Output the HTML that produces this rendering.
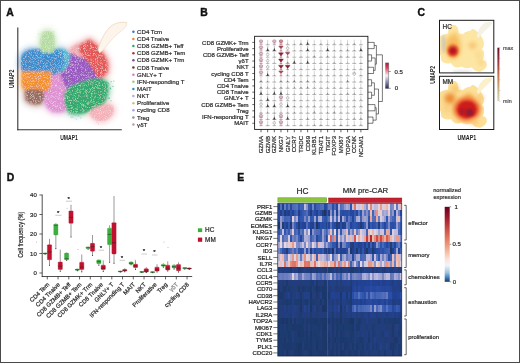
<!DOCTYPE html><html><head><meta charset="utf-8"><style>html,body{margin:0;padding:0;background:#fff;overflow:hidden}svg{display:block;will-change:transform}</style></head><body><svg width="520" height="363" viewBox="0 0 520 363" font-family="'Liberation Sans', sans-serif"><defs>
<filter id="blur1" x="-50%" y="-50%" width="200%" height="200%"><feGaussianBlur stdDeviation="1.2"/></filter>
<filter id="blur2" x="-50%" y="-50%" width="200%" height="200%"><feGaussianBlur stdDeviation="2"/></filter>
<filter id="blur3" x="-50%" y="-50%" width="200%" height="200%"><feGaussianBlur stdDeviation="3"/></filter>
<filter id="blurA" x="-50%" y="-50%" width="200%" height="200%"><feGaussianBlur stdDeviation="0.9"/></filter>
<filter id="blurH" x="-5%" y="-5%" width="110%" height="110%"><feGaussianBlur stdDeviation="0.55"/></filter>
<filter id="blur15" x="-20%" y="-20%" width="140%" height="140%"><feGaussianBlur stdDeviation="1.3"/></filter>
<filter id="blur05" x="-50%" y="-50%" width="200%" height="200%"><feGaussianBlur stdDeviation="0.6"/></filter>
<linearGradient id="cbB" x1="0" y1="0" x2="0" y2="1"><stop offset="0" stop-color="#9c1c36"/><stop offset="0.2" stop-color="#e0405a"/><stop offset="0.5" stop-color="#f4f0f2"/><stop offset="0.75" stop-color="#8a8ab0"/><stop offset="1" stop-color="#1e2450"/></linearGradient>
<linearGradient id="cbC" x1="0" y1="0" x2="0" y2="1"><stop offset="0" stop-color="#6a0f2c"/><stop offset="0.3" stop-color="#a83a40"/><stop offset="0.55" stop-color="#c87a50"/><stop offset="0.8" stop-color="#c8b882"/><stop offset="1" stop-color="#d4d4bc"/></linearGradient>
<linearGradient id="cbE" x1="0" y1="0" x2="0" y2="1"><stop offset="0" stop-color="#67001f"/><stop offset="0.15" stop-color="#a51a2c"/><stop offset="0.35" stop-color="#d6604d"/><stop offset="0.55" stop-color="#f2a98a"/><stop offset="0.7" stop-color="#f9e4da"/><stop offset="0.78" stop-color="#f4f4f6"/><stop offset="0.88" stop-color="#9cc2de"/><stop offset="0.95" stop-color="#3a78b4"/><stop offset="1" stop-color="#1a3468"/></linearGradient>
</defs>
<rect x="0.00" y="0.00" width="520.00" height="363.00" fill="#ffffff" stroke="none" stroke-width="0.8" />
<text stroke="#111" stroke-width="0.4" x="6.20" y="15.70" font-size="10.4" text-anchor="start" fill="#111" font-weight="bold" >A</text>
<g filter="url(#blur3)" opacity="0.28">
<path d="M46,74 C54,70 64,72 72,80 C74,88 72,100 68,108 C64,111 58,112 53,111 C49,109 46,105 45,100 C44,92 45,82 46,74 Z" fill="#de90d2" stroke="#de90d2" stroke-width="8" stroke-linejoin="round"/>
<path d="M60,58 C66,54 76,52 86,55 C94,60 99,68 101,76 L101,84 C92,84 80,86 70,92 C66,88 64,82 62,76 C60,70 59,64 60,58 Z" fill="#9858c0" stroke="#9858c0" stroke-width="8" stroke-linejoin="round"/>
<path d="M52,51 C60,48 67,50 70,55 L68,64 C65,70 60,73 55,73 C52,66 51,58 52,51 Z" fill="#58b8d0" stroke="#58b8d0" stroke-width="8" stroke-linejoin="round"/>
<path d="M23,73 C21,66 21,58 24,54 C27,50 35,50 45,49.5 C52,49.5 58,50 62,51.5 L64,62 C62,68 58,73 52,75 L36,75 Z" fill="#3a8ccc" stroke="#3a8ccc" stroke-width="8" stroke-linejoin="round"/>
<path d="M42,52 C41,46 41,38 43,34 C45,31 50,31 52,34 C54,38 54,46 53,52 Z" fill="#b4dca0" stroke="#b4dca0" stroke-width="8" stroke-linejoin="round"/>
<path d="M22.5,72 L51,72 C51.5,80 50.5,86 48.5,89.5 C42,91.5 35,92.5 30,92 C26,90.5 23,88 22.5,84 Z" fill="#f2902c" stroke="#f2902c" stroke-width="8" stroke-linejoin="round"/>
<path d="M26,91 C30,90 38,90 43,92 C44,96 43,100 40,103 C35,104 30,103 27,100 C26,97 26,94 26,91 Z" fill="#9a6a5c" stroke="#9a6a5c" stroke-width="8" stroke-linejoin="round"/>
<path d="M70,50 C74,46 80,44 85,45 L87,58 C80,57 74,54 70,50 Z" fill="#f2aab0" stroke="#f2aab0" stroke-width="8" stroke-linejoin="round"/>
<path d="M79,48 C81,45 84,43 86,44 C87,42 88,40 90,41 C92,43 94,44 96,46 C99,50 101,53 103,55 C106.5,60 107.5,66 106.5,71 C105,75 102,77 98,77 C95,71 91,64 86,59 C83,56 80,52 79,48 Z" fill="#e45656" stroke="#e45656" stroke-width="8" stroke-linejoin="round"/>
<path d="M65,97 C65,92 67,89 71,87 C79,83 88,80 96,79 C101,79 105,81 107,85 C107.5,92 106,98 104,102 C101,106 96,108.5 90,110.5 C84,112.5 76,113.5 71,112.5 C67,110.5 65,106 65,97 Z" fill="#30aa6e" stroke="#30aa6e" stroke-width="8" stroke-linejoin="round"/>
<path d="M90,112 C94,108 100,106 106,105 C110,105 114,107 113,111 C112,115 108,118 104,120 C100,121 95,119 92,116 Z" fill="#f4b0b8" stroke="#f4b0b8" stroke-width="8" stroke-linejoin="round"/>
</g>
<g filter="url(#blur2)" opacity="0.45">
<path d="M46,74 C54,70 64,72 72,80 C74,88 72,100 68,108 C64,111 58,112 53,111 C49,109 46,105 45,100 C44,92 45,82 46,74 Z" fill="#de90d2" stroke="#de90d2" stroke-width="4.5" stroke-linejoin="round"/>
<path d="M60,58 C66,54 76,52 86,55 C94,60 99,68 101,76 L101,84 C92,84 80,86 70,92 C66,88 64,82 62,76 C60,70 59,64 60,58 Z" fill="#9858c0" stroke="#9858c0" stroke-width="4.5" stroke-linejoin="round"/>
<path d="M52,51 C60,48 67,50 70,55 L68,64 C65,70 60,73 55,73 C52,66 51,58 52,51 Z" fill="#58b8d0" stroke="#58b8d0" stroke-width="4.5" stroke-linejoin="round"/>
<path d="M23,73 C21,66 21,58 24,54 C27,50 35,50 45,49.5 C52,49.5 58,50 62,51.5 L64,62 C62,68 58,73 52,75 L36,75 Z" fill="#3a8ccc" stroke="#3a8ccc" stroke-width="4.5" stroke-linejoin="round"/>
<path d="M42,52 C41,46 41,38 43,34 C45,31 50,31 52,34 C54,38 54,46 53,52 Z" fill="#b4dca0" stroke="#b4dca0" stroke-width="4.5" stroke-linejoin="round"/>
<path d="M22.5,72 L51,72 C51.5,80 50.5,86 48.5,89.5 C42,91.5 35,92.5 30,92 C26,90.5 23,88 22.5,84 Z" fill="#f2902c" stroke="#f2902c" stroke-width="4.5" stroke-linejoin="round"/>
<path d="M26,91 C30,90 38,90 43,92 C44,96 43,100 40,103 C35,104 30,103 27,100 C26,97 26,94 26,91 Z" fill="#9a6a5c" stroke="#9a6a5c" stroke-width="4.5" stroke-linejoin="round"/>
<path d="M70,50 C74,46 80,44 85,45 L87,58 C80,57 74,54 70,50 Z" fill="#f2aab0" stroke="#f2aab0" stroke-width="4.5" stroke-linejoin="round"/>
<path d="M79,48 C81,45 84,43 86,44 C87,42 88,40 90,41 C92,43 94,44 96,46 C99,50 101,53 103,55 C106.5,60 107.5,66 106.5,71 C105,75 102,77 98,77 C95,71 91,64 86,59 C83,56 80,52 79,48 Z" fill="#e45656" stroke="#e45656" stroke-width="4.5" stroke-linejoin="round"/>
<path d="M65,97 C65,92 67,89 71,87 C79,83 88,80 96,79 C101,79 105,81 107,85 C107.5,92 106,98 104,102 C101,106 96,108.5 90,110.5 C84,112.5 76,113.5 71,112.5 C67,110.5 65,106 65,97 Z" fill="#30aa6e" stroke="#30aa6e" stroke-width="4.5" stroke-linejoin="round"/>
<path d="M90,112 C94,108 100,106 106,105 C110,105 114,107 113,111 C112,115 108,118 104,120 C100,121 95,119 92,116 Z" fill="#f4b0b8" stroke="#f4b0b8" stroke-width="4.5" stroke-linejoin="round"/>
</g>
<filter id="speck" x="0" y="0" width="100%" height="100%"><feGaussianBlur in="SourceGraphic" stdDeviation="0.9" result="b"/><feTurbulence type="fractalNoise" baseFrequency="1.6" numOctaves="2" seed="5" result="n"/><feColorMatrix in="n" type="matrix" values="0 0 0 0 1  0 0 0 0 1  0 0 0 0 1  1.4 0 0 0 -0.68" result="w"/><feGaussianBlur in="w" stdDeviation="0.35" result="w2"/><feComposite in="w2" in2="b" operator="in" result="wi"/><feMerge><feMergeNode in="b"/><feMergeNode in="wi"/></feMerge></filter>
<g filter="url(#speck)">
<path d="M46,74 C54,70 64,72 72,80 C74,88 72,100 68,108 C64,111 58,112 53,111 C49,109 46,105 45,100 C44,92 45,82 46,74 Z" fill="#de90d2" stroke="#de90d2" stroke-width="1.6" stroke-linejoin="round"/>
<path d="M60,58 C66,54 76,52 86,55 C94,60 99,68 101,76 L101,84 C92,84 80,86 70,92 C66,88 64,82 62,76 C60,70 59,64 60,58 Z" fill="#9858c0" stroke="#9858c0" stroke-width="1.6" stroke-linejoin="round"/>
<path d="M52,51 C60,48 67,50 70,55 L68,64 C65,70 60,73 55,73 C52,66 51,58 52,51 Z" fill="#58b8d0" stroke="#58b8d0" stroke-width="1.6" stroke-linejoin="round"/>
<path d="M23,73 C21,66 21,58 24,54 C27,50 35,50 45,49.5 C52,49.5 58,50 62,51.5 L64,62 C62,68 58,73 52,75 L36,75 Z" fill="#3a8ccc" stroke="#3a8ccc" stroke-width="1.6" stroke-linejoin="round"/>
<path d="M42,52 C41,46 41,38 43,34 C45,31 50,31 52,34 C54,38 54,46 53,52 Z" fill="#b4dca0" stroke="#b4dca0" stroke-width="1.6" stroke-linejoin="round"/>
<path d="M22.5,72 L51,72 C51.5,80 50.5,86 48.5,89.5 C42,91.5 35,92.5 30,92 C26,90.5 23,88 22.5,84 Z" fill="#f2902c" stroke="#f2902c" stroke-width="1.6" stroke-linejoin="round"/>
<path d="M26,91 C30,90 38,90 43,92 C44,96 43,100 40,103 C35,104 30,103 27,100 C26,97 26,94 26,91 Z" fill="#9a6a5c" stroke="#9a6a5c" stroke-width="1.6" stroke-linejoin="round"/>
<path d="M70,50 C74,46 80,44 85,45 L87,58 C80,57 74,54 70,50 Z" fill="#f2aab0" stroke="#f2aab0" stroke-width="1.6" stroke-linejoin="round"/>
<path d="M79,48 C81,45 84,43 86,44 C87,42 88,40 90,41 C92,43 94,44 96,46 C99,50 101,53 103,55 C106.5,60 107.5,66 106.5,71 C105,75 102,77 98,77 C95,71 91,64 86,59 C83,56 80,52 79,48 Z" fill="#e45656" stroke="#e45656" stroke-width="1.6" stroke-linejoin="round"/>
<path d="M65,97 C65,92 67,89 71,87 C79,83 88,80 96,79 C101,79 105,81 107,85 C107.5,92 106,98 104,102 C101,106 96,108.5 90,110.5 C84,112.5 76,113.5 71,112.5 C67,110.5 65,106 65,97 Z" fill="#30aa6e" stroke="#30aa6e" stroke-width="1.6" stroke-linejoin="round"/>
<path d="M90,112 C94,108 100,106 106,105 C110,105 114,107 113,111 C112,115 108,118 104,120 C100,121 95,119 92,116 Z" fill="#f4b0b8" stroke="#f4b0b8" stroke-width="1.6" stroke-linejoin="round"/>
</g>
<circle cx="108.6" cy="83.3" r="0.6" fill="#2aa86a" opacity="0.6"/>
<circle cx="111.2" cy="81.6" r="0.6" fill="#2aa86a" opacity="0.6"/>
<circle cx="110.3" cy="88.0" r="0.6" fill="#2aa86a" opacity="0.6"/>
<circle cx="106.5" cy="91.2" r="0.6" fill="#2aa86a" opacity="0.6"/>
<circle cx="106.3" cy="89.5" r="0.6" fill="#2aa86a" opacity="0.6"/>
<circle cx="106.6" cy="82.0" r="0.6" fill="#2aa86a" opacity="0.6"/>
<circle cx="109.4" cy="98.2" r="0.6" fill="#2aa86a" opacity="0.6"/>
<circle cx="107.0" cy="84.9" r="0.6" fill="#2aa86a" opacity="0.6"/>
<circle cx="111.0" cy="100.8" r="0.6" fill="#2aa86a" opacity="0.6"/>
<circle cx="110.6" cy="88.7" r="0.6" fill="#2aa86a" opacity="0.6"/>
<circle cx="113.8" cy="81.0" r="0.6" fill="#2aa86a" opacity="0.6"/>
<circle cx="112.9" cy="86.4" r="0.6" fill="#2aa86a" opacity="0.6"/>
<circle cx="107.2" cy="82.6" r="0.6" fill="#2aa86a" opacity="0.6"/>
<circle cx="108.5" cy="98.0" r="0.6" fill="#2aa86a" opacity="0.6"/>
<circle cx="70.9" cy="117.1" r="0.6" fill="#b8a8e0" opacity="0.6"/>
<circle cx="78.2" cy="115.6" r="0.6" fill="#b8a8e0" opacity="0.6"/>
<circle cx="76.8" cy="113.4" r="0.6" fill="#b8a8e0" opacity="0.6"/>
<circle cx="69.0" cy="114.4" r="0.6" fill="#b8a8e0" opacity="0.6"/>
<circle cx="78.9" cy="116.0" r="0.6" fill="#b8a8e0" opacity="0.6"/>
<circle cx="73.0" cy="117.1" r="0.6" fill="#b8a8e0" opacity="0.6"/>
<circle cx="75.3" cy="115.1" r="0.6" fill="#b8a8e0" opacity="0.6"/>
<circle cx="80.7" cy="117.9" r="0.6" fill="#b8a8e0" opacity="0.6"/>
<circle cx="71.9" cy="117.0" r="0.6" fill="#b8a8e0" opacity="0.6"/>
<circle cx="76.4" cy="119.1" r="0.6" fill="#b8a8e0" opacity="0.6"/>
<circle cx="100.4" cy="120.3" r="0.6" fill="#f4a8b0" opacity="0.6"/>
<circle cx="101.9" cy="118.9" r="0.6" fill="#f4a8b0" opacity="0.6"/>
<circle cx="98.5" cy="124.1" r="0.6" fill="#f4a8b0" opacity="0.6"/>
<circle cx="96.9" cy="121.9" r="0.6" fill="#f4a8b0" opacity="0.6"/>
<circle cx="38.7" cy="34.0" r="0.6" fill="#a8d890" opacity="0.6"/>
<circle cx="51.8" cy="33.4" r="0.6" fill="#a8d890" opacity="0.6"/>
<circle cx="53.8" cy="31.9" r="0.6" fill="#a8d890" opacity="0.6"/>
<circle cx="50.5" cy="33.6" r="0.6" fill="#a8d890" opacity="0.6"/>
<circle cx="48.4" cy="32.7" r="0.6" fill="#a8d890" opacity="0.6"/>
<circle cx="53.1" cy="35.7" r="0.6" fill="#a8d890" opacity="0.6"/>
<circle cx="41.1" cy="49.7" r="0.6" fill="#c8c0e8" opacity="0.6"/>
<circle cx="26.2" cy="49.8" r="0.6" fill="#c8c0e8" opacity="0.6"/>
<circle cx="47.3" cy="51.0" r="0.6" fill="#c8c0e8" opacity="0.6"/>
<circle cx="53.6" cy="48.1" r="0.6" fill="#c8c0e8" opacity="0.6"/>
<circle cx="37.9" cy="49.7" r="0.6" fill="#c8c0e8" opacity="0.6"/>
<circle cx="24.8" cy="48.8" r="0.6" fill="#c8c0e8" opacity="0.6"/>
<circle cx="30.0" cy="47.5" r="0.6" fill="#c8c0e8" opacity="0.6"/>
<circle cx="26.1" cy="50.1" r="0.6" fill="#c8c0e8" opacity="0.6"/>
<circle cx="28.7" cy="48.0" r="0.6" fill="#c8c0e8" opacity="0.6"/>
<circle cx="38.1" cy="50.5" r="0.6" fill="#c8c0e8" opacity="0.6"/>
<path d="M98,50 C100,42 104,33 110,27 C114,23.5 120,21.5 126.7,22.5 C127,26 124,29 120,32 C116,35 112,39 108,44 C105,48 102,51 99.4,53 Z" fill="#fdf5ec" stroke="none" filter="url(#blur05)"/>
<path d="M98,50 C100,42 104,33 110,27 C114,23.5 120,21.5 126.7,22.5" fill="none" stroke="#efd6b8" stroke-width="0.8" filter="url(#blur05)"/>
<path d="M126.7,22.5 C127,26 124,29 120,32 C116,35 112,39 108,44 C105,48 102,51 99.4,53" fill="none" stroke="#f3dfc6" stroke-width="0.8" filter="url(#blur05)"/>
<line x1="17.80" y1="27.50" x2="17.80" y2="130.20" stroke="#333" stroke-width="1.1" />
<line x1="17.30" y1="129.80" x2="121.80" y2="129.80" stroke="#333" stroke-width="1.1" />
<text transform="translate(13.6,78.8) rotate(-90) scale(0.65,1)" font-size="8.1" font-weight="bold" text-anchor="middle" fill="#1e1e1e">UMAP2</text>
<text transform="translate(69.0,139.6) scale(0.65,1)" font-size="7.8" font-weight="bold" text-anchor="middle" fill="#1e1e1e">UMAP1</text>
<circle cx="133.4" cy="31.80" r="1.25" fill="#2a7fc0"/>
<text stroke="#3a3a3a" stroke-width="0.22" x="137.10" y="33.90" font-size="6.1" text-anchor="start" fill="#262626" font-weight="normal" >CD4 Tcm</text>
<circle cx="133.4" cy="38.94" r="1.25" fill="#f08a24"/>
<text stroke="#3a3a3a" stroke-width="0.22" x="137.10" y="41.04" font-size="6.1" text-anchor="start" fill="#262626" font-weight="normal" >CD4 Tnaive</text>
<circle cx="133.4" cy="46.08" r="1.25" fill="#2ca868"/>
<text stroke="#3a3a3a" stroke-width="0.22" x="137.10" y="48.18" font-size="6.1" text-anchor="start" fill="#262626" font-weight="normal" >CD8 GZMB+ Teff</text>
<circle cx="133.4" cy="53.22" r="1.25" fill="#c8283a"/>
<text stroke="#3a3a3a" stroke-width="0.22" x="137.10" y="55.32" font-size="6.1" text-anchor="start" fill="#262626" font-weight="normal" >CD8 GZMB+ Tem</text>
<circle cx="133.4" cy="60.36" r="1.25" fill="#7a4aa0"/>
<text stroke="#3a3a3a" stroke-width="0.22" x="137.10" y="62.46" font-size="6.1" text-anchor="start" fill="#262626" font-weight="normal" >CD8 GZMK+ Trm</text>
<circle cx="133.4" cy="67.50" r="1.25" fill="#6a3a30"/>
<text stroke="#3a3a3a" stroke-width="0.22" x="137.10" y="69.60" font-size="6.1" text-anchor="start" fill="#262626" font-weight="normal" >CD8 Tnaive</text>
<circle cx="133.4" cy="74.64" r="1.25" fill="#d77cc4"/>
<text stroke="#3a3a3a" stroke-width="0.22" x="137.10" y="76.74" font-size="6.1" text-anchor="start" fill="#262626" font-weight="normal" >GNLY+ T</text>
<circle cx="133.4" cy="81.78" r="1.25" fill="#a6c86a"/>
<text stroke="#3a3a3a" stroke-width="0.22" x="137.10" y="83.88" font-size="6.1" text-anchor="start" fill="#262626" font-weight="normal" >IFN-responding T</text>
<circle cx="133.4" cy="88.92" r="1.25" fill="#3090c0"/>
<text stroke="#3a3a3a" stroke-width="0.22" x="137.10" y="91.02" font-size="6.1" text-anchor="start" fill="#262626" font-weight="normal" >MAIT</text>
<circle cx="133.4" cy="96.06" r="1.25" fill="#a8b0e0"/>
<text stroke="#3a3a3a" stroke-width="0.22" x="137.10" y="98.16" font-size="6.1" text-anchor="start" fill="#262626" font-weight="normal" >NKT</text>
<circle cx="133.4" cy="103.20" r="1.25" fill="#e0b880"/>
<text stroke="#3a3a3a" stroke-width="0.22" x="137.10" y="105.30" font-size="6.1" text-anchor="start" fill="#262626" font-weight="normal" >Proliferative</text>
<circle cx="133.4" cy="110.34" r="1.25" fill="#b0a0e0"/>
<text stroke="#3a3a3a" stroke-width="0.22" x="137.10" y="112.44" font-size="6.1" text-anchor="start" fill="#262626" font-weight="normal" >cycling CD8</text>
<circle cx="133.4" cy="117.48" r="1.25" fill="#909090"/>
<text stroke="#3a3a3a" stroke-width="0.22" x="137.10" y="119.58" font-size="6.1" text-anchor="start" fill="#262626" font-weight="normal" >Treg</text>
<circle cx="133.4" cy="124.62" r="1.25" fill="#c09aa8"/>
<text stroke="#3a3a3a" stroke-width="0.22" x="137.10" y="126.72" font-size="6.1" text-anchor="start" fill="#262626" font-weight="normal" >γδT</text>
<text stroke="#111" stroke-width="0.4" x="200.20" y="15.90" font-size="10.4" text-anchor="start" fill="#111" font-weight="bold" >B</text>
<text stroke="#333" stroke-width="0.22" x="248.60" y="44.50" font-size="6.0" text-anchor="end" fill="#1e1e1e" font-weight="normal" >CD8 GZMK+ Trm</text>
<line x1="252.30" y1="42.40" x2="254.60" y2="42.40" stroke="#222" stroke-width="0.7" />
<text stroke="#333" stroke-width="0.22" x="248.60" y="50.72" font-size="6.0" text-anchor="end" fill="#1e1e1e" font-weight="normal" >Proliferative</text>
<line x1="252.30" y1="48.62" x2="254.60" y2="48.62" stroke="#222" stroke-width="0.7" />
<text stroke="#333" stroke-width="0.22" x="248.60" y="56.94" font-size="6.0" text-anchor="end" fill="#1e1e1e" font-weight="normal" >CD8 GZMB+ Teff</text>
<line x1="252.30" y1="54.84" x2="254.60" y2="54.84" stroke="#222" stroke-width="0.7" />
<text stroke="#333" stroke-width="0.22" x="248.60" y="63.16" font-size="6.0" text-anchor="end" fill="#1e1e1e" font-weight="normal" >γδT</text>
<line x1="252.30" y1="61.06" x2="254.60" y2="61.06" stroke="#222" stroke-width="0.7" />
<text stroke="#333" stroke-width="0.22" x="248.60" y="69.38" font-size="6.0" text-anchor="end" fill="#1e1e1e" font-weight="normal" >NKT</text>
<line x1="252.30" y1="67.28" x2="254.60" y2="67.28" stroke="#222" stroke-width="0.7" />
<text stroke="#333" stroke-width="0.22" x="248.60" y="75.60" font-size="6.0" text-anchor="end" fill="#1e1e1e" font-weight="normal" >cycling CD8 T</text>
<line x1="252.30" y1="73.50" x2="254.60" y2="73.50" stroke="#222" stroke-width="0.7" />
<text stroke="#333" stroke-width="0.22" x="248.60" y="81.82" font-size="6.0" text-anchor="end" fill="#1e1e1e" font-weight="normal" >CD4 Tem</text>
<line x1="252.30" y1="79.72" x2="254.60" y2="79.72" stroke="#222" stroke-width="0.7" />
<text stroke="#333" stroke-width="0.22" x="248.60" y="88.04" font-size="6.0" text-anchor="end" fill="#1e1e1e" font-weight="normal" >CD4 Tnaive</text>
<line x1="252.30" y1="85.94" x2="254.60" y2="85.94" stroke="#222" stroke-width="0.7" />
<text stroke="#333" stroke-width="0.22" x="248.60" y="94.26" font-size="6.0" text-anchor="end" fill="#1e1e1e" font-weight="normal" >CD8 Tnaive</text>
<line x1="252.30" y1="92.16" x2="254.60" y2="92.16" stroke="#222" stroke-width="0.7" />
<text stroke="#333" stroke-width="0.22" x="248.60" y="100.48" font-size="6.0" text-anchor="end" fill="#1e1e1e" font-weight="normal" >GNLY+ T</text>
<line x1="252.30" y1="98.38" x2="254.60" y2="98.38" stroke="#222" stroke-width="0.7" />
<text stroke="#333" stroke-width="0.22" x="248.60" y="106.70" font-size="6.0" text-anchor="end" fill="#1e1e1e" font-weight="normal" >CD8 GZMB+ Tem</text>
<line x1="252.30" y1="104.60" x2="254.60" y2="104.60" stroke="#222" stroke-width="0.7" />
<text stroke="#333" stroke-width="0.22" x="248.60" y="112.92" font-size="6.0" text-anchor="end" fill="#1e1e1e" font-weight="normal" >Treg</text>
<line x1="252.30" y1="110.82" x2="254.60" y2="110.82" stroke="#222" stroke-width="0.7" />
<text stroke="#333" stroke-width="0.22" x="248.60" y="119.14" font-size="6.0" text-anchor="end" fill="#1e1e1e" font-weight="normal" >IFN-responding T</text>
<line x1="252.30" y1="117.04" x2="254.60" y2="117.04" stroke="#222" stroke-width="0.7" />
<text stroke="#333" stroke-width="0.22" x="248.60" y="125.36" font-size="6.0" text-anchor="end" fill="#1e1e1e" font-weight="normal" >MAIT</text>
<line x1="252.30" y1="123.26" x2="254.60" y2="123.26" stroke="#222" stroke-width="0.7" />
<line x1="261.00" y1="129.40" x2="261.00" y2="132.30" stroke="#222" stroke-width="0.7" />
<text stroke="#333" stroke-width="0.22" transform="translate(263.10,136.00) rotate(-90)" font-size="6.0" text-anchor="end" fill="#1e1e1e">GZMA</text>
<line x1="267.66" y1="129.40" x2="267.66" y2="132.30" stroke="#222" stroke-width="0.7" />
<text stroke="#333" stroke-width="0.22" transform="translate(269.76,136.00) rotate(-90)" font-size="6.0" text-anchor="end" fill="#1e1e1e">GZMB</text>
<line x1="274.32" y1="129.40" x2="274.32" y2="132.30" stroke="#222" stroke-width="0.7" />
<text stroke="#333" stroke-width="0.22" transform="translate(276.42,136.00) rotate(-90)" font-size="6.0" text-anchor="end" fill="#1e1e1e">GZMK</text>
<line x1="280.98" y1="129.40" x2="280.98" y2="132.30" stroke="#222" stroke-width="0.7" />
<text stroke="#333" stroke-width="0.22" transform="translate(283.08,136.00) rotate(-90)" font-size="6.0" text-anchor="end" fill="#1e1e1e">NKG7</text>
<line x1="287.64" y1="129.40" x2="287.64" y2="132.30" stroke="#222" stroke-width="0.7" />
<text stroke="#333" stroke-width="0.22" transform="translate(289.74,136.00) rotate(-90)" font-size="6.0" text-anchor="end" fill="#1e1e1e">GNLY</text>
<line x1="294.30" y1="129.40" x2="294.30" y2="132.30" stroke="#222" stroke-width="0.7" />
<text stroke="#333" stroke-width="0.22" transform="translate(296.40,136.00) rotate(-90)" font-size="6.0" text-anchor="end" fill="#1e1e1e">CCR7</text>
<line x1="300.96" y1="129.40" x2="300.96" y2="132.30" stroke="#222" stroke-width="0.7" />
<text stroke="#333" stroke-width="0.22" transform="translate(303.06,136.00) rotate(-90)" font-size="6.0" text-anchor="end" fill="#1e1e1e">TRDC</text>
<line x1="307.62" y1="129.40" x2="307.62" y2="132.30" stroke="#222" stroke-width="0.7" />
<text stroke="#333" stroke-width="0.22" transform="translate(309.72,136.00) rotate(-90)" font-size="6.0" text-anchor="end" fill="#1e1e1e">CD69</text>
<line x1="314.28" y1="129.40" x2="314.28" y2="132.30" stroke="#222" stroke-width="0.7" />
<text stroke="#333" stroke-width="0.22" transform="translate(316.38,136.00) rotate(-90)" font-size="6.0" text-anchor="end" fill="#1e1e1e">KLRB1</text>
<line x1="320.94" y1="129.40" x2="320.94" y2="132.30" stroke="#222" stroke-width="0.7" />
<text stroke="#333" stroke-width="0.22" transform="translate(323.04,136.00) rotate(-90)" font-size="6.0" text-anchor="end" fill="#1e1e1e">TRAT1</text>
<line x1="327.60" y1="129.40" x2="327.60" y2="132.30" stroke="#222" stroke-width="0.7" />
<text stroke="#333" stroke-width="0.22" transform="translate(329.70,136.00) rotate(-90)" font-size="6.0" text-anchor="end" fill="#1e1e1e">TIGIT</text>
<line x1="334.26" y1="129.40" x2="334.26" y2="132.30" stroke="#222" stroke-width="0.7" />
<text stroke="#333" stroke-width="0.22" transform="translate(336.36,136.00) rotate(-90)" font-size="6.0" text-anchor="end" fill="#1e1e1e">FOXP3</text>
<line x1="340.92" y1="129.40" x2="340.92" y2="132.30" stroke="#222" stroke-width="0.7" />
<text stroke="#333" stroke-width="0.22" transform="translate(343.02,136.00) rotate(-90)" font-size="6.0" text-anchor="end" fill="#1e1e1e">MKI67</text>
<line x1="347.58" y1="129.40" x2="347.58" y2="132.30" stroke="#222" stroke-width="0.7" />
<text stroke="#333" stroke-width="0.22" transform="translate(349.68,136.00) rotate(-90)" font-size="6.0" text-anchor="end" fill="#1e1e1e">TOP2A</text>
<line x1="354.24" y1="129.40" x2="354.24" y2="132.30" stroke="#222" stroke-width="0.7" />
<text stroke="#333" stroke-width="0.22" transform="translate(356.34,136.00) rotate(-90)" font-size="6.0" text-anchor="end" fill="#1e1e1e">CCNK</text>
<line x1="360.90" y1="129.40" x2="360.90" y2="132.30" stroke="#222" stroke-width="0.7" />
<text stroke="#333" stroke-width="0.22" transform="translate(363.00,136.00) rotate(-90)" font-size="6.0" text-anchor="end" fill="#1e1e1e">NCAM1</text>
<line x1="261.00" y1="39.70" x2="261.00" y2="44.80" stroke="#9a6878" stroke-width="0.5" />
<line x1="259.40" y1="44.80" x2="262.60" y2="44.80" stroke="#9a6878" stroke-width="0.6" />
<line x1="259.30" y1="42.90" x2="262.70" y2="42.90" stroke="#9a6878" stroke-width="0.5" />
<ellipse cx="261.00" cy="41.10" rx="1.8" ry="1.2" fill="#e4c4cc" stroke="#9a6878" stroke-width="0.5"/>
<line x1="267.66" y1="39.70" x2="267.66" y2="44.80" stroke="#a0a0a0" stroke-width="0.45" />
<line x1="265.66" y1="44.80" x2="269.66" y2="44.80" stroke="#808080" stroke-width="0.55" />
<path d="M267.10,44.80 L268.22,44.80 L267.66,43.28Z" fill="#949494" stroke="none" stroke-width="0.3"/>
<line x1="274.32" y1="39.70" x2="274.32" y2="44.80" stroke="#9a6878" stroke-width="0.5" />
<line x1="272.72" y1="44.80" x2="275.92" y2="44.80" stroke="#9a6878" stroke-width="0.6" />
<line x1="272.62" y1="42.90" x2="276.02" y2="42.90" stroke="#9a6878" stroke-width="0.5" />
<ellipse cx="274.32" cy="41.10" rx="1.8" ry="1.2" fill="#e4c4cc" stroke="#9a6878" stroke-width="0.5"/>
<line x1="280.98" y1="39.70" x2="280.98" y2="44.80" stroke="#9a3a4c" stroke-width="0.5" />
<line x1="279.38" y1="44.80" x2="282.58" y2="44.80" stroke="#9a3a4c" stroke-width="0.6" />
<line x1="279.28" y1="42.90" x2="282.68" y2="42.90" stroke="#9a3a4c" stroke-width="0.5" />
<ellipse cx="280.98" cy="41.10" rx="1.8" ry="1.2" fill="#d89aa6" stroke="#9a3a4c" stroke-width="0.5"/>
<line x1="287.64" y1="39.70" x2="287.64" y2="44.80" stroke="#a0a0a0" stroke-width="0.45" />
<line x1="285.64" y1="44.80" x2="289.64" y2="44.80" stroke="#808080" stroke-width="0.55" />
<path d="M286.52,44.80 L288.76,44.80 L287.64,42.69Z" fill="#aaaaaa" stroke="none" stroke-width="0.3"/>
<line x1="294.30" y1="39.70" x2="294.30" y2="44.80" stroke="#a0a0a0" stroke-width="0.45" />
<line x1="292.30" y1="44.80" x2="296.30" y2="44.80" stroke="#808080" stroke-width="0.55" />
<path d="M293.61,44.80 L294.99,44.80 L294.30,43.34Z" fill="#878787" stroke="none" stroke-width="0.3"/>
<line x1="300.96" y1="39.70" x2="300.96" y2="44.80" stroke="#a0a0a0" stroke-width="0.45" />
<line x1="298.96" y1="44.80" x2="302.96" y2="44.80" stroke="#808080" stroke-width="0.55" />
<path d="M299.84,44.80 L302.08,44.80 L300.96,42.47Z" fill="#787878" stroke="none" stroke-width="0.3"/>
<line x1="307.62" y1="39.70" x2="307.62" y2="44.80" stroke="#777" stroke-width="0.5" />
<line x1="305.52" y1="44.80" x2="309.72" y2="44.80" stroke="#666" stroke-width="0.55" />
<path d="M306.32,44.80 L308.92,44.80 L307.92,42.60 L307.62,41.60 L307.32,42.60Z" fill="#404040" stroke="none" stroke-width="0.3"/>
<line x1="314.28" y1="39.70" x2="314.28" y2="44.80" stroke="#a0a0a0" stroke-width="0.45" />
<line x1="312.28" y1="44.80" x2="316.28" y2="44.80" stroke="#808080" stroke-width="0.55" />
<path d="M313.66,44.80 L314.90,44.80 L314.28,43.63Z" fill="#7e7e7e" stroke="none" stroke-width="0.3"/>
<line x1="320.94" y1="39.70" x2="320.94" y2="44.80" stroke="#a0a0a0" stroke-width="0.45" />
<line x1="318.94" y1="44.80" x2="322.94" y2="44.80" stroke="#808080" stroke-width="0.55" />
<path d="M320.10,44.80 L321.78,44.80 L320.94,43.06Z" fill="#808080" stroke="none" stroke-width="0.3"/>
<line x1="327.60" y1="39.70" x2="327.60" y2="44.80" stroke="#a0a0a0" stroke-width="0.45" />
<line x1="325.60" y1="44.80" x2="329.60" y2="44.80" stroke="#808080" stroke-width="0.55" />
<path d="M327.10,44.80 L328.10,44.80 L327.60,43.33Z" fill="#878787" stroke="none" stroke-width="0.3"/>
<line x1="334.26" y1="39.70" x2="334.26" y2="44.80" stroke="#a0a0a0" stroke-width="0.45" />
<line x1="332.26" y1="44.80" x2="336.26" y2="44.80" stroke="#808080" stroke-width="0.55" />
<path d="M333.36,44.80 L335.16,44.80 L334.26,42.48Z" fill="#9e9e9e" stroke="none" stroke-width="0.3"/>
<line x1="340.92" y1="39.70" x2="340.92" y2="44.80" stroke="#a0a0a0" stroke-width="0.45" />
<line x1="338.92" y1="44.80" x2="342.92" y2="44.80" stroke="#808080" stroke-width="0.55" />
<path d="M340.06,44.80 L341.78,44.80 L340.92,43.01Z" fill="#9d9d9d" stroke="none" stroke-width="0.3"/>
<line x1="347.58" y1="39.70" x2="347.58" y2="44.80" stroke="#a0a0a0" stroke-width="0.45" />
<line x1="345.58" y1="44.80" x2="349.58" y2="44.80" stroke="#808080" stroke-width="0.55" />
<path d="M347.04,44.80 L348.12,44.80 L347.58,42.56Z" fill="#a4a4a4" stroke="none" stroke-width="0.3"/>
<line x1="354.24" y1="39.70" x2="354.24" y2="44.80" stroke="#a0a0a0" stroke-width="0.45" />
<line x1="352.24" y1="44.80" x2="356.24" y2="44.80" stroke="#808080" stroke-width="0.55" />
<path d="M353.13,44.80 L355.35,44.80 L354.24,42.72Z" fill="#898989" stroke="none" stroke-width="0.3"/>
<line x1="360.90" y1="39.70" x2="360.90" y2="44.80" stroke="#a0a0a0" stroke-width="0.45" />
<line x1="358.90" y1="44.80" x2="362.90" y2="44.80" stroke="#808080" stroke-width="0.55" />
<path d="M360.12,44.80 L361.68,44.80 L360.90,43.83Z" fill="#9a9a9a" stroke="none" stroke-width="0.3"/>
<line x1="261.00" y1="45.92" x2="261.00" y2="51.02" stroke="#9a6878" stroke-width="0.5" />
<line x1="259.40" y1="51.02" x2="262.60" y2="51.02" stroke="#9a6878" stroke-width="0.6" />
<line x1="259.30" y1="49.12" x2="262.70" y2="49.12" stroke="#9a6878" stroke-width="0.5" />
<ellipse cx="261.00" cy="47.32" rx="1.8" ry="1.2" fill="#e4c4cc" stroke="#9a6878" stroke-width="0.5"/>
<line x1="267.66" y1="45.92" x2="267.66" y2="51.02" stroke="#777" stroke-width="0.5" />
<line x1="265.56" y1="51.02" x2="269.76" y2="51.02" stroke="#666" stroke-width="0.55" />
<path d="M266.36,51.02 L268.96,51.02 L267.96,48.82 L267.66,47.82 L267.36,48.82Z" fill="#404040" stroke="none" stroke-width="0.3"/>
<line x1="274.32" y1="45.92" x2="274.32" y2="51.02" stroke="#777" stroke-width="0.5" />
<line x1="272.22" y1="51.02" x2="276.42" y2="51.02" stroke="#666" stroke-width="0.55" />
<path d="M273.02,51.02 L275.62,51.02 L274.62,48.82 L274.32,47.82 L274.02,48.82Z" fill="#404040" stroke="none" stroke-width="0.3"/>
<line x1="280.98" y1="45.92" x2="280.98" y2="51.02" stroke="#8a3040" stroke-width="0.55" />
<line x1="279.58" y1="51.02" x2="282.38" y2="51.02" stroke="#8a3040" stroke-width="0.55" />
<path d="M278.78,46.02 L283.18,46.02 L282.58,47.12 L281.48,48.22 L280.48,48.22 L279.38,47.12Z" fill="#b04a5a" stroke="#8a3040" stroke-width="0.35"/>
<line x1="287.64" y1="45.92" x2="287.64" y2="51.02" stroke="#888" stroke-width="0.45" />
<line x1="285.84" y1="51.02" x2="289.44" y2="51.02" stroke="#888" stroke-width="0.55" />
<ellipse cx="287.64" cy="48.22" rx="1.4" ry="1.2" fill="#fafafa" stroke="#858585" stroke-width="0.45"/>
<line x1="294.30" y1="45.92" x2="294.30" y2="51.02" stroke="#a0a0a0" stroke-width="0.45" />
<line x1="292.30" y1="51.02" x2="296.30" y2="51.02" stroke="#808080" stroke-width="0.55" />
<path d="M293.76,51.02 L294.84,51.02 L294.30,50.11Z" fill="#7c7c7c" stroke="none" stroke-width="0.3"/>
<line x1="300.96" y1="45.92" x2="300.96" y2="51.02" stroke="#a0a0a0" stroke-width="0.45" />
<line x1="298.96" y1="51.02" x2="302.96" y2="51.02" stroke="#808080" stroke-width="0.55" />
<path d="M300.35,51.02 L301.57,51.02 L300.96,49.68Z" fill="#717171" stroke="none" stroke-width="0.3"/>
<line x1="307.62" y1="45.92" x2="307.62" y2="51.02" stroke="#777" stroke-width="0.5" />
<line x1="305.52" y1="51.02" x2="309.72" y2="51.02" stroke="#666" stroke-width="0.55" />
<path d="M306.32,51.02 L308.92,51.02 L307.92,48.82 L307.62,47.82 L307.32,48.82Z" fill="#404040" stroke="none" stroke-width="0.3"/>
<line x1="314.28" y1="45.92" x2="314.28" y2="51.02" stroke="#a0a0a0" stroke-width="0.45" />
<line x1="312.28" y1="51.02" x2="316.28" y2="51.02" stroke="#808080" stroke-width="0.55" />
<path d="M313.78,51.02 L314.78,51.02 L314.28,49.98Z" fill="#757575" stroke="none" stroke-width="0.3"/>
<line x1="320.94" y1="45.92" x2="320.94" y2="51.02" stroke="#a0a0a0" stroke-width="0.45" />
<line x1="318.94" y1="51.02" x2="322.94" y2="51.02" stroke="#808080" stroke-width="0.55" />
<path d="M320.19,51.02 L321.69,51.02 L320.94,50.18Z" fill="#ababab" stroke="none" stroke-width="0.3"/>
<line x1="327.60" y1="45.92" x2="327.60" y2="51.02" stroke="#777" stroke-width="0.5" />
<line x1="325.50" y1="51.02" x2="329.70" y2="51.02" stroke="#666" stroke-width="0.55" />
<path d="M326.30,51.02 L328.90,51.02 L327.90,48.82 L327.60,47.82 L327.30,48.82Z" fill="#404040" stroke="none" stroke-width="0.3"/>
<line x1="334.26" y1="45.92" x2="334.26" y2="51.02" stroke="#a0a0a0" stroke-width="0.45" />
<line x1="332.26" y1="51.02" x2="336.26" y2="51.02" stroke="#808080" stroke-width="0.55" />
<path d="M333.33,51.02 L335.19,51.02 L334.26,49.98Z" fill="#7f7f7f" stroke="none" stroke-width="0.3"/>
<line x1="340.92" y1="45.92" x2="340.92" y2="51.02" stroke="#a0a0a0" stroke-width="0.45" />
<line x1="338.92" y1="51.02" x2="342.92" y2="51.02" stroke="#808080" stroke-width="0.55" />
<path d="M340.18,51.02 L341.66,51.02 L340.92,49.64Z" fill="#767676" stroke="none" stroke-width="0.3"/>
<line x1="347.58" y1="45.92" x2="347.58" y2="51.02" stroke="#a0a0a0" stroke-width="0.45" />
<line x1="345.58" y1="51.02" x2="349.58" y2="51.02" stroke="#808080" stroke-width="0.55" />
<path d="M346.49,51.02 L348.67,51.02 L347.58,48.63Z" fill="#8e8e8e" stroke="none" stroke-width="0.3"/>
<line x1="354.24" y1="45.92" x2="354.24" y2="51.02" stroke="#a0a0a0" stroke-width="0.45" />
<line x1="352.24" y1="51.02" x2="356.24" y2="51.02" stroke="#808080" stroke-width="0.55" />
<path d="M353.40,51.02 L355.08,51.02 L354.24,50.08Z" fill="#757575" stroke="none" stroke-width="0.3"/>
<line x1="360.90" y1="45.92" x2="360.90" y2="51.02" stroke="#777" stroke-width="0.5" />
<line x1="358.80" y1="51.02" x2="363.00" y2="51.02" stroke="#666" stroke-width="0.55" />
<path d="M359.60,51.02 L362.20,51.02 L361.20,48.82 L360.90,47.82 L360.60,48.82Z" fill="#404040" stroke="none" stroke-width="0.3"/>
<line x1="261.00" y1="52.14" x2="261.00" y2="57.24" stroke="#9a6878" stroke-width="0.5" />
<line x1="259.40" y1="57.24" x2="262.60" y2="57.24" stroke="#9a6878" stroke-width="0.6" />
<line x1="259.30" y1="55.34" x2="262.70" y2="55.34" stroke="#9a6878" stroke-width="0.5" />
<ellipse cx="261.00" cy="53.54" rx="1.8" ry="1.2" fill="#e4c4cc" stroke="#9a6878" stroke-width="0.5"/>
<line x1="267.66" y1="52.14" x2="267.66" y2="57.24" stroke="#888" stroke-width="0.45" />
<line x1="265.86" y1="57.24" x2="269.46" y2="57.24" stroke="#888" stroke-width="0.55" />
<ellipse cx="267.66" cy="54.44" rx="1.4" ry="1.2" fill="#fafafa" stroke="#858585" stroke-width="0.45"/>
<line x1="274.32" y1="52.14" x2="274.32" y2="57.24" stroke="#a0a0a0" stroke-width="0.45" />
<line x1="272.32" y1="57.24" x2="276.32" y2="57.24" stroke="#808080" stroke-width="0.55" />
<path d="M273.58,57.24 L275.06,57.24 L274.32,56.02Z" fill="#a8a8a8" stroke="none" stroke-width="0.3"/>
<line x1="280.98" y1="52.14" x2="280.98" y2="57.24" stroke="#8a3040" stroke-width="0.5" />
<line x1="279.68" y1="57.24" x2="282.28" y2="57.24" stroke="#8a3040" stroke-width="0.55" />
<path d="M278.58,52.74 L283.38,52.74 L282.88,53.84 L281.88,54.84 L281.33,55.74 L280.63,55.74 L280.08,54.84 L279.08,53.84Z" fill="#8e2034" stroke="#7a1828" stroke-width="0.3"/>
<line x1="287.64" y1="52.14" x2="287.64" y2="57.24" stroke="#8a3040" stroke-width="0.55" />
<line x1="286.24" y1="57.24" x2="289.04" y2="57.24" stroke="#8a3040" stroke-width="0.55" />
<path d="M285.44,52.24 L289.84,52.24 L289.24,53.34 L288.14,54.44 L287.14,54.44 L286.04,53.34Z" fill="#b04a5a" stroke="#8a3040" stroke-width="0.35"/>
<line x1="294.30" y1="52.14" x2="294.30" y2="57.24" stroke="#a0a0a0" stroke-width="0.45" />
<line x1="292.30" y1="57.24" x2="296.30" y2="57.24" stroke="#808080" stroke-width="0.55" />
<path d="M293.69,57.24 L294.91,57.24 L294.30,56.40Z" fill="#b0b0b0" stroke="none" stroke-width="0.3"/>
<line x1="300.96" y1="52.14" x2="300.96" y2="57.24" stroke="#a0a0a0" stroke-width="0.45" />
<line x1="298.96" y1="57.24" x2="302.96" y2="57.24" stroke="#808080" stroke-width="0.55" />
<path d="M300.09,57.24 L301.83,57.24 L300.96,56.21Z" fill="#949494" stroke="none" stroke-width="0.3"/>
<line x1="307.62" y1="52.14" x2="307.62" y2="57.24" stroke="#a0a0a0" stroke-width="0.45" />
<line x1="305.62" y1="57.24" x2="309.62" y2="57.24" stroke="#808080" stroke-width="0.55" />
<path d="M307.10,57.24 L308.14,57.24 L307.62,55.60Z" fill="#b2b2b2" stroke="none" stroke-width="0.3"/>
<line x1="314.28" y1="52.14" x2="314.28" y2="57.24" stroke="#a0a0a0" stroke-width="0.45" />
<line x1="312.28" y1="57.24" x2="316.28" y2="57.24" stroke="#808080" stroke-width="0.55" />
<path d="M313.18,57.24 L315.38,57.24 L314.28,55.33Z" fill="#808080" stroke="none" stroke-width="0.3"/>
<line x1="320.94" y1="52.14" x2="320.94" y2="57.24" stroke="#a0a0a0" stroke-width="0.45" />
<line x1="318.94" y1="57.24" x2="322.94" y2="57.24" stroke="#808080" stroke-width="0.55" />
<path d="M320.18,57.24 L321.70,57.24 L320.94,56.17Z" fill="#a4a4a4" stroke="none" stroke-width="0.3"/>
<line x1="327.60" y1="52.14" x2="327.60" y2="57.24" stroke="#a0a0a0" stroke-width="0.45" />
<line x1="325.60" y1="57.24" x2="329.60" y2="57.24" stroke="#808080" stroke-width="0.55" />
<path d="M326.73,57.24 L328.47,57.24 L327.60,55.19Z" fill="#858585" stroke="none" stroke-width="0.3"/>
<line x1="334.26" y1="52.14" x2="334.26" y2="57.24" stroke="#a0a0a0" stroke-width="0.45" />
<line x1="332.26" y1="57.24" x2="336.26" y2="57.24" stroke="#808080" stroke-width="0.55" />
<path d="M333.60,57.24 L334.92,57.24 L334.26,55.14Z" fill="#b2b2b2" stroke="none" stroke-width="0.3"/>
<line x1="340.92" y1="52.14" x2="340.92" y2="57.24" stroke="#a0a0a0" stroke-width="0.45" />
<line x1="338.92" y1="57.24" x2="342.92" y2="57.24" stroke="#808080" stroke-width="0.55" />
<path d="M339.82,57.24 L342.02,57.24 L340.92,55.15Z" fill="#a7a7a7" stroke="none" stroke-width="0.3"/>
<line x1="347.58" y1="52.14" x2="347.58" y2="57.24" stroke="#a0a0a0" stroke-width="0.45" />
<line x1="345.58" y1="57.24" x2="349.58" y2="57.24" stroke="#808080" stroke-width="0.55" />
<path d="M346.56,57.24 L348.60,57.24 L347.58,56.08Z" fill="#929292" stroke="none" stroke-width="0.3"/>
<line x1="354.24" y1="52.14" x2="354.24" y2="57.24" stroke="#a0a0a0" stroke-width="0.45" />
<line x1="352.24" y1="57.24" x2="356.24" y2="57.24" stroke="#808080" stroke-width="0.55" />
<path d="M353.49,57.24 L354.99,57.24 L354.24,56.39Z" fill="#6f6f6f" stroke="none" stroke-width="0.3"/>
<line x1="360.90" y1="52.14" x2="360.90" y2="57.24" stroke="#a0a0a0" stroke-width="0.45" />
<line x1="358.90" y1="57.24" x2="362.90" y2="57.24" stroke="#808080" stroke-width="0.55" />
<path d="M360.20,57.24 L361.60,57.24 L360.90,56.03Z" fill="#9e9e9e" stroke="none" stroke-width="0.3"/>
<line x1="261.00" y1="58.36" x2="261.00" y2="63.46" stroke="#9a6878" stroke-width="0.5" />
<line x1="259.40" y1="63.46" x2="262.60" y2="63.46" stroke="#9a6878" stroke-width="0.6" />
<line x1="259.30" y1="61.56" x2="262.70" y2="61.56" stroke="#9a6878" stroke-width="0.5" />
<ellipse cx="261.00" cy="59.76" rx="1.8" ry="1.2" fill="#e4c4cc" stroke="#9a6878" stroke-width="0.5"/>
<line x1="267.66" y1="58.36" x2="267.66" y2="63.46" stroke="#888" stroke-width="0.45" />
<line x1="265.86" y1="63.46" x2="269.46" y2="63.46" stroke="#888" stroke-width="0.55" />
<ellipse cx="267.66" cy="60.66" rx="1.4" ry="1.2" fill="#fafafa" stroke="#858585" stroke-width="0.45"/>
<line x1="274.32" y1="58.36" x2="274.32" y2="63.46" stroke="#a0a0a0" stroke-width="0.45" />
<line x1="272.32" y1="63.46" x2="276.32" y2="63.46" stroke="#808080" stroke-width="0.55" />
<path d="M273.15,63.46 L275.49,63.46 L274.32,61.94Z" fill="#afafaf" stroke="none" stroke-width="0.3"/>
<line x1="280.98" y1="58.36" x2="280.98" y2="63.46" stroke="#8a3040" stroke-width="0.5" />
<line x1="279.68" y1="63.46" x2="282.28" y2="63.46" stroke="#8a3040" stroke-width="0.55" />
<path d="M278.58,58.96 L283.38,58.96 L282.88,60.06 L281.88,61.06 L281.33,61.96 L280.63,61.96 L280.08,61.06 L279.08,60.06Z" fill="#8e2034" stroke="#7a1828" stroke-width="0.3"/>
<line x1="287.64" y1="58.36" x2="287.64" y2="63.46" stroke="#a0a0a0" stroke-width="0.45" />
<line x1="285.64" y1="63.46" x2="289.64" y2="63.46" stroke="#808080" stroke-width="0.55" />
<path d="M286.45,63.46 L288.83,63.46 L287.64,61.13Z" fill="#878787" stroke="none" stroke-width="0.3"/>
<line x1="294.30" y1="58.36" x2="294.30" y2="63.46" stroke="#777" stroke-width="0.5" />
<line x1="292.20" y1="63.46" x2="296.40" y2="63.46" stroke="#666" stroke-width="0.55" />
<path d="M293.00,63.46 L295.60,63.46 L294.60,61.26 L294.30,60.26 L294.00,61.26Z" fill="#404040" stroke="none" stroke-width="0.3"/>
<line x1="300.96" y1="58.36" x2="300.96" y2="63.46" stroke="#a0a0a0" stroke-width="0.45" />
<line x1="298.96" y1="63.46" x2="302.96" y2="63.46" stroke="#808080" stroke-width="0.55" />
<path d="M300.31,63.46 L301.61,63.46 L300.96,62.30Z" fill="#7b7b7b" stroke="none" stroke-width="0.3"/>
<line x1="307.62" y1="58.36" x2="307.62" y2="63.46" stroke="#777" stroke-width="0.5" />
<line x1="305.52" y1="63.46" x2="309.72" y2="63.46" stroke="#666" stroke-width="0.55" />
<path d="M306.32,63.46 L308.92,63.46 L307.92,61.26 L307.62,60.26 L307.32,61.26Z" fill="#404040" stroke="none" stroke-width="0.3"/>
<line x1="314.28" y1="58.36" x2="314.28" y2="63.46" stroke="#a0a0a0" stroke-width="0.45" />
<line x1="312.28" y1="63.46" x2="316.28" y2="63.46" stroke="#808080" stroke-width="0.55" />
<path d="M313.64,63.46 L314.92,63.46 L314.28,61.66Z" fill="#adadad" stroke="none" stroke-width="0.3"/>
<line x1="320.94" y1="58.36" x2="320.94" y2="63.46" stroke="#a0a0a0" stroke-width="0.45" />
<line x1="318.94" y1="63.46" x2="322.94" y2="63.46" stroke="#808080" stroke-width="0.55" />
<path d="M319.85,63.46 L322.03,63.46 L320.94,61.89Z" fill="#9b9b9b" stroke="none" stroke-width="0.3"/>
<line x1="327.60" y1="58.36" x2="327.60" y2="63.46" stroke="#a0a0a0" stroke-width="0.45" />
<line x1="325.60" y1="63.46" x2="329.60" y2="63.46" stroke="#808080" stroke-width="0.55" />
<path d="M326.54,63.46 L328.66,63.46 L327.60,62.52Z" fill="#9c9c9c" stroke="none" stroke-width="0.3"/>
<line x1="334.26" y1="58.36" x2="334.26" y2="63.46" stroke="#a0a0a0" stroke-width="0.45" />
<line x1="332.26" y1="63.46" x2="336.26" y2="63.46" stroke="#808080" stroke-width="0.55" />
<path d="M333.12,63.46 L335.40,63.46 L334.26,61.41Z" fill="#a2a2a2" stroke="none" stroke-width="0.3"/>
<line x1="340.92" y1="58.36" x2="340.92" y2="63.46" stroke="#a0a0a0" stroke-width="0.45" />
<line x1="338.92" y1="63.46" x2="342.92" y2="63.46" stroke="#808080" stroke-width="0.55" />
<path d="M340.09,63.46 L341.75,63.46 L340.92,62.37Z" fill="#a5a5a5" stroke="none" stroke-width="0.3"/>
<line x1="347.58" y1="58.36" x2="347.58" y2="63.46" stroke="#a0a0a0" stroke-width="0.45" />
<line x1="345.58" y1="63.46" x2="349.58" y2="63.46" stroke="#808080" stroke-width="0.55" />
<path d="M346.85,63.46 L348.31,63.46 L347.58,61.38Z" fill="#b2b2b2" stroke="none" stroke-width="0.3"/>
<line x1="354.24" y1="58.36" x2="354.24" y2="63.46" stroke="#a0a0a0" stroke-width="0.45" />
<line x1="352.24" y1="63.46" x2="356.24" y2="63.46" stroke="#808080" stroke-width="0.55" />
<path d="M353.46,63.46 L355.02,63.46 L354.24,62.02Z" fill="#b0b0b0" stroke="none" stroke-width="0.3"/>
<line x1="360.90" y1="58.36" x2="360.90" y2="63.46" stroke="#a0a0a0" stroke-width="0.45" />
<line x1="358.90" y1="63.46" x2="362.90" y2="63.46" stroke="#808080" stroke-width="0.55" />
<path d="M359.89,63.46 L361.91,63.46 L360.90,62.39Z" fill="#767676" stroke="none" stroke-width="0.3"/>
<line x1="261.00" y1="64.58" x2="261.00" y2="69.68" stroke="#9a6878" stroke-width="0.5" />
<line x1="259.40" y1="69.68" x2="262.60" y2="69.68" stroke="#9a6878" stroke-width="0.6" />
<line x1="259.30" y1="67.78" x2="262.70" y2="67.78" stroke="#9a6878" stroke-width="0.5" />
<ellipse cx="261.00" cy="65.98" rx="1.8" ry="1.2" fill="#e4c4cc" stroke="#9a6878" stroke-width="0.5"/>
<line x1="267.66" y1="64.58" x2="267.66" y2="69.68" stroke="#888" stroke-width="0.45" />
<line x1="265.86" y1="69.68" x2="269.46" y2="69.68" stroke="#888" stroke-width="0.55" />
<ellipse cx="267.66" cy="66.88" rx="1.4" ry="1.2" fill="#fafafa" stroke="#858585" stroke-width="0.45"/>
<line x1="274.32" y1="64.58" x2="274.32" y2="69.68" stroke="#a0a0a0" stroke-width="0.45" />
<line x1="272.32" y1="69.68" x2="276.32" y2="69.68" stroke="#808080" stroke-width="0.55" />
<path d="M273.71,69.68 L274.93,69.68 L274.32,67.43Z" fill="#a6a6a6" stroke="none" stroke-width="0.3"/>
<line x1="280.98" y1="64.58" x2="280.98" y2="69.68" stroke="#8a3040" stroke-width="0.5" />
<line x1="279.68" y1="69.68" x2="282.28" y2="69.68" stroke="#8a3040" stroke-width="0.55" />
<path d="M278.58,65.18 L283.38,65.18 L282.88,66.28 L281.88,67.28 L281.33,68.18 L280.63,68.18 L280.08,67.28 L279.08,66.28Z" fill="#8e2034" stroke="#7a1828" stroke-width="0.3"/>
<line x1="287.64" y1="64.58" x2="287.64" y2="69.68" stroke="#8a3040" stroke-width="0.5" />
<line x1="286.34" y1="69.68" x2="288.94" y2="69.68" stroke="#8a3040" stroke-width="0.55" />
<path d="M285.24,65.18 L290.04,65.18 L289.54,66.28 L288.54,67.28 L287.99,68.18 L287.29,68.18 L286.74,67.28 L285.74,66.28Z" fill="#8e2034" stroke="#7a1828" stroke-width="0.3"/>
<line x1="294.30" y1="64.58" x2="294.30" y2="69.68" stroke="#a0a0a0" stroke-width="0.45" />
<line x1="292.30" y1="69.68" x2="296.30" y2="69.68" stroke="#808080" stroke-width="0.55" />
<path d="M293.70,69.68 L294.90,69.68 L294.30,67.56Z" fill="#b2b2b2" stroke="none" stroke-width="0.3"/>
<line x1="300.96" y1="64.58" x2="300.96" y2="69.68" stroke="#a0a0a0" stroke-width="0.45" />
<line x1="298.96" y1="69.68" x2="302.96" y2="69.68" stroke="#808080" stroke-width="0.55" />
<path d="M300.00,69.68 L301.92,69.68 L300.96,68.32Z" fill="#949494" stroke="none" stroke-width="0.3"/>
<line x1="307.62" y1="64.58" x2="307.62" y2="69.68" stroke="#a0a0a0" stroke-width="0.45" />
<line x1="305.62" y1="69.68" x2="309.62" y2="69.68" stroke="#808080" stroke-width="0.55" />
<path d="M307.03,69.68 L308.21,69.68 L307.62,68.86Z" fill="#b1b1b1" stroke="none" stroke-width="0.3"/>
<line x1="314.28" y1="64.58" x2="314.28" y2="69.68" stroke="#a0a0a0" stroke-width="0.45" />
<line x1="312.28" y1="69.68" x2="316.28" y2="69.68" stroke="#808080" stroke-width="0.55" />
<path d="M313.33,69.68 L315.23,69.68 L314.28,68.04Z" fill="#afafaf" stroke="none" stroke-width="0.3"/>
<line x1="320.94" y1="64.58" x2="320.94" y2="69.68" stroke="#a0a0a0" stroke-width="0.45" />
<line x1="318.94" y1="69.68" x2="322.94" y2="69.68" stroke="#808080" stroke-width="0.55" />
<path d="M320.14,69.68 L321.74,69.68 L320.94,67.49Z" fill="#a7a7a7" stroke="none" stroke-width="0.3"/>
<line x1="327.60" y1="64.58" x2="327.60" y2="69.68" stroke="#a0a0a0" stroke-width="0.45" />
<line x1="325.60" y1="69.68" x2="329.60" y2="69.68" stroke="#808080" stroke-width="0.55" />
<path d="M326.95,69.68 L328.25,69.68 L327.60,68.48Z" fill="#828282" stroke="none" stroke-width="0.3"/>
<line x1="334.26" y1="64.58" x2="334.26" y2="69.68" stroke="#a0a0a0" stroke-width="0.45" />
<line x1="332.26" y1="69.68" x2="336.26" y2="69.68" stroke="#808080" stroke-width="0.55" />
<path d="M333.59,69.68 L334.93,69.68 L334.26,67.94Z" fill="#808080" stroke="none" stroke-width="0.3"/>
<line x1="340.92" y1="64.58" x2="340.92" y2="69.68" stroke="#a0a0a0" stroke-width="0.45" />
<line x1="338.92" y1="69.68" x2="342.92" y2="69.68" stroke="#808080" stroke-width="0.55" />
<path d="M340.13,69.68 L341.71,69.68 L340.92,68.67Z" fill="#adadad" stroke="none" stroke-width="0.3"/>
<line x1="347.58" y1="64.58" x2="347.58" y2="69.68" stroke="#a0a0a0" stroke-width="0.45" />
<line x1="345.58" y1="69.68" x2="349.58" y2="69.68" stroke="#808080" stroke-width="0.55" />
<path d="M346.83,69.68 L348.33,69.68 L347.58,68.15Z" fill="#969696" stroke="none" stroke-width="0.3"/>
<line x1="354.24" y1="64.58" x2="354.24" y2="69.68" stroke="#a0a0a0" stroke-width="0.45" />
<line x1="352.24" y1="69.68" x2="356.24" y2="69.68" stroke="#808080" stroke-width="0.55" />
<path d="M353.11,69.68 L355.37,69.68 L354.24,68.21Z" fill="#aeaeae" stroke="none" stroke-width="0.3"/>
<line x1="360.90" y1="64.58" x2="360.90" y2="69.68" stroke="#a0a0a0" stroke-width="0.45" />
<line x1="358.90" y1="69.68" x2="362.90" y2="69.68" stroke="#808080" stroke-width="0.55" />
<path d="M360.05,69.68 L361.75,69.68 L360.90,68.03Z" fill="#929292" stroke="none" stroke-width="0.3"/>
<line x1="261.00" y1="70.80" x2="261.00" y2="75.90" stroke="#9a6878" stroke-width="0.5" />
<line x1="259.40" y1="75.90" x2="262.60" y2="75.90" stroke="#9a6878" stroke-width="0.6" />
<line x1="259.30" y1="74.00" x2="262.70" y2="74.00" stroke="#9a6878" stroke-width="0.5" />
<ellipse cx="261.00" cy="72.20" rx="1.8" ry="1.2" fill="#e4c4cc" stroke="#9a6878" stroke-width="0.5"/>
<line x1="267.66" y1="70.80" x2="267.66" y2="75.90" stroke="#777" stroke-width="0.5" />
<line x1="265.56" y1="75.90" x2="269.76" y2="75.90" stroke="#666" stroke-width="0.55" />
<path d="M266.36,75.90 L268.96,75.90 L267.96,73.70 L267.66,72.70 L267.36,73.70Z" fill="#404040" stroke="none" stroke-width="0.3"/>
<line x1="274.32" y1="70.80" x2="274.32" y2="75.90" stroke="#a0a0a0" stroke-width="0.45" />
<line x1="272.32" y1="75.90" x2="276.32" y2="75.90" stroke="#808080" stroke-width="0.55" />
<path d="M273.81,75.90 L274.83,75.90 L274.32,74.40Z" fill="#7a7a7a" stroke="none" stroke-width="0.3"/>
<line x1="280.98" y1="70.80" x2="280.98" y2="75.90" stroke="#8a3040" stroke-width="0.55" />
<line x1="279.58" y1="75.90" x2="282.38" y2="75.90" stroke="#8a3040" stroke-width="0.55" />
<path d="M278.78,70.90 L283.18,70.90 L282.58,72.00 L281.48,73.10 L280.48,73.10 L279.38,72.00Z" fill="#b04a5a" stroke="#8a3040" stroke-width="0.35"/>
<line x1="287.64" y1="70.80" x2="287.64" y2="75.90" stroke="#a0a0a0" stroke-width="0.45" />
<line x1="285.64" y1="75.90" x2="289.64" y2="75.90" stroke="#808080" stroke-width="0.55" />
<path d="M287.14,75.90 L288.14,75.90 L287.64,73.82Z" fill="#7a7a7a" stroke="none" stroke-width="0.3"/>
<line x1="294.30" y1="70.80" x2="294.30" y2="75.90" stroke="#a0a0a0" stroke-width="0.45" />
<line x1="292.30" y1="75.90" x2="296.30" y2="75.90" stroke="#808080" stroke-width="0.55" />
<path d="M293.47,75.90 L295.13,75.90 L294.30,73.94Z" fill="#949494" stroke="none" stroke-width="0.3"/>
<line x1="300.96" y1="70.80" x2="300.96" y2="75.90" stroke="#a0a0a0" stroke-width="0.45" />
<line x1="298.96" y1="75.90" x2="302.96" y2="75.90" stroke="#808080" stroke-width="0.55" />
<path d="M300.23,75.90 L301.69,75.90 L300.96,74.27Z" fill="#949494" stroke="none" stroke-width="0.3"/>
<line x1="307.62" y1="70.80" x2="307.62" y2="75.90" stroke="#a0a0a0" stroke-width="0.45" />
<line x1="305.62" y1="75.90" x2="309.62" y2="75.90" stroke="#808080" stroke-width="0.55" />
<path d="M306.57,75.90 L308.67,75.90 L307.62,74.93Z" fill="#959595" stroke="none" stroke-width="0.3"/>
<line x1="314.28" y1="70.80" x2="314.28" y2="75.90" stroke="#a0a0a0" stroke-width="0.45" />
<line x1="312.28" y1="75.90" x2="316.28" y2="75.90" stroke="#808080" stroke-width="0.55" />
<path d="M313.61,75.90 L314.95,75.90 L314.28,74.66Z" fill="#a4a4a4" stroke="none" stroke-width="0.3"/>
<line x1="320.94" y1="70.80" x2="320.94" y2="75.90" stroke="#a0a0a0" stroke-width="0.45" />
<line x1="318.94" y1="75.90" x2="322.94" y2="75.90" stroke="#808080" stroke-width="0.55" />
<path d="M320.08,75.90 L321.80,75.90 L320.94,74.20Z" fill="#a3a3a3" stroke="none" stroke-width="0.3"/>
<line x1="327.60" y1="70.80" x2="327.60" y2="75.90" stroke="#a0a0a0" stroke-width="0.45" />
<line x1="325.60" y1="75.90" x2="329.60" y2="75.90" stroke="#808080" stroke-width="0.55" />
<path d="M326.46,75.90 L328.74,75.90 L327.60,74.39Z" fill="#989898" stroke="none" stroke-width="0.3"/>
<line x1="334.26" y1="70.80" x2="334.26" y2="75.90" stroke="#a0a0a0" stroke-width="0.45" />
<line x1="332.26" y1="75.90" x2="336.26" y2="75.90" stroke="#808080" stroke-width="0.55" />
<path d="M333.41,75.90 L335.11,75.90 L334.26,74.28Z" fill="#9e9e9e" stroke="none" stroke-width="0.3"/>
<line x1="340.92" y1="70.80" x2="340.92" y2="75.90" stroke="#a0a0a0" stroke-width="0.45" />
<line x1="338.92" y1="75.90" x2="342.92" y2="75.90" stroke="#808080" stroke-width="0.55" />
<path d="M340.10,75.90 L341.74,75.90 L340.92,74.25Z" fill="#8f8f8f" stroke="none" stroke-width="0.3"/>
<line x1="347.58" y1="70.80" x2="347.58" y2="75.90" stroke="#a0a0a0" stroke-width="0.45" />
<line x1="345.58" y1="75.90" x2="349.58" y2="75.90" stroke="#808080" stroke-width="0.55" />
<path d="M346.42,75.90 L348.74,75.90 L347.58,73.98Z" fill="#ababab" stroke="none" stroke-width="0.3"/>
<line x1="354.24" y1="70.80" x2="354.24" y2="75.90" stroke="#888" stroke-width="0.45" />
<line x1="352.24" y1="73.10" x2="356.24" y2="73.10" stroke="#777" stroke-width="0.5" />
<ellipse cx="354.24" cy="74.10" rx="1.3" ry="1.2" fill="#fafafa" stroke="#858585" stroke-width="0.45"/>
<line x1="360.90" y1="70.80" x2="360.90" y2="75.90" stroke="#a0a0a0" stroke-width="0.45" />
<line x1="358.90" y1="75.90" x2="362.90" y2="75.90" stroke="#808080" stroke-width="0.55" />
<path d="M359.74,75.90 L362.06,75.90 L360.90,74.68Z" fill="#959595" stroke="none" stroke-width="0.3"/>
<line x1="261.00" y1="77.02" x2="261.00" y2="82.12" stroke="#a0a0a0" stroke-width="0.45" />
<line x1="259.00" y1="82.12" x2="263.00" y2="82.12" stroke="#808080" stroke-width="0.55" />
<path d="M259.84,82.12 L262.16,82.12 L261.00,79.98Z" fill="#777777" stroke="none" stroke-width="0.3"/>
<line x1="267.66" y1="77.02" x2="267.66" y2="82.12" stroke="#a0a0a0" stroke-width="0.45" />
<line x1="265.66" y1="82.12" x2="269.66" y2="82.12" stroke="#808080" stroke-width="0.55" />
<path d="M267.07,82.12 L268.25,82.12 L267.66,80.61Z" fill="#737373" stroke="none" stroke-width="0.3"/>
<line x1="274.32" y1="77.02" x2="274.32" y2="82.12" stroke="#a0a0a0" stroke-width="0.45" />
<line x1="272.32" y1="82.12" x2="276.32" y2="82.12" stroke="#808080" stroke-width="0.55" />
<path d="M273.65,82.12 L274.99,82.12 L274.32,81.20Z" fill="#9c9c9c" stroke="none" stroke-width="0.3"/>
<line x1="280.98" y1="77.02" x2="280.98" y2="82.12" stroke="#a0a0a0" stroke-width="0.45" />
<line x1="278.98" y1="82.12" x2="282.98" y2="82.12" stroke="#808080" stroke-width="0.55" />
<path d="M279.93,82.12 L282.03,82.12 L280.98,79.88Z" fill="#787878" stroke="none" stroke-width="0.3"/>
<line x1="287.64" y1="77.02" x2="287.64" y2="82.12" stroke="#a0a0a0" stroke-width="0.45" />
<line x1="285.64" y1="82.12" x2="289.64" y2="82.12" stroke="#808080" stroke-width="0.55" />
<path d="M286.64,82.12 L288.64,82.12 L287.64,80.26Z" fill="#787878" stroke="none" stroke-width="0.3"/>
<line x1="294.30" y1="77.02" x2="294.30" y2="82.12" stroke="#a0a0a0" stroke-width="0.45" />
<line x1="292.30" y1="82.12" x2="296.30" y2="82.12" stroke="#808080" stroke-width="0.55" />
<path d="M293.18,82.12 L295.42,82.12 L294.30,79.77Z" fill="#7d7d7d" stroke="none" stroke-width="0.3"/>
<line x1="300.96" y1="77.02" x2="300.96" y2="82.12" stroke="#a0a0a0" stroke-width="0.45" />
<line x1="298.96" y1="82.12" x2="302.96" y2="82.12" stroke="#808080" stroke-width="0.55" />
<path d="M299.79,82.12 L302.13,82.12 L300.96,80.68Z" fill="#909090" stroke="none" stroke-width="0.3"/>
<line x1="307.62" y1="77.02" x2="307.62" y2="82.12" stroke="#a0a0a0" stroke-width="0.45" />
<line x1="305.62" y1="82.12" x2="309.62" y2="82.12" stroke="#808080" stroke-width="0.55" />
<path d="M306.43,82.12 L308.81,82.12 L307.62,79.99Z" fill="#797979" stroke="none" stroke-width="0.3"/>
<line x1="314.28" y1="77.02" x2="314.28" y2="82.12" stroke="#a0a0a0" stroke-width="0.45" />
<line x1="312.28" y1="82.12" x2="316.28" y2="82.12" stroke="#808080" stroke-width="0.55" />
<path d="M313.48,82.12 L315.08,82.12 L314.28,80.50Z" fill="#858585" stroke="none" stroke-width="0.3"/>
<line x1="320.94" y1="77.02" x2="320.94" y2="82.12" stroke="#a0a0a0" stroke-width="0.45" />
<line x1="318.94" y1="82.12" x2="322.94" y2="82.12" stroke="#808080" stroke-width="0.55" />
<path d="M320.30,82.12 L321.58,82.12 L320.94,80.81Z" fill="#a0a0a0" stroke="none" stroke-width="0.3"/>
<line x1="327.60" y1="77.02" x2="327.60" y2="82.12" stroke="#a0a0a0" stroke-width="0.45" />
<line x1="325.60" y1="82.12" x2="329.60" y2="82.12" stroke="#808080" stroke-width="0.55" />
<path d="M327.09,82.12 L328.11,82.12 L327.60,80.43Z" fill="#8c8c8c" stroke="none" stroke-width="0.3"/>
<line x1="334.26" y1="77.02" x2="334.26" y2="82.12" stroke="#a0a0a0" stroke-width="0.45" />
<line x1="332.26" y1="82.12" x2="336.26" y2="82.12" stroke="#808080" stroke-width="0.55" />
<path d="M333.75,82.12 L334.77,82.12 L334.26,80.79Z" fill="#999999" stroke="none" stroke-width="0.3"/>
<line x1="340.92" y1="77.02" x2="340.92" y2="82.12" stroke="#a0a0a0" stroke-width="0.45" />
<line x1="338.92" y1="82.12" x2="342.92" y2="82.12" stroke="#808080" stroke-width="0.55" />
<path d="M340.06,82.12 L341.78,82.12 L340.92,81.22Z" fill="#b2b2b2" stroke="none" stroke-width="0.3"/>
<line x1="347.58" y1="77.02" x2="347.58" y2="82.12" stroke="#a0a0a0" stroke-width="0.45" />
<line x1="345.58" y1="82.12" x2="349.58" y2="82.12" stroke="#808080" stroke-width="0.55" />
<path d="M346.53,82.12 L348.63,82.12 L347.58,79.77Z" fill="#757575" stroke="none" stroke-width="0.3"/>
<line x1="354.24" y1="77.02" x2="354.24" y2="82.12" stroke="#a0a0a0" stroke-width="0.45" />
<line x1="352.24" y1="82.12" x2="356.24" y2="82.12" stroke="#808080" stroke-width="0.55" />
<path d="M353.55,82.12 L354.93,82.12 L354.24,81.26Z" fill="#a4a4a4" stroke="none" stroke-width="0.3"/>
<line x1="360.90" y1="77.02" x2="360.90" y2="82.12" stroke="#a0a0a0" stroke-width="0.45" />
<line x1="358.90" y1="82.12" x2="362.90" y2="82.12" stroke="#808080" stroke-width="0.55" />
<path d="M360.21,82.12 L361.59,82.12 L360.90,81.11Z" fill="#8b8b8b" stroke="none" stroke-width="0.3"/>
<line x1="261.00" y1="83.24" x2="261.00" y2="88.34" stroke="#a0a0a0" stroke-width="0.45" />
<line x1="259.00" y1="88.34" x2="263.00" y2="88.34" stroke="#808080" stroke-width="0.55" />
<path d="M259.86,88.34 L262.14,88.34 L261.00,86.23Z" fill="#808080" stroke="none" stroke-width="0.3"/>
<line x1="267.66" y1="83.24" x2="267.66" y2="88.34" stroke="#a0a0a0" stroke-width="0.45" />
<line x1="265.66" y1="88.34" x2="269.66" y2="88.34" stroke="#808080" stroke-width="0.55" />
<path d="M267.06,88.34 L268.26,88.34 L267.66,86.07Z" fill="#959595" stroke="none" stroke-width="0.3"/>
<line x1="274.32" y1="83.24" x2="274.32" y2="88.34" stroke="#a0a0a0" stroke-width="0.45" />
<line x1="272.32" y1="88.34" x2="276.32" y2="88.34" stroke="#808080" stroke-width="0.55" />
<path d="M273.33,88.34 L275.31,88.34 L274.32,87.40Z" fill="#727272" stroke="none" stroke-width="0.3"/>
<line x1="280.98" y1="83.24" x2="280.98" y2="88.34" stroke="#a0a0a0" stroke-width="0.45" />
<line x1="278.98" y1="88.34" x2="282.98" y2="88.34" stroke="#808080" stroke-width="0.55" />
<path d="M280.00,88.34 L281.96,88.34 L280.98,86.86Z" fill="#737373" stroke="none" stroke-width="0.3"/>
<line x1="287.64" y1="83.24" x2="287.64" y2="88.34" stroke="#a0a0a0" stroke-width="0.45" />
<line x1="285.64" y1="88.34" x2="289.64" y2="88.34" stroke="#808080" stroke-width="0.55" />
<path d="M286.48,88.34 L288.80,88.34 L287.64,86.52Z" fill="#a6a6a6" stroke="none" stroke-width="0.3"/>
<line x1="294.30" y1="83.24" x2="294.30" y2="88.34" stroke="#a0a0a0" stroke-width="0.45" />
<line x1="292.30" y1="88.34" x2="296.30" y2="88.34" stroke="#808080" stroke-width="0.55" />
<path d="M293.74,88.34 L294.86,88.34 L294.30,86.17Z" fill="#727272" stroke="none" stroke-width="0.3"/>
<line x1="300.96" y1="83.24" x2="300.96" y2="88.34" stroke="#a0a0a0" stroke-width="0.45" />
<line x1="298.96" y1="88.34" x2="302.96" y2="88.34" stroke="#808080" stroke-width="0.55" />
<path d="M299.86,88.34 L302.06,88.34 L300.96,86.81Z" fill="#858585" stroke="none" stroke-width="0.3"/>
<line x1="307.62" y1="83.24" x2="307.62" y2="88.34" stroke="#a0a0a0" stroke-width="0.45" />
<line x1="305.62" y1="88.34" x2="309.62" y2="88.34" stroke="#808080" stroke-width="0.55" />
<path d="M306.73,88.34 L308.51,88.34 L307.62,86.06Z" fill="#808080" stroke="none" stroke-width="0.3"/>
<line x1="314.28" y1="83.24" x2="314.28" y2="88.34" stroke="#a0a0a0" stroke-width="0.45" />
<line x1="312.28" y1="88.34" x2="316.28" y2="88.34" stroke="#808080" stroke-width="0.55" />
<path d="M313.69,88.34 L314.87,88.34 L314.28,86.70Z" fill="#7e7e7e" stroke="none" stroke-width="0.3"/>
<line x1="320.94" y1="83.24" x2="320.94" y2="88.34" stroke="#a0a0a0" stroke-width="0.45" />
<line x1="318.94" y1="88.34" x2="322.94" y2="88.34" stroke="#808080" stroke-width="0.55" />
<path d="M320.36,88.34 L321.52,88.34 L320.94,87.28Z" fill="#717171" stroke="none" stroke-width="0.3"/>
<line x1="327.60" y1="83.24" x2="327.60" y2="88.34" stroke="#a0a0a0" stroke-width="0.45" />
<line x1="325.60" y1="88.34" x2="329.60" y2="88.34" stroke="#808080" stroke-width="0.55" />
<path d="M326.96,88.34 L328.24,88.34 L327.60,87.04Z" fill="#838383" stroke="none" stroke-width="0.3"/>
<line x1="334.26" y1="83.24" x2="334.26" y2="88.34" stroke="#a0a0a0" stroke-width="0.45" />
<line x1="332.26" y1="88.34" x2="336.26" y2="88.34" stroke="#808080" stroke-width="0.55" />
<path d="M333.23,88.34 L335.29,88.34 L334.26,87.08Z" fill="#919191" stroke="none" stroke-width="0.3"/>
<line x1="340.92" y1="83.24" x2="340.92" y2="88.34" stroke="#a0a0a0" stroke-width="0.45" />
<line x1="338.92" y1="88.34" x2="342.92" y2="88.34" stroke="#808080" stroke-width="0.55" />
<path d="M340.30,88.34 L341.54,88.34 L340.92,86.98Z" fill="#6f6f6f" stroke="none" stroke-width="0.3"/>
<line x1="347.58" y1="83.24" x2="347.58" y2="88.34" stroke="#a0a0a0" stroke-width="0.45" />
<line x1="345.58" y1="88.34" x2="349.58" y2="88.34" stroke="#808080" stroke-width="0.55" />
<path d="M346.90,88.34 L348.26,88.34 L347.58,87.52Z" fill="#a1a1a1" stroke="none" stroke-width="0.3"/>
<line x1="354.24" y1="83.24" x2="354.24" y2="88.34" stroke="#a0a0a0" stroke-width="0.45" />
<line x1="352.24" y1="88.34" x2="356.24" y2="88.34" stroke="#808080" stroke-width="0.55" />
<path d="M353.35,88.34 L355.13,88.34 L354.24,87.24Z" fill="#8f8f8f" stroke="none" stroke-width="0.3"/>
<line x1="360.90" y1="83.24" x2="360.90" y2="88.34" stroke="#a0a0a0" stroke-width="0.45" />
<line x1="358.90" y1="88.34" x2="362.90" y2="88.34" stroke="#808080" stroke-width="0.55" />
<path d="M359.75,88.34 L362.05,88.34 L360.90,87.37Z" fill="#a7a7a7" stroke="none" stroke-width="0.3"/>
<line x1="261.00" y1="89.46" x2="261.00" y2="94.56" stroke="#777" stroke-width="0.5" />
<line x1="258.90" y1="94.56" x2="263.10" y2="94.56" stroke="#666" stroke-width="0.55" />
<path d="M259.70,94.56 L262.30,94.56 L261.30,92.36 L261.00,91.36 L260.70,92.36Z" fill="#404040" stroke="none" stroke-width="0.3"/>
<line x1="267.66" y1="89.46" x2="267.66" y2="94.56" stroke="#a0a0a0" stroke-width="0.45" />
<line x1="265.66" y1="94.56" x2="269.66" y2="94.56" stroke="#808080" stroke-width="0.55" />
<path d="M266.86,94.56 L268.46,94.56 L267.66,92.97Z" fill="#a8a8a8" stroke="none" stroke-width="0.3"/>
<line x1="274.32" y1="89.46" x2="274.32" y2="94.56" stroke="#777" stroke-width="0.5" />
<line x1="272.22" y1="94.56" x2="276.42" y2="94.56" stroke="#666" stroke-width="0.55" />
<path d="M273.02,94.56 L275.62,94.56 L274.62,92.36 L274.32,91.36 L274.02,92.36Z" fill="#404040" stroke="none" stroke-width="0.3"/>
<line x1="280.98" y1="89.46" x2="280.98" y2="94.56" stroke="#777" stroke-width="0.5" />
<line x1="278.88" y1="94.56" x2="283.08" y2="94.56" stroke="#666" stroke-width="0.55" />
<path d="M279.68,94.56 L282.28,94.56 L281.28,92.36 L280.98,91.36 L280.68,92.36Z" fill="#404040" stroke="none" stroke-width="0.3"/>
<line x1="287.64" y1="89.46" x2="287.64" y2="94.56" stroke="#a0a0a0" stroke-width="0.45" />
<line x1="285.64" y1="94.56" x2="289.64" y2="94.56" stroke="#808080" stroke-width="0.55" />
<path d="M286.86,94.56 L288.42,94.56 L287.64,92.95Z" fill="#9e9e9e" stroke="none" stroke-width="0.3"/>
<line x1="294.30" y1="89.46" x2="294.30" y2="94.56" stroke="#a0a0a0" stroke-width="0.45" />
<line x1="292.30" y1="94.56" x2="296.30" y2="94.56" stroke="#808080" stroke-width="0.55" />
<path d="M293.11,94.56 L295.49,94.56 L294.30,93.21Z" fill="#a8a8a8" stroke="none" stroke-width="0.3"/>
<line x1="300.96" y1="89.46" x2="300.96" y2="94.56" stroke="#a0a0a0" stroke-width="0.45" />
<line x1="298.96" y1="94.56" x2="302.96" y2="94.56" stroke="#808080" stroke-width="0.55" />
<path d="M299.97,94.56 L301.95,94.56 L300.96,92.74Z" fill="#8a8a8a" stroke="none" stroke-width="0.3"/>
<line x1="307.62" y1="89.46" x2="307.62" y2="94.56" stroke="#a0a0a0" stroke-width="0.45" />
<line x1="305.62" y1="94.56" x2="309.62" y2="94.56" stroke="#808080" stroke-width="0.55" />
<path d="M306.88,94.56 L308.36,94.56 L307.62,93.67Z" fill="#777777" stroke="none" stroke-width="0.3"/>
<line x1="314.28" y1="89.46" x2="314.28" y2="94.56" stroke="#a0a0a0" stroke-width="0.45" />
<line x1="312.28" y1="94.56" x2="316.28" y2="94.56" stroke="#808080" stroke-width="0.55" />
<path d="M313.73,94.56 L314.83,94.56 L314.28,92.57Z" fill="#7f7f7f" stroke="none" stroke-width="0.3"/>
<line x1="320.94" y1="89.46" x2="320.94" y2="94.56" stroke="#a0a0a0" stroke-width="0.45" />
<line x1="318.94" y1="94.56" x2="322.94" y2="94.56" stroke="#808080" stroke-width="0.55" />
<path d="M320.33,94.56 L321.55,94.56 L320.94,93.62Z" fill="#a8a8a8" stroke="none" stroke-width="0.3"/>
<line x1="327.60" y1="89.46" x2="327.60" y2="94.56" stroke="#a0a0a0" stroke-width="0.45" />
<line x1="325.60" y1="94.56" x2="329.60" y2="94.56" stroke="#808080" stroke-width="0.55" />
<path d="M326.49,94.56 L328.71,94.56 L327.60,92.69Z" fill="#818181" stroke="none" stroke-width="0.3"/>
<line x1="334.26" y1="89.46" x2="334.26" y2="94.56" stroke="#a0a0a0" stroke-width="0.45" />
<line x1="332.26" y1="94.56" x2="336.26" y2="94.56" stroke="#808080" stroke-width="0.55" />
<path d="M333.59,94.56 L334.93,94.56 L334.26,93.29Z" fill="#8e8e8e" stroke="none" stroke-width="0.3"/>
<line x1="340.92" y1="89.46" x2="340.92" y2="94.56" stroke="#a0a0a0" stroke-width="0.45" />
<line x1="338.92" y1="94.56" x2="342.92" y2="94.56" stroke="#808080" stroke-width="0.55" />
<path d="M340.31,94.56 L341.53,94.56 L340.92,93.05Z" fill="#808080" stroke="none" stroke-width="0.3"/>
<line x1="347.58" y1="89.46" x2="347.58" y2="94.56" stroke="#a0a0a0" stroke-width="0.45" />
<line x1="345.58" y1="94.56" x2="349.58" y2="94.56" stroke="#808080" stroke-width="0.55" />
<path d="M346.41,94.56 L348.75,94.56 L347.58,92.20Z" fill="#949494" stroke="none" stroke-width="0.3"/>
<line x1="354.24" y1="89.46" x2="354.24" y2="94.56" stroke="#a0a0a0" stroke-width="0.45" />
<line x1="352.24" y1="94.56" x2="356.24" y2="94.56" stroke="#808080" stroke-width="0.55" />
<path d="M353.57,94.56 L354.91,94.56 L354.24,92.21Z" fill="#838383" stroke="none" stroke-width="0.3"/>
<line x1="360.90" y1="89.46" x2="360.90" y2="94.56" stroke="#a0a0a0" stroke-width="0.45" />
<line x1="358.90" y1="94.56" x2="362.90" y2="94.56" stroke="#808080" stroke-width="0.55" />
<path d="M360.15,94.56 L361.65,94.56 L360.90,93.76Z" fill="#888888" stroke="none" stroke-width="0.3"/>
<line x1="261.00" y1="95.68" x2="261.00" y2="100.78" stroke="#a0a0a0" stroke-width="0.45" />
<line x1="259.00" y1="100.78" x2="263.00" y2="100.78" stroke="#808080" stroke-width="0.55" />
<path d="M260.17,100.78 L261.83,100.78 L261.00,99.18Z" fill="#7c7c7c" stroke="none" stroke-width="0.3"/>
<line x1="267.66" y1="95.68" x2="267.66" y2="100.78" stroke="#777" stroke-width="0.5" />
<line x1="265.56" y1="100.78" x2="269.76" y2="100.78" stroke="#666" stroke-width="0.55" />
<path d="M266.36,100.78 L268.96,100.78 L267.96,98.58 L267.66,97.58 L267.36,98.58Z" fill="#404040" stroke="none" stroke-width="0.3"/>
<line x1="274.32" y1="95.68" x2="274.32" y2="100.78" stroke="#a0a0a0" stroke-width="0.45" />
<line x1="272.32" y1="100.78" x2="276.32" y2="100.78" stroke="#808080" stroke-width="0.55" />
<path d="M273.47,100.78 L275.17,100.78 L274.32,99.97Z" fill="#808080" stroke="none" stroke-width="0.3"/>
<line x1="280.98" y1="95.68" x2="280.98" y2="100.78" stroke="#9a6878" stroke-width="0.5" />
<line x1="279.38" y1="100.78" x2="282.58" y2="100.78" stroke="#9a6878" stroke-width="0.6" />
<line x1="279.28" y1="98.88" x2="282.68" y2="98.88" stroke="#9a6878" stroke-width="0.5" />
<ellipse cx="280.98" cy="97.08" rx="1.8" ry="1.2" fill="#e4c4cc" stroke="#9a6878" stroke-width="0.5"/>
<line x1="287.64" y1="95.68" x2="287.64" y2="100.78" stroke="#888" stroke-width="0.45" />
<line x1="285.84" y1="100.78" x2="289.44" y2="100.78" stroke="#888" stroke-width="0.55" />
<ellipse cx="287.64" cy="97.98" rx="1.4" ry="1.2" fill="#fafafa" stroke="#858585" stroke-width="0.45"/>
<line x1="294.30" y1="95.68" x2="294.30" y2="100.78" stroke="#a0a0a0" stroke-width="0.45" />
<line x1="292.30" y1="100.78" x2="296.30" y2="100.78" stroke="#808080" stroke-width="0.55" />
<path d="M293.74,100.78 L294.86,100.78 L294.30,99.34Z" fill="#707070" stroke="none" stroke-width="0.3"/>
<line x1="300.96" y1="95.68" x2="300.96" y2="100.78" stroke="#a0a0a0" stroke-width="0.45" />
<line x1="298.96" y1="100.78" x2="302.96" y2="100.78" stroke="#808080" stroke-width="0.55" />
<path d="M300.44,100.78 L301.48,100.78 L300.96,99.49Z" fill="#7e7e7e" stroke="none" stroke-width="0.3"/>
<line x1="307.62" y1="95.68" x2="307.62" y2="100.78" stroke="#a0a0a0" stroke-width="0.45" />
<line x1="305.62" y1="100.78" x2="309.62" y2="100.78" stroke="#808080" stroke-width="0.55" />
<path d="M306.71,100.78 L308.53,100.78 L307.62,99.13Z" fill="#a2a2a2" stroke="none" stroke-width="0.3"/>
<line x1="314.28" y1="95.68" x2="314.28" y2="100.78" stroke="#a0a0a0" stroke-width="0.45" />
<line x1="312.28" y1="100.78" x2="316.28" y2="100.78" stroke="#808080" stroke-width="0.55" />
<path d="M313.32,100.78 L315.24,100.78 L314.28,98.83Z" fill="#ababab" stroke="none" stroke-width="0.3"/>
<line x1="320.94" y1="95.68" x2="320.94" y2="100.78" stroke="#a0a0a0" stroke-width="0.45" />
<line x1="318.94" y1="100.78" x2="322.94" y2="100.78" stroke="#808080" stroke-width="0.55" />
<path d="M320.17,100.78 L321.71,100.78 L320.94,99.46Z" fill="#b2b2b2" stroke="none" stroke-width="0.3"/>
<line x1="327.60" y1="95.68" x2="327.60" y2="100.78" stroke="#a0a0a0" stroke-width="0.45" />
<line x1="325.60" y1="100.78" x2="329.60" y2="100.78" stroke="#808080" stroke-width="0.55" />
<path d="M327.00,100.78 L328.20,100.78 L327.60,98.82Z" fill="#9b9b9b" stroke="none" stroke-width="0.3"/>
<line x1="334.26" y1="95.68" x2="334.26" y2="100.78" stroke="#a0a0a0" stroke-width="0.45" />
<line x1="332.26" y1="100.78" x2="336.26" y2="100.78" stroke="#808080" stroke-width="0.55" />
<path d="M333.73,100.78 L334.79,100.78 L334.26,98.64Z" fill="#acacac" stroke="none" stroke-width="0.3"/>
<line x1="340.92" y1="95.68" x2="340.92" y2="100.78" stroke="#a0a0a0" stroke-width="0.45" />
<line x1="338.92" y1="100.78" x2="342.92" y2="100.78" stroke="#808080" stroke-width="0.55" />
<path d="M339.98,100.78 L341.86,100.78 L340.92,98.81Z" fill="#a6a6a6" stroke="none" stroke-width="0.3"/>
<line x1="347.58" y1="95.68" x2="347.58" y2="100.78" stroke="#a0a0a0" stroke-width="0.45" />
<line x1="345.58" y1="100.78" x2="349.58" y2="100.78" stroke="#808080" stroke-width="0.55" />
<path d="M346.98,100.78 L348.18,100.78 L347.58,99.14Z" fill="#919191" stroke="none" stroke-width="0.3"/>
<line x1="354.24" y1="95.68" x2="354.24" y2="100.78" stroke="#a0a0a0" stroke-width="0.45" />
<line x1="352.24" y1="100.78" x2="356.24" y2="100.78" stroke="#808080" stroke-width="0.55" />
<path d="M353.16,100.78 L355.32,100.78 L354.24,98.69Z" fill="#a7a7a7" stroke="none" stroke-width="0.3"/>
<line x1="360.90" y1="95.68" x2="360.90" y2="100.78" stroke="#a0a0a0" stroke-width="0.45" />
<line x1="358.90" y1="100.78" x2="362.90" y2="100.78" stroke="#808080" stroke-width="0.55" />
<path d="M359.99,100.78 L361.81,100.78 L360.90,98.55Z" fill="#9d9d9d" stroke="none" stroke-width="0.3"/>
<line x1="261.00" y1="101.90" x2="261.00" y2="107.00" stroke="#888" stroke-width="0.45" />
<line x1="259.20" y1="107.00" x2="262.80" y2="107.00" stroke="#888" stroke-width="0.55" />
<ellipse cx="261.00" cy="104.20" rx="1.4" ry="1.2" fill="#fafafa" stroke="#858585" stroke-width="0.45"/>
<line x1="267.66" y1="101.90" x2="267.66" y2="107.00" stroke="#777" stroke-width="0.5" />
<line x1="265.56" y1="107.00" x2="269.76" y2="107.00" stroke="#666" stroke-width="0.55" />
<path d="M266.36,107.00 L268.96,107.00 L267.96,104.80 L267.66,103.80 L267.36,104.80Z" fill="#404040" stroke="none" stroke-width="0.3"/>
<line x1="274.32" y1="101.90" x2="274.32" y2="107.00" stroke="#777" stroke-width="0.5" />
<line x1="272.22" y1="107.00" x2="276.42" y2="107.00" stroke="#666" stroke-width="0.55" />
<path d="M273.02,107.00 L275.62,107.00 L274.62,104.80 L274.32,103.80 L274.02,104.80Z" fill="#404040" stroke="none" stroke-width="0.3"/>
<line x1="280.98" y1="101.90" x2="280.98" y2="107.00" stroke="#888" stroke-width="0.45" />
<line x1="279.18" y1="107.00" x2="282.78" y2="107.00" stroke="#888" stroke-width="0.55" />
<ellipse cx="280.98" cy="104.20" rx="1.4" ry="1.2" fill="#fafafa" stroke="#858585" stroke-width="0.45"/>
<line x1="287.64" y1="101.90" x2="287.64" y2="107.00" stroke="#777" stroke-width="0.5" />
<line x1="285.54" y1="107.00" x2="289.74" y2="107.00" stroke="#666" stroke-width="0.55" />
<path d="M286.34,107.00 L288.94,107.00 L287.94,104.80 L287.64,103.80 L287.34,104.80Z" fill="#404040" stroke="none" stroke-width="0.3"/>
<line x1="294.30" y1="101.90" x2="294.30" y2="107.00" stroke="#a0a0a0" stroke-width="0.45" />
<line x1="292.30" y1="107.00" x2="296.30" y2="107.00" stroke="#808080" stroke-width="0.55" />
<path d="M293.31,107.00 L295.29,107.00 L294.30,105.83Z" fill="#707070" stroke="none" stroke-width="0.3"/>
<line x1="300.96" y1="101.90" x2="300.96" y2="107.00" stroke="#a0a0a0" stroke-width="0.45" />
<line x1="298.96" y1="107.00" x2="302.96" y2="107.00" stroke="#808080" stroke-width="0.55" />
<path d="M300.37,107.00 L301.55,107.00 L300.96,105.62Z" fill="#757575" stroke="none" stroke-width="0.3"/>
<line x1="307.62" y1="101.90" x2="307.62" y2="107.00" stroke="#a0a0a0" stroke-width="0.45" />
<line x1="305.62" y1="107.00" x2="309.62" y2="107.00" stroke="#808080" stroke-width="0.55" />
<path d="M306.53,107.00 L308.71,107.00 L307.62,105.31Z" fill="#999999" stroke="none" stroke-width="0.3"/>
<line x1="314.28" y1="101.90" x2="314.28" y2="107.00" stroke="#a0a0a0" stroke-width="0.45" />
<line x1="312.28" y1="107.00" x2="316.28" y2="107.00" stroke="#808080" stroke-width="0.55" />
<path d="M313.34,107.00 L315.22,107.00 L314.28,105.11Z" fill="#909090" stroke="none" stroke-width="0.3"/>
<line x1="320.94" y1="101.90" x2="320.94" y2="107.00" stroke="#a0a0a0" stroke-width="0.45" />
<line x1="318.94" y1="107.00" x2="322.94" y2="107.00" stroke="#808080" stroke-width="0.55" />
<path d="M320.44,107.00 L321.44,107.00 L320.94,104.92Z" fill="#a2a2a2" stroke="none" stroke-width="0.3"/>
<line x1="327.60" y1="101.90" x2="327.60" y2="107.00" stroke="#a0a0a0" stroke-width="0.45" />
<line x1="325.60" y1="107.00" x2="329.60" y2="107.00" stroke="#808080" stroke-width="0.55" />
<path d="M326.75,107.00 L328.45,107.00 L327.60,105.34Z" fill="#9c9c9c" stroke="none" stroke-width="0.3"/>
<line x1="334.26" y1="101.90" x2="334.26" y2="107.00" stroke="#a0a0a0" stroke-width="0.45" />
<line x1="332.26" y1="107.00" x2="336.26" y2="107.00" stroke="#808080" stroke-width="0.55" />
<path d="M333.71,107.00 L334.81,107.00 L334.26,105.02Z" fill="#7f7f7f" stroke="none" stroke-width="0.3"/>
<line x1="340.92" y1="101.90" x2="340.92" y2="107.00" stroke="#a0a0a0" stroke-width="0.45" />
<line x1="338.92" y1="107.00" x2="342.92" y2="107.00" stroke="#808080" stroke-width="0.55" />
<path d="M340.37,107.00 L341.47,107.00 L340.92,105.78Z" fill="#a1a1a1" stroke="none" stroke-width="0.3"/>
<line x1="347.58" y1="101.90" x2="347.58" y2="107.00" stroke="#a0a0a0" stroke-width="0.45" />
<line x1="345.58" y1="107.00" x2="349.58" y2="107.00" stroke="#808080" stroke-width="0.55" />
<path d="M346.94,107.00 L348.22,107.00 L347.58,105.02Z" fill="#b2b2b2" stroke="none" stroke-width="0.3"/>
<line x1="354.24" y1="101.90" x2="354.24" y2="107.00" stroke="#a0a0a0" stroke-width="0.45" />
<line x1="352.24" y1="107.00" x2="356.24" y2="107.00" stroke="#808080" stroke-width="0.55" />
<path d="M353.39,107.00 L355.09,107.00 L354.24,105.59Z" fill="#8f8f8f" stroke="none" stroke-width="0.3"/>
<line x1="360.90" y1="101.90" x2="360.90" y2="107.00" stroke="#a0a0a0" stroke-width="0.45" />
<line x1="358.90" y1="107.00" x2="362.90" y2="107.00" stroke="#808080" stroke-width="0.55" />
<path d="M359.92,107.00 L361.88,107.00 L360.90,104.97Z" fill="#999999" stroke="none" stroke-width="0.3"/>
<line x1="261.00" y1="108.12" x2="261.00" y2="113.22" stroke="#a0a0a0" stroke-width="0.45" />
<line x1="259.00" y1="113.22" x2="263.00" y2="113.22" stroke="#808080" stroke-width="0.55" />
<path d="M260.05,113.22 L261.95,113.22 L261.00,112.30Z" fill="#787878" stroke="none" stroke-width="0.3"/>
<line x1="267.66" y1="108.12" x2="267.66" y2="113.22" stroke="#a0a0a0" stroke-width="0.45" />
<line x1="265.66" y1="113.22" x2="269.66" y2="113.22" stroke="#808080" stroke-width="0.55" />
<path d="M266.98,113.22 L268.34,113.22 L267.66,111.23Z" fill="#838383" stroke="none" stroke-width="0.3"/>
<line x1="274.32" y1="108.12" x2="274.32" y2="113.22" stroke="#a0a0a0" stroke-width="0.45" />
<line x1="272.32" y1="113.22" x2="276.32" y2="113.22" stroke="#808080" stroke-width="0.55" />
<path d="M273.42,113.22 L275.22,113.22 L274.32,112.40Z" fill="#727272" stroke="none" stroke-width="0.3"/>
<line x1="280.98" y1="108.12" x2="280.98" y2="113.22" stroke="#a0a0a0" stroke-width="0.45" />
<line x1="278.98" y1="113.22" x2="282.98" y2="113.22" stroke="#808080" stroke-width="0.55" />
<path d="M280.29,113.22 L281.67,113.22 L280.98,111.34Z" fill="#9e9e9e" stroke="none" stroke-width="0.3"/>
<line x1="287.64" y1="108.12" x2="287.64" y2="113.22" stroke="#a0a0a0" stroke-width="0.45" />
<line x1="285.64" y1="113.22" x2="289.64" y2="113.22" stroke="#808080" stroke-width="0.55" />
<path d="M286.67,113.22 L288.61,113.22 L287.64,111.95Z" fill="#929292" stroke="none" stroke-width="0.3"/>
<line x1="294.30" y1="108.12" x2="294.30" y2="113.22" stroke="#a0a0a0" stroke-width="0.45" />
<line x1="292.30" y1="113.22" x2="296.30" y2="113.22" stroke="#808080" stroke-width="0.55" />
<path d="M293.47,113.22 L295.13,113.22 L294.30,111.67Z" fill="#767676" stroke="none" stroke-width="0.3"/>
<line x1="300.96" y1="108.12" x2="300.96" y2="113.22" stroke="#a0a0a0" stroke-width="0.45" />
<line x1="298.96" y1="113.22" x2="302.96" y2="113.22" stroke="#808080" stroke-width="0.55" />
<path d="M299.83,113.22 L302.09,113.22 L300.96,112.10Z" fill="#b2b2b2" stroke="none" stroke-width="0.3"/>
<line x1="307.62" y1="108.12" x2="307.62" y2="113.22" stroke="#a0a0a0" stroke-width="0.45" />
<line x1="305.62" y1="113.22" x2="309.62" y2="113.22" stroke="#808080" stroke-width="0.55" />
<path d="M306.46,113.22 L308.78,113.22 L307.62,112.39Z" fill="#8e8e8e" stroke="none" stroke-width="0.3"/>
<line x1="314.28" y1="108.12" x2="314.28" y2="113.22" stroke="#a0a0a0" stroke-width="0.45" />
<line x1="312.28" y1="113.22" x2="316.28" y2="113.22" stroke="#808080" stroke-width="0.55" />
<path d="M313.21,113.22 L315.35,113.22 L314.28,110.87Z" fill="#8d8d8d" stroke="none" stroke-width="0.3"/>
<line x1="320.94" y1="108.12" x2="320.94" y2="113.22" stroke="#a0a0a0" stroke-width="0.45" />
<line x1="318.94" y1="113.22" x2="322.94" y2="113.22" stroke="#808080" stroke-width="0.55" />
<path d="M320.25,113.22 L321.63,113.22 L320.94,112.08Z" fill="#b0b0b0" stroke="none" stroke-width="0.3"/>
<line x1="327.60" y1="108.12" x2="327.60" y2="113.22" stroke="#a0a0a0" stroke-width="0.45" />
<line x1="325.60" y1="113.22" x2="329.60" y2="113.22" stroke="#808080" stroke-width="0.55" />
<path d="M326.95,113.22 L328.25,113.22 L327.60,111.49Z" fill="#777777" stroke="none" stroke-width="0.3"/>
<line x1="334.26" y1="108.12" x2="334.26" y2="113.22" stroke="#a0a0a0" stroke-width="0.45" />
<line x1="332.26" y1="113.22" x2="336.26" y2="113.22" stroke="#808080" stroke-width="0.55" />
<path d="M333.39,113.22 L335.13,113.22 L334.26,110.90Z" fill="#777777" stroke="none" stroke-width="0.3"/>
<line x1="340.92" y1="108.12" x2="340.92" y2="113.22" stroke="#a0a0a0" stroke-width="0.45" />
<line x1="338.92" y1="113.22" x2="342.92" y2="113.22" stroke="#808080" stroke-width="0.55" />
<path d="M339.85,113.22 L341.99,113.22 L340.92,111.61Z" fill="#acacac" stroke="none" stroke-width="0.3"/>
<line x1="347.58" y1="108.12" x2="347.58" y2="113.22" stroke="#a0a0a0" stroke-width="0.45" />
<line x1="345.58" y1="113.22" x2="349.58" y2="113.22" stroke="#808080" stroke-width="0.55" />
<path d="M346.59,113.22 L348.57,113.22 L347.58,112.05Z" fill="#acacac" stroke="none" stroke-width="0.3"/>
<line x1="354.24" y1="108.12" x2="354.24" y2="113.22" stroke="#a0a0a0" stroke-width="0.45" />
<line x1="352.24" y1="113.22" x2="356.24" y2="113.22" stroke="#808080" stroke-width="0.55" />
<path d="M353.40,113.22 L355.08,113.22 L354.24,112.38Z" fill="#6e6e6e" stroke="none" stroke-width="0.3"/>
<line x1="360.90" y1="108.12" x2="360.90" y2="113.22" stroke="#a0a0a0" stroke-width="0.45" />
<line x1="358.90" y1="113.22" x2="362.90" y2="113.22" stroke="#808080" stroke-width="0.55" />
<path d="M360.06,113.22 L361.74,113.22 L360.90,111.70Z" fill="#838383" stroke="none" stroke-width="0.3"/>
<line x1="261.00" y1="114.34" x2="261.00" y2="119.44" stroke="#9a6878" stroke-width="0.5" />
<line x1="259.40" y1="119.44" x2="262.60" y2="119.44" stroke="#9a6878" stroke-width="0.6" />
<line x1="259.30" y1="117.54" x2="262.70" y2="117.54" stroke="#9a6878" stroke-width="0.5" />
<ellipse cx="261.00" cy="115.74" rx="1.8" ry="1.2" fill="#e4c4cc" stroke="#9a6878" stroke-width="0.5"/>
<line x1="267.66" y1="114.34" x2="267.66" y2="119.44" stroke="#a0a0a0" stroke-width="0.45" />
<line x1="265.66" y1="119.44" x2="269.66" y2="119.44" stroke="#808080" stroke-width="0.55" />
<path d="M267.06,119.44 L268.26,119.44 L267.66,118.09Z" fill="#848484" stroke="none" stroke-width="0.3"/>
<line x1="274.32" y1="114.34" x2="274.32" y2="119.44" stroke="#777" stroke-width="0.5" />
<line x1="272.22" y1="119.44" x2="276.42" y2="119.44" stroke="#666" stroke-width="0.55" />
<path d="M273.02,119.44 L275.62,119.44 L274.62,117.24 L274.32,116.24 L274.02,117.24Z" fill="#404040" stroke="none" stroke-width="0.3"/>
<line x1="280.98" y1="114.34" x2="280.98" y2="119.44" stroke="#9a6878" stroke-width="0.5" />
<line x1="279.38" y1="119.44" x2="282.58" y2="119.44" stroke="#9a6878" stroke-width="0.6" />
<line x1="279.28" y1="117.54" x2="282.68" y2="117.54" stroke="#9a6878" stroke-width="0.5" />
<ellipse cx="280.98" cy="115.74" rx="1.8" ry="1.2" fill="#e4c4cc" stroke="#9a6878" stroke-width="0.5"/>
<line x1="287.64" y1="114.34" x2="287.64" y2="119.44" stroke="#777" stroke-width="0.5" />
<line x1="285.54" y1="119.44" x2="289.74" y2="119.44" stroke="#666" stroke-width="0.55" />
<path d="M286.34,119.44 L288.94,119.44 L287.94,117.24 L287.64,116.24 L287.34,117.24Z" fill="#404040" stroke="none" stroke-width="0.3"/>
<line x1="294.30" y1="114.34" x2="294.30" y2="119.44" stroke="#a0a0a0" stroke-width="0.45" />
<line x1="292.30" y1="119.44" x2="296.30" y2="119.44" stroke="#808080" stroke-width="0.55" />
<path d="M293.21,119.44 L295.39,119.44 L294.30,118.64Z" fill="#a2a2a2" stroke="none" stroke-width="0.3"/>
<line x1="300.96" y1="114.34" x2="300.96" y2="119.44" stroke="#a0a0a0" stroke-width="0.45" />
<line x1="298.96" y1="119.44" x2="302.96" y2="119.44" stroke="#808080" stroke-width="0.55" />
<path d="M299.87,119.44 L302.05,119.44 L300.96,118.45Z" fill="#aeaeae" stroke="none" stroke-width="0.3"/>
<line x1="307.62" y1="114.34" x2="307.62" y2="119.44" stroke="#a0a0a0" stroke-width="0.45" />
<line x1="305.62" y1="119.44" x2="309.62" y2="119.44" stroke="#808080" stroke-width="0.55" />
<path d="M306.62,119.44 L308.62,119.44 L307.62,117.20Z" fill="#828282" stroke="none" stroke-width="0.3"/>
<line x1="314.28" y1="114.34" x2="314.28" y2="119.44" stroke="#a0a0a0" stroke-width="0.45" />
<line x1="312.28" y1="119.44" x2="316.28" y2="119.44" stroke="#808080" stroke-width="0.55" />
<path d="M313.52,119.44 L315.04,119.44 L314.28,118.01Z" fill="#b3b3b3" stroke="none" stroke-width="0.3"/>
<line x1="320.94" y1="114.34" x2="320.94" y2="119.44" stroke="#a0a0a0" stroke-width="0.45" />
<line x1="318.94" y1="119.44" x2="322.94" y2="119.44" stroke="#808080" stroke-width="0.55" />
<path d="M320.03,119.44 L321.85,119.44 L320.94,118.06Z" fill="#8b8b8b" stroke="none" stroke-width="0.3"/>
<line x1="327.60" y1="114.34" x2="327.60" y2="119.44" stroke="#a0a0a0" stroke-width="0.45" />
<line x1="325.60" y1="119.44" x2="329.60" y2="119.44" stroke="#808080" stroke-width="0.55" />
<path d="M326.91,119.44 L328.29,119.44 L327.60,118.56Z" fill="#757575" stroke="none" stroke-width="0.3"/>
<line x1="334.26" y1="114.34" x2="334.26" y2="119.44" stroke="#a0a0a0" stroke-width="0.45" />
<line x1="332.26" y1="119.44" x2="336.26" y2="119.44" stroke="#808080" stroke-width="0.55" />
<path d="M333.18,119.44 L335.34,119.44 L334.26,118.18Z" fill="#afafaf" stroke="none" stroke-width="0.3"/>
<line x1="340.92" y1="114.34" x2="340.92" y2="119.44" stroke="#a0a0a0" stroke-width="0.45" />
<line x1="338.92" y1="119.44" x2="342.92" y2="119.44" stroke="#808080" stroke-width="0.55" />
<path d="M340.25,119.44 L341.59,119.44 L340.92,118.21Z" fill="#919191" stroke="none" stroke-width="0.3"/>
<line x1="347.58" y1="114.34" x2="347.58" y2="119.44" stroke="#a0a0a0" stroke-width="0.45" />
<line x1="345.58" y1="119.44" x2="349.58" y2="119.44" stroke="#808080" stroke-width="0.55" />
<path d="M346.95,119.44 L348.21,119.44 L347.58,118.04Z" fill="#b0b0b0" stroke="none" stroke-width="0.3"/>
<line x1="354.24" y1="114.34" x2="354.24" y2="119.44" stroke="#a0a0a0" stroke-width="0.45" />
<line x1="352.24" y1="119.44" x2="356.24" y2="119.44" stroke="#808080" stroke-width="0.55" />
<path d="M353.12,119.44 L355.36,119.44 L354.24,117.34Z" fill="#9a9a9a" stroke="none" stroke-width="0.3"/>
<line x1="360.90" y1="114.34" x2="360.90" y2="119.44" stroke="#a0a0a0" stroke-width="0.45" />
<line x1="358.90" y1="119.44" x2="362.90" y2="119.44" stroke="#808080" stroke-width="0.55" />
<path d="M359.76,119.44 L362.04,119.44 L360.90,117.13Z" fill="#949494" stroke="none" stroke-width="0.3"/>
<line x1="261.00" y1="120.56" x2="261.00" y2="125.66" stroke="#9a6878" stroke-width="0.5" />
<line x1="259.40" y1="125.66" x2="262.60" y2="125.66" stroke="#9a6878" stroke-width="0.6" />
<line x1="259.30" y1="123.76" x2="262.70" y2="123.76" stroke="#9a6878" stroke-width="0.5" />
<ellipse cx="261.00" cy="121.96" rx="1.8" ry="1.2" fill="#e4c4cc" stroke="#9a6878" stroke-width="0.5"/>
<line x1="267.66" y1="120.56" x2="267.66" y2="125.66" stroke="#a0a0a0" stroke-width="0.45" />
<line x1="265.66" y1="125.66" x2="269.66" y2="125.66" stroke="#808080" stroke-width="0.55" />
<path d="M266.66,125.66 L268.66,125.66 L267.66,124.78Z" fill="#a1a1a1" stroke="none" stroke-width="0.3"/>
<line x1="274.32" y1="120.56" x2="274.32" y2="125.66" stroke="#888" stroke-width="0.45" />
<line x1="272.52" y1="125.66" x2="276.12" y2="125.66" stroke="#888" stroke-width="0.55" />
<ellipse cx="274.32" cy="122.86" rx="1.4" ry="1.2" fill="#fafafa" stroke="#858585" stroke-width="0.45"/>
<line x1="280.98" y1="120.56" x2="280.98" y2="125.66" stroke="#9a6878" stroke-width="0.5" />
<line x1="279.38" y1="125.66" x2="282.58" y2="125.66" stroke="#9a6878" stroke-width="0.6" />
<line x1="279.28" y1="123.76" x2="282.68" y2="123.76" stroke="#9a6878" stroke-width="0.5" />
<ellipse cx="280.98" cy="121.96" rx="1.8" ry="1.2" fill="#e4c4cc" stroke="#9a6878" stroke-width="0.5"/>
<line x1="287.64" y1="120.56" x2="287.64" y2="125.66" stroke="#a0a0a0" stroke-width="0.45" />
<line x1="285.64" y1="125.66" x2="289.64" y2="125.66" stroke="#808080" stroke-width="0.55" />
<path d="M286.82,125.66 L288.46,125.66 L287.64,123.66Z" fill="#9b9b9b" stroke="none" stroke-width="0.3"/>
<line x1="294.30" y1="120.56" x2="294.30" y2="125.66" stroke="#a0a0a0" stroke-width="0.45" />
<line x1="292.30" y1="125.66" x2="296.30" y2="125.66" stroke="#808080" stroke-width="0.55" />
<path d="M293.60,125.66 L295.00,125.66 L294.30,124.78Z" fill="#aeaeae" stroke="none" stroke-width="0.3"/>
<line x1="300.96" y1="120.56" x2="300.96" y2="125.66" stroke="#a0a0a0" stroke-width="0.45" />
<line x1="298.96" y1="125.66" x2="302.96" y2="125.66" stroke="#808080" stroke-width="0.55" />
<path d="M300.37,125.66 L301.55,125.66 L300.96,124.10Z" fill="#868686" stroke="none" stroke-width="0.3"/>
<line x1="307.62" y1="120.56" x2="307.62" y2="125.66" stroke="#a0a0a0" stroke-width="0.45" />
<line x1="305.62" y1="125.66" x2="309.62" y2="125.66" stroke="#808080" stroke-width="0.55" />
<path d="M306.91,125.66 L308.33,125.66 L307.62,123.68Z" fill="#b2b2b2" stroke="none" stroke-width="0.3"/>
<line x1="314.28" y1="120.56" x2="314.28" y2="125.66" stroke="#a0a0a0" stroke-width="0.45" />
<line x1="312.28" y1="125.66" x2="316.28" y2="125.66" stroke="#808080" stroke-width="0.55" />
<path d="M313.60,125.66 L314.96,125.66 L314.28,123.81Z" fill="#838383" stroke="none" stroke-width="0.3"/>
<line x1="320.94" y1="120.56" x2="320.94" y2="125.66" stroke="#a0a0a0" stroke-width="0.45" />
<line x1="318.94" y1="125.66" x2="322.94" y2="125.66" stroke="#808080" stroke-width="0.55" />
<path d="M320.05,125.66 L321.83,125.66 L320.94,124.23Z" fill="#797979" stroke="none" stroke-width="0.3"/>
<line x1="327.60" y1="120.56" x2="327.60" y2="125.66" stroke="#a0a0a0" stroke-width="0.45" />
<line x1="325.60" y1="125.66" x2="329.60" y2="125.66" stroke="#808080" stroke-width="0.55" />
<path d="M326.99,125.66 L328.21,125.66 L327.60,124.53Z" fill="#adadad" stroke="none" stroke-width="0.3"/>
<line x1="334.26" y1="120.56" x2="334.26" y2="125.66" stroke="#a0a0a0" stroke-width="0.45" />
<line x1="332.26" y1="125.66" x2="336.26" y2="125.66" stroke="#808080" stroke-width="0.55" />
<path d="M333.41,125.66 L335.11,125.66 L334.26,124.51Z" fill="#adadad" stroke="none" stroke-width="0.3"/>
<line x1="340.92" y1="120.56" x2="340.92" y2="125.66" stroke="#a0a0a0" stroke-width="0.45" />
<line x1="338.92" y1="125.66" x2="342.92" y2="125.66" stroke="#808080" stroke-width="0.55" />
<path d="M339.72,125.66 L342.12,125.66 L340.92,124.14Z" fill="#777777" stroke="none" stroke-width="0.3"/>
<line x1="347.58" y1="120.56" x2="347.58" y2="125.66" stroke="#a0a0a0" stroke-width="0.45" />
<line x1="345.58" y1="125.66" x2="349.58" y2="125.66" stroke="#808080" stroke-width="0.55" />
<path d="M346.95,125.66 L348.21,125.66 L347.58,124.71Z" fill="#858585" stroke="none" stroke-width="0.3"/>
<line x1="354.24" y1="120.56" x2="354.24" y2="125.66" stroke="#a0a0a0" stroke-width="0.45" />
<line x1="352.24" y1="125.66" x2="356.24" y2="125.66" stroke="#808080" stroke-width="0.55" />
<path d="M353.68,125.66 L354.80,125.66 L354.24,124.48Z" fill="#808080" stroke="none" stroke-width="0.3"/>
<line x1="360.90" y1="120.56" x2="360.90" y2="125.66" stroke="#a0a0a0" stroke-width="0.45" />
<line x1="358.90" y1="125.66" x2="362.90" y2="125.66" stroke="#808080" stroke-width="0.55" />
<path d="M360.00,125.66 L361.80,125.66 L360.90,123.44Z" fill="#a2a2a2" stroke="none" stroke-width="0.3"/>
<rect x="254.60" y="36.30" width="113.30" height="93.10" fill="none" stroke="#1a1a1a" stroke-width="0.9" />
<path d="M367.90,42.40 H374.20 V48.62 H367.90" fill="none" stroke="#222" stroke-width="0.6"/>
<path d="M367.90,54.84 H371.60 V61.06 H367.90" fill="none" stroke="#222" stroke-width="0.6"/>
<path d="M367.90,67.28 H373.60 V73.50 H367.90" fill="none" stroke="#222" stroke-width="0.6"/>
<path d="M371.60,57.95 H375.20 V70.39 H373.60" fill="none" stroke="#222" stroke-width="0.6"/>
<path d="M374.20,45.51 H376.40 V64.17 H375.20" fill="none" stroke="#222" stroke-width="0.6"/>
<path d="M367.90,79.72 H371.60 V85.94 H367.90" fill="none" stroke="#222" stroke-width="0.6"/>
<path d="M367.90,92.16 H371.60 V98.38 H367.90" fill="none" stroke="#222" stroke-width="0.6"/>
<path d="M371.60,82.83 H374.40 V95.27 H371.60" fill="none" stroke="#222" stroke-width="0.6"/>
<path d="M367.90,104.60 H375.00 V110.82 H367.90" fill="none" stroke="#222" stroke-width="0.6"/>
<path d="M367.90,117.04 H373.00 V123.26 H367.90" fill="none" stroke="#222" stroke-width="0.6"/>
<path d="M375.00,107.71 H376.20 V120.15 H373.00" fill="none" stroke="#222" stroke-width="0.6"/>
<path d="M374.40,89.05 H378.50 V113.93 H376.20" fill="none" stroke="#222" stroke-width="0.6"/>
<path d="M376.40,54.84 H382.40 V101.49 H378.50" fill="none" stroke="#222" stroke-width="0.6"/>
<rect x="385.30" y="62.70" width="3.30" height="25.90" fill="url(#cbB)" stroke="none" stroke-width="0.8" />
<line x1="388.60" y1="62.70" x2="388.60" y2="88.60" stroke="#333" stroke-width="0.4" />
<line x1="388.60" y1="71.50" x2="390.80" y2="71.50" stroke="#333" stroke-width="0.5" />
<line x1="388.60" y1="88.30" x2="390.80" y2="88.30" stroke="#333" stroke-width="0.5" />
<text stroke="#333" stroke-width="0.22" x="394.60" y="73.60" font-size="6.0" text-anchor="start" fill="#1e1e1e" font-weight="normal" >0.5</text>
<text stroke="#333" stroke-width="0.22" x="394.80" y="90.40" font-size="6.0" text-anchor="start" fill="#1e1e1e" font-weight="normal" >0</text>
<text stroke="#111" stroke-width="0.4" x="417.60" y="15.90" font-size="10.4" text-anchor="start" fill="#111" font-weight="bold" >C</text>
<clipPath id="clipHC"><rect x="439.5" y="20.3" width="54.3" height="52.6"/></clipPath>
<g clip-path="url(#clipHC)">
<g transform="translate(430.44,11.74) scale(0.48)" filter="url(#blur15)">
<path d="M46,74 C54,70 64,72 72,80 C74,88 72,100 68,108 C64,111 58,112 53,111 C49,109 46,105 45,100 C44,92 45,82 46,74 Z" fill="#fde6a4" stroke="#fde6a4" stroke-width="9" stroke-linejoin="round"/>
<path d="M60,58 C66,54 76,52 86,55 C94,60 99,68 101,76 L101,84 C92,84 80,86 70,92 C66,88 64,82 62,76 C60,70 59,64 60,58 Z" fill="#fde6a4" stroke="#fde6a4" stroke-width="9" stroke-linejoin="round"/>
<path d="M52,51 C60,48 67,50 70,55 L68,64 C65,70 60,73 55,73 C52,66 51,58 52,51 Z" fill="#fde6a4" stroke="#fde6a4" stroke-width="9" stroke-linejoin="round"/>
<path d="M23,73 C21,66 21,58 24,54 C27,50 35,50 45,49.5 C52,49.5 58,50 62,51.5 L64,62 C62,68 58,73 52,75 L36,75 Z" fill="#fde6a4" stroke="#fde6a4" stroke-width="9" stroke-linejoin="round"/>
<path d="M42,52 C41,46 41,38 43,34 C45,31 50,31 52,34 C54,38 54,46 53,52 Z" fill="#fde6a4" stroke="#fde6a4" stroke-width="9" stroke-linejoin="round"/>
<path d="M22.5,72 L51,72 C51.5,80 50.5,86 48.5,89.5 C42,91.5 35,92.5 30,92 C26,90.5 23,88 22.5,84 Z" fill="#fde6a4" stroke="#fde6a4" stroke-width="9" stroke-linejoin="round"/>
<path d="M26,91 C30,90 38,90 43,92 C44,96 43,100 40,103 C35,104 30,103 27,100 C26,97 26,94 26,91 Z" fill="#fde6a4" stroke="#fde6a4" stroke-width="9" stroke-linejoin="round"/>
<path d="M70,50 C74,46 80,44 85,45 L87,58 C80,57 74,54 70,50 Z" fill="#fde6a4" stroke="#fde6a4" stroke-width="9" stroke-linejoin="round"/>
<path d="M79,48 C81,45 84,43 86,44 C87,42 88,40 90,41 C92,43 94,44 96,46 C99,50 101,53 103,55 C106.5,60 107.5,66 106.5,71 C105,75 102,77 98,77 C95,71 91,64 86,59 C83,56 80,52 79,48 Z" fill="#fde6a4" stroke="#fde6a4" stroke-width="9" stroke-linejoin="round"/>
<path d="M65,97 C65,92 67,89 71,87 C79,83 88,80 96,79 C101,79 105,81 107,85 C107.5,92 106,98 104,102 C101,106 96,108.5 90,110.5 C84,112.5 76,113.5 71,112.5 C67,110.5 65,106 65,97 Z" fill="#fde6a4" stroke="#fde6a4" stroke-width="9" stroke-linejoin="round"/>
<path d="M90,112 C94,108 100,106 106,105 C110,105 114,107 113,111 C112,115 108,118 104,120 C100,121 95,119 92,116 Z" fill="#fde6a4" stroke="#fde6a4" stroke-width="9" stroke-linejoin="round"/>
<path d="M98,50 C100,42 104,33 110,27 C114,23.5 120,21.5 126.7,22.5 C127,26 124,29 120,32 C116,35 112,39 108,44 C105,48 102,51 99.4,53 Z" fill="#f4f2e4" stroke="#f4f2e4" stroke-width="3"/>
</g>
<ellipse cx="443.6" cy="44" rx="2.2" ry="9" fill="#c4c8cc" opacity="0.8" filter="url(#blur1)"/>
<ellipse cx="455" cy="36" rx="4" ry="5" fill="#f8d27a" opacity="0.8" filter="url(#blur2)"/>
<ellipse cx="472.5" cy="45.5" rx="4" ry="3.5" fill="#f4c068" opacity="0.85" filter="url(#blur2)"/>
<ellipse cx="478.5" cy="55" rx="3.5" ry="3.5" fill="#f8d488" opacity="0.7" filter="url(#blur2)"/>
<ellipse cx="481" cy="62.5" rx="3" ry="3" fill="#f6cc80" opacity="0.7" filter="url(#blur2)"/>
<ellipse cx="453" cy="47" rx="8" ry="12" fill="#f6b858" opacity="0.85" filter="url(#blur2)"/>
<ellipse cx="453" cy="50.6" rx="6" ry="6.5" fill="#ea6a30" opacity="0.95" filter="url(#blur1)"/>
<ellipse cx="452.9" cy="50.8" rx="3.9" ry="3.9" fill="#ba1420" opacity="1" filter="url(#blur1)"/>
<ellipse cx="462" cy="71.5" rx="10" ry="1.3" fill="#d8d8d8" opacity="0.7" filter="url(#blur1)"/>
</g>
<rect x="439.50" y="20.30" width="54.30" height="52.60" fill="none" stroke="#1a1a1a" stroke-width="1.0" />
<text stroke="#333" stroke-width="0.22" x="442.60" y="28.60" font-size="6.4" text-anchor="start" fill="#1e1e1e" font-weight="normal" >HC</text>
<clipPath id="clipMM"><rect x="439.5" y="76.3" width="54.3" height="53.2"/></clipPath>
<g clip-path="url(#clipMM)">
<g transform="translate(430.44,67.74) scale(0.48)" filter="url(#blur15)">
<path d="M46,74 C54,70 64,72 72,80 C74,88 72,100 68,108 C64,111 58,112 53,111 C49,109 46,105 45,100 C44,92 45,82 46,74 Z" fill="#fcdf98" stroke="#fcdf98" stroke-width="9" stroke-linejoin="round"/>
<path d="M60,58 C66,54 76,52 86,55 C94,60 99,68 101,76 L101,84 C92,84 80,86 70,92 C66,88 64,82 62,76 C60,70 59,64 60,58 Z" fill="#fcdf98" stroke="#fcdf98" stroke-width="9" stroke-linejoin="round"/>
<path d="M52,51 C60,48 67,50 70,55 L68,64 C65,70 60,73 55,73 C52,66 51,58 52,51 Z" fill="#fcdf98" stroke="#fcdf98" stroke-width="9" stroke-linejoin="round"/>
<path d="M23,73 C21,66 21,58 24,54 C27,50 35,50 45,49.5 C52,49.5 58,50 62,51.5 L64,62 C62,68 58,73 52,75 L36,75 Z" fill="#fcdf98" stroke="#fcdf98" stroke-width="9" stroke-linejoin="round"/>
<path d="M42,52 C41,46 41,38 43,34 C45,31 50,31 52,34 C54,38 54,46 53,52 Z" fill="#fcdf98" stroke="#fcdf98" stroke-width="9" stroke-linejoin="round"/>
<path d="M22.5,72 L51,72 C51.5,80 50.5,86 48.5,89.5 C42,91.5 35,92.5 30,92 C26,90.5 23,88 22.5,84 Z" fill="#fcdf98" stroke="#fcdf98" stroke-width="9" stroke-linejoin="round"/>
<path d="M26,91 C30,90 38,90 43,92 C44,96 43,100 40,103 C35,104 30,103 27,100 C26,97 26,94 26,91 Z" fill="#fcdf98" stroke="#fcdf98" stroke-width="9" stroke-linejoin="round"/>
<path d="M70,50 C74,46 80,44 85,45 L87,58 C80,57 74,54 70,50 Z" fill="#fcdf98" stroke="#fcdf98" stroke-width="9" stroke-linejoin="round"/>
<path d="M79,48 C81,45 84,43 86,44 C87,42 88,40 90,41 C92,43 94,44 96,46 C99,50 101,53 103,55 C106.5,60 107.5,66 106.5,71 C105,75 102,77 98,77 C95,71 91,64 86,59 C83,56 80,52 79,48 Z" fill="#fcdf98" stroke="#fcdf98" stroke-width="9" stroke-linejoin="round"/>
<path d="M65,97 C65,92 67,89 71,87 C79,83 88,80 96,79 C101,79 105,81 107,85 C107.5,92 106,98 104,102 C101,106 96,108.5 90,110.5 C84,112.5 76,113.5 71,112.5 C67,110.5 65,106 65,97 Z" fill="#fcdf98" stroke="#fcdf98" stroke-width="9" stroke-linejoin="round"/>
<path d="M90,112 C94,108 100,106 106,105 C110,105 114,107 113,111 C112,115 108,118 104,120 C100,121 95,119 92,116 Z" fill="#fcdf98" stroke="#fcdf98" stroke-width="9" stroke-linejoin="round"/>
<path d="M98,50 C100,42 104,33 110,27 C114,23.5 120,21.5 126.7,22.5 C127,26 124,29 120,32 C116,35 112,39 108,44 C105,48 102,51 99.4,53 Z" fill="#fcf0cc" stroke="#fcf0cc" stroke-width="3"/>
</g>
<ellipse cx="455.5" cy="89" rx="3.5" ry="3.5" fill="#f6c060" opacity="0.85" filter="url(#blur2)"/>
<ellipse cx="450" cy="98.5" rx="5.5" ry="5.5" fill="#ec8a30" opacity="0.95" filter="url(#blur2)"/>
<ellipse cx="468.5" cy="97" rx="4" ry="3.5" fill="#f4a848" opacity="0.9" filter="url(#blur2)"/>
<ellipse cx="466.5" cy="109" rx="14" ry="12.5" fill="#f6b050" opacity="0.85" filter="url(#blur2)"/>
<ellipse cx="467" cy="109" rx="12.5" ry="11" fill="#e8502a" opacity="0.95" filter="url(#blur2)"/>
<ellipse cx="467" cy="109.5" rx="9.5" ry="8.5" fill="#cc1c1e" opacity="1" filter="url(#blur1)"/>
<ellipse cx="469.5" cy="112.4" rx="3.8" ry="3.4" fill="#8c1a34" opacity="1" filter="url(#blur1)"/>
<ellipse cx="462" cy="111.5" rx="2.5" ry="2.5" fill="#a01a2a" opacity="0.8" filter="url(#blur1)"/>
<ellipse cx="480" cy="98" rx="4" ry="3" fill="#f6c070" opacity="0.7" filter="url(#blur2)"/>
<ellipse cx="447" cy="108" rx="4" ry="5" fill="#f8c878" opacity="0.7" filter="url(#blur2)"/>
<ellipse cx="474" cy="122" rx="5" ry="3" fill="#f8c070" opacity="0.7" filter="url(#blur2)"/>
</g>
<rect x="439.50" y="76.30" width="54.30" height="53.20" fill="none" stroke="#1a1a1a" stroke-width="1.0" />
<text stroke="#333" stroke-width="0.22" x="442.40" y="83.80" font-size="6.4" text-anchor="start" fill="#1e1e1e" font-weight="normal" >MM</text>
<text transform="translate(435.0,74.8) rotate(-90) scale(0.67,1)" font-size="7.6" font-weight="bold" text-anchor="middle" fill="#1e1e1e">UMAP2</text>
<text transform="translate(466.8,139.5) scale(0.69,1)" font-size="7.8" font-weight="bold" text-anchor="middle" fill="#1e1e1e">UMAP1</text>
<rect x="497.40" y="47.70" width="2.00" height="53.50" fill="url(#cbC)" stroke="none" stroke-width="0.8" />
<line x1="499.40" y1="47.70" x2="500.40" y2="47.70" stroke="#666" stroke-width="0.35" />
<line x1="499.40" y1="58.40" x2="500.40" y2="58.40" stroke="#666" stroke-width="0.35" />
<line x1="499.40" y1="69.10" x2="500.40" y2="69.10" stroke="#666" stroke-width="0.35" />
<line x1="499.40" y1="79.80" x2="500.40" y2="79.80" stroke="#666" stroke-width="0.35" />
<line x1="499.40" y1="90.50" x2="500.40" y2="90.50" stroke="#666" stroke-width="0.35" />
<line x1="499.40" y1="101.20" x2="500.40" y2="101.20" stroke="#666" stroke-width="0.35" />
<text stroke="#555" stroke-width="0.22" x="503.00" y="50.00" font-size="5.4" text-anchor="start" fill="#555" font-weight="normal" >max</text>
<text stroke="#555" stroke-width="0.22" x="503.00" y="103.10" font-size="5.4" text-anchor="start" fill="#555" font-weight="normal" >min</text>
<text stroke="#111" stroke-width="0.4" x="6.80" y="180.70" font-size="10.4" text-anchor="start" fill="#111" font-weight="bold" >D</text>
<line x1="42.20" y1="194.60" x2="42.20" y2="276.90" stroke="#222" stroke-width="0.8" />
<line x1="41.80" y1="276.50" x2="192.20" y2="276.50" stroke="#222" stroke-width="0.8" />
<line x1="39.40" y1="273.00" x2="42.20" y2="273.00" stroke="#222" stroke-width="0.7" />
<text stroke="#333" stroke-width="0.22" x="36.80" y="275.10" font-size="6.0" text-anchor="end" fill="#1e1e1e" font-weight="normal" >0</text>
<line x1="39.40" y1="253.50" x2="42.20" y2="253.50" stroke="#222" stroke-width="0.7" />
<text stroke="#333" stroke-width="0.22" x="36.80" y="255.60" font-size="6.0" text-anchor="end" fill="#1e1e1e" font-weight="normal" >10</text>
<line x1="39.40" y1="234.00" x2="42.20" y2="234.00" stroke="#222" stroke-width="0.7" />
<text stroke="#333" stroke-width="0.22" x="36.80" y="236.10" font-size="6.0" text-anchor="end" fill="#1e1e1e" font-weight="normal" >20</text>
<line x1="39.40" y1="214.50" x2="42.20" y2="214.50" stroke="#222" stroke-width="0.7" />
<text stroke="#333" stroke-width="0.22" x="36.80" y="216.60" font-size="6.0" text-anchor="end" fill="#1e1e1e" font-weight="normal" >30</text>
<line x1="39.40" y1="195.00" x2="42.20" y2="195.00" stroke="#222" stroke-width="0.7" />
<text stroke="#333" stroke-width="0.22" x="36.80" y="197.10" font-size="6.0" text-anchor="end" fill="#1e1e1e" font-weight="normal" >40</text>
<text stroke="#333" stroke-width="0.22" transform="translate(23.0,234.7) rotate(-90) scale(0.85,1)" font-size="6.6" text-anchor="middle" fill="#1e1e1e">Cell frequency (%)</text>
<line x1="47.30" y1="276.50" x2="47.30" y2="279.40" stroke="#222" stroke-width="0.7" />
<text stroke="#333" stroke-width="0.22" transform="translate(49.70,285.00) rotate(-45)" font-size="6.0" text-anchor="end" fill="#1e1e1e">CD4 Tem</text>
<line x1="58.05" y1="276.50" x2="58.05" y2="279.40" stroke="#222" stroke-width="0.7" />
<text stroke="#333" stroke-width="0.22" transform="translate(60.45,285.00) rotate(-45)" font-size="6.0" text-anchor="end" fill="#1e1e1e">CD4 Tnaive</text>
<line x1="68.80" y1="276.50" x2="68.80" y2="279.40" stroke="#222" stroke-width="0.7" />
<text stroke="#333" stroke-width="0.22" transform="translate(71.20,285.00) rotate(-45)" font-size="6.0" text-anchor="end" fill="#1e1e1e">CD8 GZMB+ Teff</text>
<line x1="79.55" y1="276.50" x2="79.55" y2="279.40" stroke="#222" stroke-width="0.7" />
<text stroke="#333" stroke-width="0.22" transform="translate(81.95,285.00) rotate(-45)" font-size="6.0" text-anchor="end" fill="#1e1e1e">CD8 GZMB+ Tem</text>
<line x1="90.30" y1="276.50" x2="90.30" y2="279.40" stroke="#222" stroke-width="0.7" />
<text stroke="#333" stroke-width="0.22" transform="translate(92.70,285.00) rotate(-45)" font-size="6.0" text-anchor="end" fill="#1e1e1e">CD8 GZMK+ Trm</text>
<line x1="101.05" y1="276.50" x2="101.05" y2="279.40" stroke="#222" stroke-width="0.7" />
<text stroke="#333" stroke-width="0.22" transform="translate(103.45,285.00) rotate(-45)" font-size="6.0" text-anchor="end" fill="#1e1e1e">CD8 Tnaive</text>
<line x1="111.80" y1="276.50" x2="111.80" y2="279.40" stroke="#222" stroke-width="0.7" />
<text stroke="#333" stroke-width="0.22" transform="translate(114.20,285.00) rotate(-45)" font-size="6.0" text-anchor="end" fill="#1e1e1e">GNLY+ T</text>
<line x1="122.55" y1="276.50" x2="122.55" y2="279.40" stroke="#222" stroke-width="0.7" />
<text stroke="#333" stroke-width="0.22" transform="translate(124.95,285.00) rotate(-45)" font-size="6.0" text-anchor="end" fill="#1e1e1e">IFN-responding T</text>
<line x1="133.30" y1="276.50" x2="133.30" y2="279.40" stroke="#222" stroke-width="0.7" />
<text stroke="#333" stroke-width="0.22" transform="translate(135.70,285.00) rotate(-45)" font-size="6.0" text-anchor="end" fill="#1e1e1e">MAIT</text>
<line x1="144.05" y1="276.50" x2="144.05" y2="279.40" stroke="#222" stroke-width="0.7" />
<text stroke="#333" stroke-width="0.22" transform="translate(146.45,285.00) rotate(-45)" font-size="6.0" text-anchor="end" fill="#1e1e1e">NKT</text>
<line x1="154.80" y1="276.50" x2="154.80" y2="279.40" stroke="#222" stroke-width="0.7" />
<text stroke="#333" stroke-width="0.22" transform="translate(157.20,285.00) rotate(-45)" font-size="6.0" text-anchor="end" fill="#1e1e1e">Proliferative</text>
<line x1="165.55" y1="276.50" x2="165.55" y2="279.40" stroke="#222" stroke-width="0.7" />
<text stroke="#333" stroke-width="0.22" transform="translate(167.95,285.00) rotate(-45)" font-size="6.0" text-anchor="end" fill="#1e1e1e">Treg</text>
<line x1="176.30" y1="276.50" x2="176.30" y2="279.40" stroke="#222" stroke-width="0.7" />
<text stroke="#888" stroke-width="0.22" transform="translate(178.70,285.00) rotate(-45)" font-size="6.0" text-anchor="end" fill="#888">γδT</text>
<line x1="187.05" y1="276.50" x2="187.05" y2="279.40" stroke="#222" stroke-width="0.7" />
<text stroke="#333" stroke-width="0.22" transform="translate(189.45,285.00) rotate(-45)" font-size="6.0" text-anchor="end" fill="#1e1e1e">cycling CD8</text>
<line x1="45.10" y1="252.53" x2="45.10" y2="252.91" stroke="#555" stroke-width="0.6" />
<line x1="45.10" y1="253.89" x2="45.10" y2="254.28" stroke="#555" stroke-width="0.6" />
<rect x="43.00" y="252.91" width="4.20" height="1.00" fill="#3cae3e" stroke="#3cae3e" stroke-width="0.4" rx="0.6"/>
<line x1="43.00" y1="253.50" x2="47.20" y2="253.50" stroke="#222" stroke-width="0.5" />
<circle cx="45.10" cy="254.28" r="0.55" fill="#333"/>
<line x1="49.50" y1="238.88" x2="49.50" y2="244.72" stroke="#555" stroke-width="0.6" />
<line x1="49.50" y1="259.74" x2="49.50" y2="265.20" stroke="#555" stroke-width="0.6" />
<rect x="47.40" y="244.72" width="4.20" height="15.02" fill="#c0122e" stroke="#c0122e" stroke-width="0.4" rx="0.6"/>
<line x1="47.40" y1="251.94" x2="51.60" y2="251.94" stroke="#222" stroke-width="0.5" />
<circle cx="49.50" cy="265.20" r="0.55" fill="#333"/>
<line x1="55.85" y1="223.28" x2="55.85" y2="224.25" stroke="#555" stroke-width="0.6" />
<line x1="55.85" y1="234.97" x2="55.85" y2="248.62" stroke="#555" stroke-width="0.6" />
<rect x="53.75" y="224.25" width="4.20" height="10.72" fill="#3cae3e" stroke="#3cae3e" stroke-width="0.4" rx="0.6"/>
<line x1="53.75" y1="225.22" x2="57.95" y2="225.22" stroke="#222" stroke-width="0.5" />
<circle cx="55.85" cy="248.62" r="0.55" fill="#333"/>
<line x1="60.25" y1="249.60" x2="60.25" y2="262.08" stroke="#555" stroke-width="0.6" />
<line x1="60.25" y1="269.49" x2="60.25" y2="271.25" stroke="#555" stroke-width="0.6" />
<rect x="58.15" y="262.08" width="4.20" height="7.41" fill="#c0122e" stroke="#c0122e" stroke-width="0.4" rx="0.6"/>
<line x1="58.15" y1="266.18" x2="62.35" y2="266.18" stroke="#222" stroke-width="0.5" />
<circle cx="60.25" cy="271.25" r="0.55" fill="#333"/>
<line x1="66.60" y1="252.53" x2="66.60" y2="253.11" stroke="#555" stroke-width="0.6" />
<line x1="66.60" y1="259.74" x2="66.60" y2="260.32" stroke="#555" stroke-width="0.6" />
<rect x="64.50" y="253.11" width="4.20" height="6.63" fill="#3cae3e" stroke="#3cae3e" stroke-width="0.4" rx="0.6"/>
<line x1="64.50" y1="258.76" x2="68.70" y2="258.76" stroke="#222" stroke-width="0.5" />
<circle cx="66.60" cy="260.32" r="0.55" fill="#333"/>
<line x1="71.00" y1="204.75" x2="71.00" y2="210.99" stroke="#555" stroke-width="0.6" />
<line x1="71.00" y1="223.28" x2="71.00" y2="236.93" stroke="#555" stroke-width="0.6" />
<rect x="68.90" y="210.99" width="4.20" height="12.28" fill="#c0122e" stroke="#c0122e" stroke-width="0.4" rx="0.6"/>
<line x1="68.90" y1="217.43" x2="73.10" y2="217.43" stroke="#222" stroke-width="0.5" />
<circle cx="71.00" cy="236.93" r="0.55" fill="#333"/>
<line x1="77.35" y1="268.71" x2="77.35" y2="269.10" stroke="#555" stroke-width="0.6" />
<line x1="77.35" y1="270.27" x2="77.35" y2="270.66" stroke="#555" stroke-width="0.6" />
<rect x="75.25" y="269.10" width="4.20" height="1.17" fill="#3cae3e" stroke="#3cae3e" stroke-width="0.4" rx="0.6"/>
<line x1="75.25" y1="269.69" x2="79.45" y2="269.69" stroke="#222" stroke-width="0.5" />
<circle cx="77.35" cy="270.66" r="0.55" fill="#333"/>
<line x1="81.75" y1="254.47" x2="81.75" y2="262.27" stroke="#555" stroke-width="0.6" />
<line x1="81.75" y1="269.49" x2="81.75" y2="271.83" stroke="#555" stroke-width="0.6" />
<rect x="79.65" y="262.27" width="4.20" height="7.22" fill="#c0122e" stroke="#c0122e" stroke-width="0.4" rx="0.6"/>
<line x1="79.65" y1="267.15" x2="83.85" y2="267.15" stroke="#222" stroke-width="0.5" />
<circle cx="81.75" cy="271.83" r="0.55" fill="#333"/>
<line x1="88.10" y1="246.48" x2="88.10" y2="247.06" stroke="#555" stroke-width="0.6" />
<line x1="88.10" y1="248.62" x2="88.10" y2="249.21" stroke="#555" stroke-width="0.6" />
<rect x="86.00" y="247.06" width="4.20" height="1.56" fill="#3cae3e" stroke="#3cae3e" stroke-width="0.4" rx="0.6"/>
<line x1="86.00" y1="247.84" x2="90.20" y2="247.84" stroke="#222" stroke-width="0.5" />
<circle cx="88.10" cy="249.21" r="0.55" fill="#333"/>
<line x1="92.50" y1="234.97" x2="92.50" y2="243.36" stroke="#555" stroke-width="0.6" />
<line x1="92.50" y1="251.16" x2="92.50" y2="255.45" stroke="#555" stroke-width="0.6" />
<rect x="90.40" y="243.36" width="4.20" height="7.80" fill="#c0122e" stroke="#c0122e" stroke-width="0.4" rx="0.6"/>
<line x1="90.40" y1="246.68" x2="94.60" y2="246.68" stroke="#222" stroke-width="0.5" />
<circle cx="92.50" cy="255.45" r="0.55" fill="#333"/>
<line x1="98.85" y1="259.35" x2="98.85" y2="259.94" stroke="#555" stroke-width="0.6" />
<line x1="98.85" y1="263.64" x2="98.85" y2="265.20" stroke="#555" stroke-width="0.6" />
<rect x="96.75" y="259.94" width="4.20" height="3.70" fill="#3cae3e" stroke="#3cae3e" stroke-width="0.4" rx="0.6"/>
<line x1="96.75" y1="261.69" x2="100.95" y2="261.69" stroke="#222" stroke-width="0.5" />
<circle cx="98.85" cy="265.20" r="0.55" fill="#333"/>
<line x1="103.25" y1="260.32" x2="103.25" y2="265.20" stroke="#555" stroke-width="0.6" />
<line x1="103.25" y1="269.49" x2="103.25" y2="271.44" stroke="#555" stroke-width="0.6" />
<rect x="101.15" y="265.20" width="4.20" height="4.29" fill="#c0122e" stroke="#c0122e" stroke-width="0.4" rx="0.6"/>
<line x1="101.15" y1="268.12" x2="105.35" y2="268.12" stroke="#222" stroke-width="0.5" />
<circle cx="103.25" cy="271.44" r="0.55" fill="#333"/>
<line x1="109.60" y1="225.22" x2="109.60" y2="228.15" stroke="#555" stroke-width="0.6" />
<line x1="109.60" y1="244.72" x2="109.60" y2="262.27" stroke="#555" stroke-width="0.6" />
<rect x="107.50" y="228.15" width="4.20" height="16.57" fill="#3cae3e" stroke="#3cae3e" stroke-width="0.4" rx="0.6"/>
<line x1="107.50" y1="234.39" x2="111.70" y2="234.39" stroke="#222" stroke-width="0.5" />
<circle cx="109.60" cy="262.27" r="0.55" fill="#333"/>
<line x1="114.00" y1="195.98" x2="114.00" y2="222.69" stroke="#555" stroke-width="0.6" />
<line x1="114.00" y1="253.89" x2="114.00" y2="263.25" stroke="#555" stroke-width="0.6" />
<rect x="111.90" y="222.69" width="4.20" height="31.20" fill="#c0122e" stroke="#c0122e" stroke-width="0.4" rx="0.6"/>
<line x1="111.90" y1="242.78" x2="116.10" y2="242.78" stroke="#222" stroke-width="0.5" />
<circle cx="114.00" cy="263.25" r="0.55" fill="#333"/>
<line x1="120.35" y1="270.66" x2="120.35" y2="271.05" stroke="#555" stroke-width="0.6" />
<line x1="120.35" y1="271.83" x2="120.35" y2="272.02" stroke="#555" stroke-width="0.6" />
<rect x="118.25" y="271.05" width="4.20" height="1.00" fill="#3cae3e" stroke="#3cae3e" stroke-width="0.4" rx="0.6"/>
<line x1="118.25" y1="271.44" x2="122.45" y2="271.44" stroke="#222" stroke-width="0.5" />
<circle cx="120.35" cy="272.02" r="0.55" fill="#333"/>
<line x1="124.75" y1="268.12" x2="124.75" y2="269.49" stroke="#555" stroke-width="0.6" />
<line x1="124.75" y1="271.05" x2="124.75" y2="271.63" stroke="#555" stroke-width="0.6" />
<rect x="122.65" y="269.49" width="4.20" height="1.56" fill="#c0122e" stroke="#c0122e" stroke-width="0.4" rx="0.6"/>
<line x1="122.65" y1="270.27" x2="126.85" y2="270.27" stroke="#222" stroke-width="0.5" />
<circle cx="124.75" cy="271.63" r="0.55" fill="#333"/>
<line x1="131.10" y1="261.30" x2="131.10" y2="262.08" stroke="#555" stroke-width="0.6" />
<line x1="131.10" y1="264.23" x2="131.10" y2="264.81" stroke="#555" stroke-width="0.6" />
<rect x="129.00" y="262.08" width="4.20" height="2.15" fill="#3cae3e" stroke="#3cae3e" stroke-width="0.4" rx="0.6"/>
<line x1="129.00" y1="263.25" x2="133.20" y2="263.25" stroke="#222" stroke-width="0.5" />
<circle cx="131.10" cy="264.81" r="0.55" fill="#333"/>
<line x1="135.50" y1="260.32" x2="135.50" y2="264.23" stroke="#555" stroke-width="0.6" />
<line x1="135.50" y1="267.54" x2="135.50" y2="269.49" stroke="#555" stroke-width="0.6" />
<rect x="133.40" y="264.23" width="4.20" height="3.31" fill="#c0122e" stroke="#c0122e" stroke-width="0.4" rx="0.6"/>
<line x1="133.40" y1="265.98" x2="137.60" y2="265.98" stroke="#222" stroke-width="0.5" />
<circle cx="135.50" cy="269.49" r="0.55" fill="#333"/>
<line x1="141.85" y1="271.05" x2="141.85" y2="271.44" stroke="#555" stroke-width="0.6" />
<line x1="141.85" y1="272.22" x2="141.85" y2="272.42" stroke="#555" stroke-width="0.6" />
<rect x="139.75" y="271.44" width="4.20" height="1.00" fill="#3cae3e" stroke="#3cae3e" stroke-width="0.4" rx="0.6"/>
<line x1="139.75" y1="271.83" x2="143.95" y2="271.83" stroke="#222" stroke-width="0.5" />
<circle cx="141.85" cy="272.42" r="0.55" fill="#333"/>
<line x1="146.25" y1="267.15" x2="146.25" y2="268.71" stroke="#555" stroke-width="0.6" />
<line x1="146.25" y1="272.02" x2="146.25" y2="272.42" stroke="#555" stroke-width="0.6" />
<rect x="144.15" y="268.71" width="4.20" height="3.31" fill="#c0122e" stroke="#c0122e" stroke-width="0.4" rx="0.6"/>
<line x1="144.15" y1="271.05" x2="148.35" y2="271.05" stroke="#222" stroke-width="0.5" />
<circle cx="146.25" cy="272.42" r="0.55" fill="#333"/>
<line x1="152.60" y1="271.25" x2="152.60" y2="271.63" stroke="#555" stroke-width="0.6" />
<line x1="152.60" y1="272.42" x2="152.60" y2="272.61" stroke="#555" stroke-width="0.6" />
<rect x="150.50" y="271.63" width="4.20" height="1.00" fill="#3cae3e" stroke="#3cae3e" stroke-width="0.4" rx="0.6"/>
<line x1="150.50" y1="272.02" x2="154.70" y2="272.02" stroke="#222" stroke-width="0.5" />
<circle cx="152.60" cy="272.61" r="0.55" fill="#333"/>
<line x1="157.00" y1="264.23" x2="157.00" y2="267.15" stroke="#555" stroke-width="0.6" />
<line x1="157.00" y1="271.05" x2="157.00" y2="272.02" stroke="#555" stroke-width="0.6" />
<rect x="154.90" y="267.15" width="4.20" height="3.90" fill="#c0122e" stroke="#c0122e" stroke-width="0.4" rx="0.6"/>
<line x1="154.90" y1="269.88" x2="159.10" y2="269.88" stroke="#222" stroke-width="0.5" />
<circle cx="157.00" cy="272.02" r="0.55" fill="#333"/>
<line x1="163.35" y1="263.25" x2="163.35" y2="264.42" stroke="#555" stroke-width="0.6" />
<line x1="163.35" y1="266.18" x2="163.35" y2="267.15" stroke="#555" stroke-width="0.6" />
<rect x="161.25" y="264.42" width="4.20" height="1.75" fill="#3cae3e" stroke="#3cae3e" stroke-width="0.4" rx="0.6"/>
<line x1="161.25" y1="265.39" x2="165.45" y2="265.39" stroke="#222" stroke-width="0.5" />
<circle cx="163.35" cy="267.15" r="0.55" fill="#333"/>
<line x1="167.75" y1="261.30" x2="167.75" y2="265.20" stroke="#555" stroke-width="0.6" />
<line x1="167.75" y1="270.07" x2="167.75" y2="271.05" stroke="#555" stroke-width="0.6" />
<rect x="165.65" y="265.20" width="4.20" height="4.88" fill="#c0122e" stroke="#c0122e" stroke-width="0.4" rx="0.6"/>
<line x1="165.65" y1="268.12" x2="169.85" y2="268.12" stroke="#222" stroke-width="0.5" />
<circle cx="167.75" cy="271.05" r="0.55" fill="#333"/>
<line x1="174.10" y1="264.23" x2="174.10" y2="265.20" stroke="#555" stroke-width="0.6" />
<line x1="174.10" y1="267.93" x2="174.10" y2="269.10" stroke="#555" stroke-width="0.6" />
<rect x="172.00" y="265.20" width="4.20" height="2.73" fill="#3cae3e" stroke="#3cae3e" stroke-width="0.4" rx="0.6"/>
<line x1="172.00" y1="266.76" x2="176.20" y2="266.76" stroke="#222" stroke-width="0.5" />
<circle cx="174.10" cy="269.10" r="0.55" fill="#333"/>
<line x1="178.50" y1="262.27" x2="178.50" y2="264.42" stroke="#555" stroke-width="0.6" />
<line x1="178.50" y1="270.66" x2="178.50" y2="272.02" stroke="#555" stroke-width="0.6" />
<rect x="176.40" y="264.42" width="4.20" height="6.24" fill="#c0122e" stroke="#c0122e" stroke-width="0.4" rx="0.6"/>
<line x1="176.40" y1="268.12" x2="180.60" y2="268.12" stroke="#222" stroke-width="0.5" />
<circle cx="178.50" cy="272.02" r="0.55" fill="#333"/>
<line x1="184.85" y1="267.15" x2="184.85" y2="267.54" stroke="#555" stroke-width="0.6" />
<line x1="184.85" y1="268.71" x2="184.85" y2="269.10" stroke="#555" stroke-width="0.6" />
<rect x="182.75" y="267.54" width="4.20" height="1.17" fill="#3cae3e" stroke="#3cae3e" stroke-width="0.4" rx="0.6"/>
<line x1="182.75" y1="268.12" x2="186.95" y2="268.12" stroke="#222" stroke-width="0.5" />
<circle cx="184.85" cy="269.10" r="0.55" fill="#333"/>
<line x1="189.25" y1="267.54" x2="189.25" y2="267.93" stroke="#555" stroke-width="0.6" />
<line x1="189.25" y1="269.10" x2="189.25" y2="269.49" stroke="#555" stroke-width="0.6" />
<rect x="187.15" y="267.93" width="4.20" height="1.17" fill="#c0122e" stroke="#c0122e" stroke-width="0.4" rx="0.6"/>
<line x1="187.15" y1="268.51" x2="191.35" y2="268.51" stroke="#222" stroke-width="0.5" />
<circle cx="189.25" cy="269.49" r="0.55" fill="#333"/>
<circle cx="36.5" cy="242" r="0.5" fill="#aaa"/>
<circle cx="67.1" cy="208.3" r="0.5" fill="#aaa"/>
<circle cx="78" cy="249.5" r="0.5" fill="#aaa"/>
<circle cx="86" cy="247" r="0.5" fill="#aaa"/>
<circle cx="135" cy="260" r="0.5" fill="#aaa"/>
<circle cx="164" cy="242" r="0.5" fill="#aaa"/>
<circle cx="168" cy="247.4" r="0.5" fill="#aaa"/>
<line x1="55.40" y1="215.30" x2="61.60" y2="215.30" stroke="#999" stroke-width="0.5" />
<text stroke="#222" stroke-width="0.22" x="58.20" y="214.70" font-size="6.2" text-anchor="middle" fill="#222" font-weight="normal" >*</text>
<line x1="65.80" y1="201.20" x2="72.00" y2="201.20" stroke="#999" stroke-width="0.5" />
<text stroke="#222" stroke-width="0.22" x="68.60" y="200.60" font-size="6.2" text-anchor="middle" fill="#222" font-weight="normal" >*</text>
<line x1="98.50" y1="250.20" x2="104.00" y2="250.20" stroke="#999" stroke-width="0.5" />
<text stroke="#222" stroke-width="0.22" x="101.00" y="249.60" font-size="6.2" text-anchor="middle" fill="#222" font-weight="normal" >*</text>
<line x1="119.60" y1="260.30" x2="125.00" y2="260.30" stroke="#999" stroke-width="0.5" />
<text stroke="#222" stroke-width="0.22" x="122.00" y="259.70" font-size="6.2" text-anchor="middle" fill="#222" font-weight="normal" >*</text>
<line x1="141.50" y1="254.00" x2="147.00" y2="254.00" stroke="#999" stroke-width="0.5" />
<text stroke="#222" stroke-width="0.22" x="144.00" y="253.40" font-size="6.2" text-anchor="middle" fill="#222" font-weight="normal" >*</text>
<line x1="152.00" y1="255.00" x2="157.50" y2="255.00" stroke="#999" stroke-width="0.5" />
<text stroke="#222" stroke-width="0.22" x="154.50" y="254.40" font-size="6.2" text-anchor="middle" fill="#222" font-weight="normal" >*</text>
<rect x="197.90" y="228.30" width="4.30" height="3.80" fill="#3cae3e" stroke="none" stroke-width="0.8" />
<rect x="197.90" y="237.60" width="4.30" height="4.20" fill="#c0122e" stroke="none" stroke-width="0.8" />
<text stroke="#333" stroke-width="0.22" x="205.10" y="232.40" font-size="6.4" text-anchor="start" fill="#1e1e1e" font-weight="normal" >HC</text>
<text stroke="#333" stroke-width="0.22" x="205.10" y="241.90" font-size="6.4" text-anchor="start" fill="#1e1e1e" font-weight="normal" >MM</text>
<text stroke="#111" stroke-width="0.4" x="237.20" y="181.20" font-size="10.4" text-anchor="start" fill="#111" font-weight="bold" >E</text>
<text stroke="#333" stroke-width="0.22" x="302.60" y="193.90" font-size="8.3" text-anchor="middle" fill="#1e1e1e" font-weight="normal" >HC</text>
<text stroke="#333" stroke-width="0.22" x="365.50" y="193.40" font-size="7.8" text-anchor="middle" fill="#1e1e1e" font-weight="normal" >MM pre-CAR</text>
<rect x="277.90" y="197.80" width="48.80" height="4.40" fill="#8cc63f" stroke="#5e8c2a" stroke-width="0.5" />
<rect x="328.70" y="198.00" width="73.10" height="4.60" fill="#c9202f" stroke="#8a1020" stroke-width="0.5" />
<text stroke="#222" stroke-width="0.22" x="272.30" y="208.68" font-size="6.0" text-anchor="end" fill="#222" font-weight="normal" >PRF1</text>
<line x1="273.30" y1="206.58" x2="277.80" y2="206.58" stroke="#222" stroke-width="0.6" />
<text stroke="#222" stroke-width="0.22" x="272.30" y="215.04" font-size="6.0" text-anchor="end" fill="#222" font-weight="normal" >GZMB</text>
<line x1="273.30" y1="212.94" x2="277.80" y2="212.94" stroke="#222" stroke-width="0.6" />
<text stroke="#222" stroke-width="0.22" x="272.30" y="221.41" font-size="6.0" text-anchor="end" fill="#222" font-weight="normal" >GZMK</text>
<line x1="273.30" y1="219.31" x2="277.80" y2="219.31" stroke="#222" stroke-width="0.6" />
<text stroke="#222" stroke-width="0.22" x="272.30" y="227.77" font-size="6.0" text-anchor="end" fill="#222" font-weight="normal" >EOMES</text>
<line x1="273.30" y1="225.67" x2="277.80" y2="225.67" stroke="#222" stroke-width="0.6" />
<text stroke="#222" stroke-width="0.22" x="272.30" y="234.13" font-size="6.0" text-anchor="end" fill="#222" font-weight="normal" >KLRG1</text>
<line x1="273.30" y1="232.03" x2="277.80" y2="232.03" stroke="#222" stroke-width="0.6" />
<text stroke="#222" stroke-width="0.22" x="272.30" y="240.49" font-size="6.0" text-anchor="end" fill="#222" font-weight="normal" >NKG7</text>
<line x1="273.30" y1="238.39" x2="277.80" y2="238.39" stroke="#222" stroke-width="0.6" />
<text stroke="#222" stroke-width="0.22" x="272.30" y="246.86" font-size="6.0" text-anchor="end" fill="#222" font-weight="normal" >CCR7</text>
<line x1="273.30" y1="244.76" x2="277.80" y2="244.76" stroke="#222" stroke-width="0.6" />
<text stroke="#222" stroke-width="0.22" x="272.30" y="253.22" font-size="6.0" text-anchor="end" fill="#222" font-weight="normal" >ID3</text>
<line x1="273.30" y1="251.12" x2="277.80" y2="251.12" stroke="#222" stroke-width="0.6" />
<text stroke="#222" stroke-width="0.22" x="272.30" y="259.58" font-size="6.0" text-anchor="end" fill="#222" font-weight="normal" >SELL</text>
<line x1="273.30" y1="257.48" x2="277.80" y2="257.48" stroke="#222" stroke-width="0.6" />
<text stroke="#222" stroke-width="0.22" x="272.30" y="265.94" font-size="6.0" text-anchor="end" fill="#222" font-weight="normal" >IL7R</text>
<line x1="273.30" y1="263.84" x2="277.80" y2="263.84" stroke="#222" stroke-width="0.6" />
<text stroke="#222" stroke-width="0.22" x="272.30" y="272.31" font-size="6.0" text-anchor="end" fill="#222" font-weight="normal" >CCL3</text>
<line x1="273.30" y1="270.21" x2="277.80" y2="270.21" stroke="#222" stroke-width="0.6" />
<text stroke="#222" stroke-width="0.22" x="272.30" y="278.67" font-size="6.0" text-anchor="end" fill="#222" font-weight="normal" >CCL4</text>
<line x1="273.30" y1="276.57" x2="277.80" y2="276.57" stroke="#222" stroke-width="0.6" />
<text stroke="#222" stroke-width="0.22" x="272.30" y="285.03" font-size="6.0" text-anchor="end" fill="#222" font-weight="normal" >CCR5</text>
<line x1="273.30" y1="282.93" x2="277.80" y2="282.93" stroke="#222" stroke-width="0.6" />
<text stroke="#222" stroke-width="0.22" x="272.30" y="291.39" font-size="6.0" text-anchor="end" fill="#222" font-weight="normal" >CD70</text>
<line x1="273.30" y1="289.29" x2="277.80" y2="289.29" stroke="#222" stroke-width="0.6" />
<text stroke="#222" stroke-width="0.22" x="272.30" y="297.76" font-size="6.0" text-anchor="end" fill="#222" font-weight="normal" >CD38</text>
<line x1="273.30" y1="295.66" x2="277.80" y2="295.66" stroke="#222" stroke-width="0.6" />
<text stroke="#222" stroke-width="0.22" x="272.30" y="304.12" font-size="6.0" text-anchor="end" fill="#222" font-weight="normal" >HAVCR2</text>
<line x1="273.30" y1="302.02" x2="277.80" y2="302.02" stroke="#222" stroke-width="0.6" />
<text stroke="#222" stroke-width="0.22" x="272.30" y="310.48" font-size="6.0" text-anchor="end" fill="#222" font-weight="normal" >LAG3</text>
<line x1="273.30" y1="308.38" x2="277.80" y2="308.38" stroke="#222" stroke-width="0.6" />
<text stroke="#222" stroke-width="0.22" x="272.30" y="316.84" font-size="6.0" text-anchor="end" fill="#222" font-weight="normal" >IL2RA</text>
<line x1="273.30" y1="314.74" x2="277.80" y2="314.74" stroke="#222" stroke-width="0.6" />
<text stroke="#222" stroke-width="0.22" x="272.30" y="323.21" font-size="6.0" text-anchor="end" fill="#222" font-weight="normal" >TOP2A</text>
<line x1="273.30" y1="321.11" x2="277.80" y2="321.11" stroke="#222" stroke-width="0.6" />
<text stroke="#222" stroke-width="0.22" x="272.30" y="329.57" font-size="6.0" text-anchor="end" fill="#222" font-weight="normal" >MKI67</text>
<line x1="273.30" y1="327.47" x2="277.80" y2="327.47" stroke="#222" stroke-width="0.6" />
<text stroke="#222" stroke-width="0.22" x="272.30" y="335.93" font-size="6.0" text-anchor="end" fill="#222" font-weight="normal" >CDK1</text>
<line x1="273.30" y1="333.83" x2="277.80" y2="333.83" stroke="#222" stroke-width="0.6" />
<text stroke="#222" stroke-width="0.22" x="272.30" y="342.29" font-size="6.0" text-anchor="end" fill="#222" font-weight="normal" >TYMS</text>
<line x1="273.30" y1="340.19" x2="277.80" y2="340.19" stroke="#222" stroke-width="0.6" />
<text stroke="#222" stroke-width="0.22" x="272.30" y="348.66" font-size="6.0" text-anchor="end" fill="#222" font-weight="normal" >PLK1</text>
<line x1="273.30" y1="346.56" x2="277.80" y2="346.56" stroke="#222" stroke-width="0.6" />
<text stroke="#222" stroke-width="0.22" x="272.30" y="355.02" font-size="6.0" text-anchor="end" fill="#222" font-weight="normal" >CDC20</text>
<line x1="273.30" y1="352.92" x2="277.80" y2="352.92" stroke="#222" stroke-width="0.6" />
<clipPath id="clipE"><rect x="277.8" y="203.4" width="124.00" height="152.70"/></clipPath>
<g clip-path="url(#clipE)"><g filter="url(#blurH)" shape-rendering="crispEdges">
<rect x="275.8" y="201.4" width="128.00" height="156.70" fill="#1f3a6e"/>
<rect x="277.8" y="201.40" width="2.3" height="8.36" fill="#213d7c"/>
<rect x="277.8" y="209.76" width="2.3" height="6.66" fill="#284aa1"/>
<rect x="277.8" y="216.12" width="2.3" height="6.66" fill="#27499f"/>
<rect x="277.8" y="222.49" width="2.3" height="6.66" fill="#1e386b"/>
<rect x="277.8" y="228.85" width="2.3" height="6.66" fill="#2d53ab"/>
<rect x="277.8" y="235.21" width="2.3" height="6.66" fill="#546eba"/>
<rect x="277.8" y="241.58" width="2.3" height="6.66" fill="#aaabd4"/>
<rect x="277.8" y="247.94" width="2.3" height="6.66" fill="#7b88c5"/>
<rect x="277.8" y="254.30" width="2.3" height="6.66" fill="#b6b3d8"/>
<rect x="277.8" y="260.66" width="2.3" height="6.66" fill="#d4cadf"/>
<rect x="277.8" y="267.03" width="2.3" height="6.66" fill="#213e7e"/>
<rect x="277.8" y="273.39" width="2.3" height="6.66" fill="#6277be"/>
<rect x="277.8" y="279.75" width="2.3" height="6.66" fill="#203b74"/>
<rect x="277.8" y="286.11" width="2.3" height="6.66" fill="#1e396c"/>
<rect x="277.8" y="292.48" width="2.3" height="6.66" fill="#1f3a6d"/>
<rect x="277.8" y="298.84" width="2.3" height="6.66" fill="#203b73"/>
<rect x="277.8" y="305.20" width="2.3" height="6.66" fill="#203b74"/>
<rect x="277.8" y="311.56" width="2.3" height="6.66" fill="#203c75"/>
<rect x="277.8" y="317.93" width="2.3" height="6.66" fill="#1f3a6d"/>
<rect x="277.8" y="324.29" width="2.3" height="6.66" fill="#1e396c"/>
<rect x="277.8" y="330.65" width="2.3" height="6.66" fill="#1d3668"/>
<rect x="277.8" y="337.01" width="2.3" height="6.66" fill="#1f396d"/>
<rect x="277.8" y="343.38" width="2.3" height="6.66" fill="#1e396d"/>
<rect x="277.8" y="349.74" width="2.3" height="8.36" fill="#1f3b71"/>
<rect x="279.8" y="201.40" width="2.3" height="8.36" fill="#556fba"/>
<rect x="279.8" y="209.76" width="2.3" height="6.66" fill="#234290"/>
<rect x="279.8" y="216.12" width="2.3" height="6.66" fill="#939acd"/>
<rect x="279.8" y="222.49" width="2.3" height="6.66" fill="#949bcd"/>
<rect x="279.8" y="228.85" width="2.3" height="6.66" fill="#4e6bb8"/>
<rect x="279.8" y="235.21" width="2.3" height="6.66" fill="#e7d1d7"/>
<rect x="279.8" y="241.58" width="2.3" height="6.66" fill="#e6d7e1"/>
<rect x="279.8" y="247.94" width="2.3" height="6.66" fill="#506cb9"/>
<rect x="279.8" y="254.30" width="2.3" height="6.66" fill="#e8c8ca"/>
<rect x="279.8" y="260.66" width="2.3" height="6.66" fill="#e8c0bd"/>
<rect x="279.8" y="267.03" width="2.3" height="6.66" fill="#213f83"/>
<rect x="279.8" y="273.39" width="2.3" height="6.66" fill="#6b7dc0"/>
<rect x="279.8" y="279.75" width="2.3" height="6.66" fill="#213e7e"/>
<rect x="279.8" y="286.11" width="2.3" height="6.66" fill="#203c77"/>
<rect x="279.8" y="292.48" width="2.3" height="6.66" fill="#1e396c"/>
<rect x="279.8" y="298.84" width="2.3" height="6.66" fill="#203b74"/>
<rect x="279.8" y="305.20" width="2.3" height="6.66" fill="#213e7f"/>
<rect x="279.8" y="311.56" width="2.3" height="6.66" fill="#213d7c"/>
<rect x="279.8" y="317.93" width="2.3" height="6.66" fill="#1e396c"/>
<rect x="279.8" y="324.29" width="2.3" height="6.66" fill="#1f3a6f"/>
<rect x="279.8" y="330.65" width="2.3" height="6.66" fill="#1f3a70"/>
<rect x="279.8" y="337.01" width="2.3" height="6.66" fill="#1f3a6d"/>
<rect x="279.8" y="343.38" width="2.3" height="6.66" fill="#1f3a6f"/>
<rect x="281.8" y="201.40" width="2.3" height="8.36" fill="#234290"/>
<rect x="281.8" y="209.76" width="2.3" height="6.66" fill="#2d53aa"/>
<rect x="281.8" y="216.12" width="2.3" height="6.66" fill="#687bc0"/>
<rect x="281.8" y="222.49" width="2.3" height="6.66" fill="#203c75"/>
<rect x="281.8" y="228.85" width="2.3" height="6.66" fill="#c5bfdc"/>
<rect x="281.8" y="235.21" width="2.3" height="6.66" fill="#4b69b7"/>
<rect x="281.8" y="241.58" width="2.3" height="6.66" fill="#8c95cb"/>
<rect x="281.8" y="247.94" width="2.3" height="6.66" fill="#2c52a9"/>
<rect x="281.8" y="254.30" width="2.3" height="6.66" fill="#e9bab4"/>
<rect x="281.8" y="260.66" width="2.3" height="6.66" fill="#dacfe0"/>
<rect x="281.8" y="267.03" width="2.3" height="6.66" fill="#213e7f"/>
<rect x="281.8" y="273.39" width="2.3" height="6.66" fill="#6378be"/>
<rect x="281.8" y="279.75" width="2.3" height="6.66" fill="#203b73"/>
<rect x="281.8" y="286.11" width="2.3" height="6.66" fill="#1f3b71"/>
<rect x="281.8" y="292.48" width="2.3" height="6.66" fill="#1e396c"/>
<rect x="281.8" y="305.20" width="2.3" height="6.66" fill="#203c76"/>
<rect x="281.8" y="311.56" width="2.3" height="6.66" fill="#203c77"/>
<rect x="281.8" y="317.93" width="2.3" height="6.66" fill="#1d3667"/>
<rect x="281.8" y="324.29" width="2.3" height="6.66" fill="#1f3b72"/>
<rect x="281.8" y="330.65" width="2.3" height="6.66" fill="#1f3b71"/>
<rect x="281.8" y="337.01" width="2.3" height="6.66" fill="#1f3b71"/>
<rect x="281.8" y="343.38" width="2.3" height="6.66" fill="#1e396c"/>
<rect x="281.8" y="349.74" width="2.3" height="8.36" fill="#1f396d"/>
<rect x="283.8" y="201.40" width="2.3" height="8.36" fill="#667abf"/>
<rect x="283.8" y="209.76" width="2.3" height="6.66" fill="#203c75"/>
<rect x="283.8" y="216.12" width="2.3" height="6.66" fill="#4162b5"/>
<rect x="283.8" y="222.49" width="2.3" height="6.66" fill="#284ba1"/>
<rect x="283.8" y="228.85" width="2.3" height="6.66" fill="#3057af"/>
<rect x="283.8" y="235.21" width="2.3" height="6.66" fill="#6e7fc1"/>
<rect x="283.8" y="241.58" width="2.3" height="6.66" fill="#e6d7e1"/>
<rect x="283.8" y="247.94" width="2.3" height="6.66" fill="#2a4ea5"/>
<rect x="283.8" y="254.30" width="2.3" height="6.66" fill="#8791c9"/>
<rect x="283.8" y="260.66" width="2.3" height="6.66" fill="#de7566"/>
<rect x="283.8" y="267.03" width="2.3" height="6.66" fill="#213e80"/>
<rect x="283.8" y="273.39" width="2.3" height="6.66" fill="#6d7ec1"/>
<rect x="283.8" y="279.75" width="2.3" height="6.66" fill="#213e7e"/>
<rect x="283.8" y="286.11" width="2.3" height="6.66" fill="#1e386b"/>
<rect x="283.8" y="292.48" width="2.3" height="6.66" fill="#203c76"/>
<rect x="283.8" y="305.20" width="2.3" height="6.66" fill="#22408a"/>
<rect x="283.8" y="311.56" width="2.3" height="6.66" fill="#213e7f"/>
<rect x="283.8" y="317.93" width="2.3" height="6.66" fill="#1e396c"/>
<rect x="283.8" y="324.29" width="2.3" height="6.66" fill="#203b74"/>
<rect x="283.8" y="337.01" width="2.3" height="6.66" fill="#1e386b"/>
<rect x="283.8" y="343.38" width="2.3" height="6.66" fill="#1e386c"/>
<rect x="283.8" y="349.74" width="2.3" height="8.36" fill="#203c78"/>
<rect x="285.8" y="201.40" width="2.3" height="8.36" fill="#2f56ae"/>
<rect x="285.8" y="209.76" width="2.3" height="6.66" fill="#234394"/>
<rect x="285.8" y="216.12" width="2.3" height="6.66" fill="#4465b6"/>
<rect x="285.8" y="222.49" width="2.3" height="6.66" fill="#22418b"/>
<rect x="285.8" y="228.85" width="2.3" height="6.66" fill="#556fba"/>
<rect x="285.8" y="235.21" width="2.3" height="6.66" fill="#687bbf"/>
<rect x="285.8" y="241.58" width="2.3" height="6.66" fill="#cbc3dd"/>
<rect x="285.8" y="247.94" width="2.3" height="6.66" fill="#203c77"/>
<rect x="285.8" y="254.30" width="2.3" height="6.66" fill="#7785c4"/>
<rect x="285.8" y="260.66" width="2.3" height="6.66" fill="#bbb7da"/>
<rect x="285.8" y="267.03" width="2.3" height="6.66" fill="#213e7e"/>
<rect x="285.8" y="273.39" width="2.3" height="6.66" fill="#6a7cc0"/>
<rect x="285.8" y="279.75" width="2.3" height="6.66" fill="#1f396d"/>
<rect x="285.8" y="286.11" width="2.3" height="6.66" fill="#203b73"/>
<rect x="285.8" y="292.48" width="2.3" height="6.66" fill="#213e7d"/>
<rect x="285.8" y="298.84" width="2.3" height="6.66" fill="#1f396d"/>
<rect x="285.8" y="305.20" width="2.3" height="6.66" fill="#203b73"/>
<rect x="285.8" y="311.56" width="2.3" height="6.66" fill="#213e80"/>
<rect x="285.8" y="317.93" width="2.3" height="6.66" fill="#1c3667"/>
<rect x="285.8" y="324.29" width="2.3" height="6.66" fill="#1e396d"/>
<rect x="285.8" y="337.01" width="2.3" height="6.66" fill="#203b73"/>
<rect x="285.8" y="343.38" width="2.3" height="6.66" fill="#1e396c"/>
<rect x="285.8" y="349.74" width="2.3" height="8.36" fill="#1d3668"/>
<rect x="287.8" y="201.40" width="2.3" height="8.36" fill="#5a72bc"/>
<rect x="287.8" y="209.76" width="2.3" height="6.66" fill="#224087"/>
<rect x="287.8" y="216.12" width="2.3" height="6.66" fill="#4968b7"/>
<rect x="287.8" y="222.49" width="2.3" height="6.66" fill="#3058b0"/>
<rect x="287.8" y="228.85" width="2.3" height="6.66" fill="#345bb1"/>
<rect x="287.8" y="235.21" width="2.3" height="6.66" fill="#d3cade"/>
<rect x="287.8" y="241.58" width="2.3" height="6.66" fill="#e7cbcf"/>
<rect x="287.8" y="247.94" width="2.3" height="6.66" fill="#395db2"/>
<rect x="287.8" y="254.30" width="2.3" height="6.66" fill="#e7d0d5"/>
<rect x="287.8" y="260.66" width="2.3" height="6.66" fill="#e8c3c2"/>
<rect x="287.8" y="267.03" width="2.3" height="6.66" fill="#213d7d"/>
<rect x="287.8" y="273.39" width="2.3" height="6.66" fill="#7383c3"/>
<rect x="287.8" y="279.75" width="2.3" height="6.66" fill="#203c77"/>
<rect x="287.8" y="286.11" width="2.3" height="6.66" fill="#1f3b71"/>
<rect x="287.8" y="292.48" width="2.3" height="6.66" fill="#23418e"/>
<rect x="287.8" y="305.20" width="2.3" height="6.66" fill="#213e80"/>
<rect x="287.8" y="311.56" width="2.3" height="6.66" fill="#213d7b"/>
<rect x="287.8" y="330.65" width="2.3" height="6.66" fill="#1d3769"/>
<rect x="287.8" y="337.01" width="2.3" height="6.66" fill="#1f3a6d"/>
<rect x="287.8" y="343.38" width="2.3" height="6.66" fill="#1e386c"/>
<rect x="289.8" y="201.40" width="2.3" height="8.36" fill="#284ba1"/>
<rect x="289.8" y="209.76" width="2.3" height="6.66" fill="#2b4fa6"/>
<rect x="289.8" y="216.12" width="2.3" height="6.66" fill="#2e54ab"/>
<rect x="289.8" y="222.49" width="2.3" height="6.66" fill="#203b74"/>
<rect x="289.8" y="228.85" width="2.3" height="6.66" fill="#7886c4"/>
<rect x="289.8" y="235.21" width="2.3" height="6.66" fill="#2e55ad"/>
<rect x="289.8" y="241.58" width="2.3" height="6.66" fill="#e8c2c0"/>
<rect x="289.8" y="247.94" width="2.3" height="6.66" fill="#4d6ab8"/>
<rect x="289.8" y="254.30" width="2.3" height="6.66" fill="#c2bddb"/>
<rect x="289.8" y="260.66" width="2.3" height="6.66" fill="#e28879"/>
<rect x="289.8" y="267.03" width="2.3" height="6.66" fill="#1f3b72"/>
<rect x="289.8" y="273.39" width="2.3" height="6.66" fill="#838ec8"/>
<rect x="289.8" y="279.75" width="2.3" height="6.66" fill="#203d7a"/>
<rect x="289.8" y="286.11" width="2.3" height="6.66" fill="#203b73"/>
<rect x="289.8" y="292.48" width="2.3" height="6.66" fill="#1f3b71"/>
<rect x="289.8" y="298.84" width="2.3" height="6.66" fill="#1f3a6f"/>
<rect x="289.8" y="305.20" width="2.3" height="6.66" fill="#213d7c"/>
<rect x="289.8" y="311.56" width="2.3" height="6.66" fill="#203b74"/>
<rect x="289.8" y="317.93" width="2.3" height="6.66" fill="#1e386b"/>
<rect x="289.8" y="330.65" width="2.3" height="6.66" fill="#1f3a70"/>
<rect x="289.8" y="337.01" width="2.3" height="6.66" fill="#1e396c"/>
<rect x="289.8" y="343.38" width="2.3" height="6.66" fill="#1e396c"/>
<rect x="289.8" y="349.74" width="2.3" height="8.36" fill="#203b73"/>
<rect x="291.8" y="201.40" width="2.3" height="8.36" fill="#4c69b8"/>
<rect x="291.8" y="209.76" width="2.3" height="6.66" fill="#234394"/>
<rect x="291.8" y="216.12" width="2.3" height="6.66" fill="#e7ced2"/>
<rect x="291.8" y="222.49" width="2.3" height="6.66" fill="#7785c4"/>
<rect x="291.8" y="228.85" width="2.3" height="6.66" fill="#e7c9cb"/>
<rect x="291.8" y="235.21" width="2.3" height="6.66" fill="#7282c2"/>
<rect x="291.8" y="241.58" width="2.3" height="6.66" fill="#e59a8c"/>
<rect x="291.8" y="247.94" width="2.3" height="6.66" fill="#6b7dc0"/>
<rect x="291.8" y="254.30" width="2.3" height="6.66" fill="#e59789"/>
<rect x="291.8" y="260.66" width="2.3" height="6.66" fill="#de7566"/>
<rect x="291.8" y="267.03" width="2.3" height="6.66" fill="#22408b"/>
<rect x="291.8" y="273.39" width="2.3" height="6.66" fill="#ddd1e0"/>
<rect x="291.8" y="279.75" width="2.3" height="6.66" fill="#203d7a"/>
<rect x="291.8" y="286.11" width="2.3" height="6.66" fill="#203c75"/>
<rect x="291.8" y="292.48" width="2.3" height="6.66" fill="#203d79"/>
<rect x="291.8" y="298.84" width="2.3" height="6.66" fill="#213e80"/>
<rect x="291.8" y="305.20" width="2.3" height="6.66" fill="#213e81"/>
<rect x="291.8" y="311.56" width="2.3" height="6.66" fill="#224086"/>
<rect x="291.8" y="317.93" width="2.3" height="6.66" fill="#203c78"/>
<rect x="291.8" y="324.29" width="2.3" height="6.66" fill="#1e386b"/>
<rect x="291.8" y="330.65" width="2.3" height="6.66" fill="#203d7b"/>
<rect x="291.8" y="337.01" width="2.3" height="6.66" fill="#203d7a"/>
<rect x="291.8" y="343.38" width="2.3" height="6.66" fill="#1f3b72"/>
<rect x="291.8" y="349.74" width="2.3" height="8.36" fill="#203b73"/>
<rect x="293.8" y="201.40" width="2.3" height="8.36" fill="#526db9"/>
<rect x="293.8" y="209.76" width="2.3" height="6.66" fill="#3058b0"/>
<rect x="293.8" y="216.12" width="2.3" height="6.66" fill="#7d8ac6"/>
<rect x="293.8" y="222.49" width="2.3" height="6.66" fill="#3e61b4"/>
<rect x="293.8" y="228.85" width="2.3" height="6.66" fill="#4263b5"/>
<rect x="293.8" y="235.21" width="2.3" height="6.66" fill="#5f75bd"/>
<rect x="293.8" y="241.58" width="2.3" height="6.66" fill="#e7d1d7"/>
<rect x="293.8" y="247.94" width="2.3" height="6.66" fill="#4163b5"/>
<rect x="293.8" y="254.30" width="2.3" height="6.66" fill="#e0d4e1"/>
<rect x="293.8" y="260.66" width="2.3" height="6.66" fill="#de7566"/>
<rect x="293.8" y="267.03" width="2.3" height="6.66" fill="#213e80"/>
<rect x="293.8" y="273.39" width="2.3" height="6.66" fill="#939acd"/>
<rect x="293.8" y="279.75" width="2.3" height="6.66" fill="#213e81"/>
<rect x="293.8" y="286.11" width="2.3" height="6.66" fill="#213e7e"/>
<rect x="293.8" y="292.48" width="2.3" height="6.66" fill="#203c77"/>
<rect x="293.8" y="298.84" width="2.3" height="6.66" fill="#1f3b71"/>
<rect x="293.8" y="305.20" width="2.3" height="6.66" fill="#223f84"/>
<rect x="293.8" y="311.56" width="2.3" height="6.66" fill="#213e81"/>
<rect x="293.8" y="317.93" width="2.3" height="6.66" fill="#1e386b"/>
<rect x="293.8" y="324.29" width="2.3" height="6.66" fill="#1f396d"/>
<rect x="293.8" y="330.65" width="2.3" height="6.66" fill="#1f3b71"/>
<rect x="293.8" y="337.01" width="2.3" height="6.66" fill="#1f3a70"/>
<rect x="293.8" y="343.38" width="2.3" height="6.66" fill="#1f3a6d"/>
<rect x="293.8" y="349.74" width="2.3" height="8.36" fill="#1e396c"/>
<rect x="295.8" y="201.40" width="2.3" height="8.36" fill="#5a72bc"/>
<rect x="295.8" y="209.76" width="2.3" height="6.66" fill="#4364b5"/>
<rect x="295.8" y="216.12" width="2.3" height="6.66" fill="#aaabd4"/>
<rect x="295.8" y="222.49" width="2.3" height="6.66" fill="#2b4fa6"/>
<rect x="295.8" y="228.85" width="2.3" height="6.66" fill="#506cb9"/>
<rect x="295.8" y="235.21" width="2.3" height="6.66" fill="#7a88c5"/>
<rect x="295.8" y="241.58" width="2.3" height="6.66" fill="#828ec8"/>
<rect x="295.8" y="247.94" width="2.3" height="6.66" fill="#677abf"/>
<rect x="295.8" y="254.30" width="2.3" height="6.66" fill="#e69e90"/>
<rect x="295.8" y="260.66" width="2.3" height="6.66" fill="#e59789"/>
<rect x="295.8" y="267.03" width="2.3" height="6.66" fill="#213e81"/>
<rect x="295.8" y="273.39" width="2.3" height="6.66" fill="#a8aad4"/>
<rect x="295.8" y="279.75" width="2.3" height="6.66" fill="#213e7e"/>
<rect x="295.8" y="286.11" width="2.3" height="6.66" fill="#203c75"/>
<rect x="295.8" y="292.48" width="2.3" height="6.66" fill="#223f85"/>
<rect x="295.8" y="305.20" width="2.3" height="6.66" fill="#213e80"/>
<rect x="295.8" y="311.56" width="2.3" height="6.66" fill="#203c79"/>
<rect x="295.8" y="317.93" width="2.3" height="6.66" fill="#203b73"/>
<rect x="295.8" y="324.29" width="2.3" height="6.66" fill="#1e396c"/>
<rect x="295.8" y="330.65" width="2.3" height="6.66" fill="#1f3a6f"/>
<rect x="295.8" y="337.01" width="2.3" height="6.66" fill="#1f3a6f"/>
<rect x="295.8" y="343.38" width="2.3" height="6.66" fill="#1e386b"/>
<rect x="295.8" y="349.74" width="2.3" height="8.36" fill="#1f396d"/>
<rect x="297.8" y="201.40" width="2.3" height="8.36" fill="#3057af"/>
<rect x="297.8" y="209.76" width="2.3" height="6.66" fill="#223f85"/>
<rect x="297.8" y="216.12" width="2.3" height="6.66" fill="#294ca3"/>
<rect x="297.8" y="222.49" width="2.3" height="6.66" fill="#203c78"/>
<rect x="297.8" y="228.85" width="2.3" height="6.66" fill="#2c51a8"/>
<rect x="297.8" y="235.21" width="2.3" height="6.66" fill="#3f61b4"/>
<rect x="297.8" y="241.58" width="2.3" height="6.66" fill="#7b88c5"/>
<rect x="297.8" y="247.94" width="2.3" height="6.66" fill="#2f56ae"/>
<rect x="297.8" y="254.30" width="2.3" height="6.66" fill="#c9c2dc"/>
<rect x="297.8" y="260.66" width="2.3" height="6.66" fill="#e2d5e1"/>
<rect x="297.8" y="267.03" width="2.3" height="6.66" fill="#1f396d"/>
<rect x="297.8" y="273.39" width="2.3" height="6.66" fill="#5b73bc"/>
<rect x="297.8" y="279.75" width="2.3" height="6.66" fill="#203c79"/>
<rect x="297.8" y="286.11" width="2.3" height="6.66" fill="#1f396d"/>
<rect x="297.8" y="292.48" width="2.3" height="6.66" fill="#213d7c"/>
<rect x="297.8" y="298.84" width="2.3" height="6.66" fill="#1f3b72"/>
<rect x="297.8" y="305.20" width="2.3" height="6.66" fill="#203c76"/>
<rect x="297.8" y="311.56" width="2.3" height="6.66" fill="#203b74"/>
<rect x="297.8" y="317.93" width="2.3" height="6.66" fill="#1f3b71"/>
<rect x="297.8" y="324.29" width="2.3" height="6.66" fill="#1e396c"/>
<rect x="297.8" y="330.65" width="2.3" height="6.66" fill="#1c3566"/>
<rect x="297.8" y="343.38" width="2.3" height="6.66" fill="#1c3667"/>
<rect x="297.8" y="349.74" width="2.3" height="8.36" fill="#1c3667"/>
<rect x="299.8" y="201.40" width="2.3" height="8.36" fill="#4464b6"/>
<rect x="299.8" y="209.76" width="2.3" height="6.66" fill="#2b50a8"/>
<rect x="299.8" y="216.12" width="2.3" height="6.66" fill="#2f57af"/>
<rect x="299.8" y="222.49" width="2.3" height="6.66" fill="#274aa0"/>
<rect x="299.8" y="228.85" width="2.3" height="6.66" fill="#5d74bc"/>
<rect x="299.8" y="235.21" width="2.3" height="6.66" fill="#26479d"/>
<rect x="299.8" y="241.58" width="2.3" height="6.66" fill="#9ea2d0"/>
<rect x="299.8" y="247.94" width="2.3" height="6.66" fill="#2a4ea5"/>
<rect x="299.8" y="254.30" width="2.3" height="6.66" fill="#6579bf"/>
<rect x="299.8" y="260.66" width="2.3" height="6.66" fill="#e9bcb6"/>
<rect x="299.8" y="267.03" width="2.3" height="6.66" fill="#203b73"/>
<rect x="299.8" y="273.39" width="2.3" height="6.66" fill="#5e75bd"/>
<rect x="299.8" y="279.75" width="2.3" height="6.66" fill="#203c75"/>
<rect x="299.8" y="286.11" width="2.3" height="6.66" fill="#203b74"/>
<rect x="299.8" y="292.48" width="2.3" height="6.66" fill="#1f396d"/>
<rect x="299.8" y="298.84" width="2.3" height="6.66" fill="#1e386b"/>
<rect x="299.8" y="305.20" width="2.3" height="6.66" fill="#1c3566"/>
<rect x="299.8" y="311.56" width="2.3" height="6.66" fill="#1f3b71"/>
<rect x="299.8" y="317.93" width="2.3" height="6.66" fill="#1f3a6f"/>
<rect x="299.8" y="324.29" width="2.3" height="6.66" fill="#1e386b"/>
<rect x="299.8" y="330.65" width="2.3" height="6.66" fill="#1e396d"/>
<rect x="299.8" y="337.01" width="2.3" height="6.66" fill="#1e396c"/>
<rect x="299.8" y="343.38" width="2.3" height="6.66" fill="#1c3667"/>
<rect x="299.8" y="349.74" width="2.3" height="8.36" fill="#1d3769"/>
<rect x="301.8" y="201.40" width="2.3" height="8.36" fill="#3e61b4"/>
<rect x="301.8" y="209.76" width="2.3" height="6.66" fill="#345ab1"/>
<rect x="301.8" y="216.12" width="2.3" height="6.66" fill="#3058b0"/>
<rect x="301.8" y="222.49" width="2.3" height="6.66" fill="#24459b"/>
<rect x="301.8" y="228.85" width="2.3" height="6.66" fill="#4766b6"/>
<rect x="301.8" y="235.21" width="2.3" height="6.66" fill="#4867b7"/>
<rect x="301.8" y="241.58" width="2.3" height="6.66" fill="#cac2dd"/>
<rect x="301.8" y="247.94" width="2.3" height="6.66" fill="#2f56ae"/>
<rect x="301.8" y="254.30" width="2.3" height="6.66" fill="#bfbadb"/>
<rect x="301.8" y="260.66" width="2.3" height="6.66" fill="#e8c8c9"/>
<rect x="301.8" y="267.03" width="2.3" height="6.66" fill="#213d7c"/>
<rect x="301.8" y="273.39" width="2.3" height="6.66" fill="#9fa3d1"/>
<rect x="301.8" y="279.75" width="2.3" height="6.66" fill="#213d7c"/>
<rect x="301.8" y="286.11" width="2.3" height="6.66" fill="#1f396d"/>
<rect x="301.8" y="292.48" width="2.3" height="6.66" fill="#203d7b"/>
<rect x="301.8" y="298.84" width="2.3" height="6.66" fill="#203b74"/>
<rect x="301.8" y="305.20" width="2.3" height="6.66" fill="#203d7a"/>
<rect x="301.8" y="311.56" width="2.3" height="6.66" fill="#213d7d"/>
<rect x="301.8" y="317.93" width="2.3" height="6.66" fill="#1e396c"/>
<rect x="301.8" y="324.29" width="2.3" height="6.66" fill="#1f3a6d"/>
<rect x="301.8" y="330.65" width="2.3" height="6.66" fill="#1e386a"/>
<rect x="301.8" y="343.38" width="2.3" height="6.66" fill="#203b73"/>
<rect x="303.8" y="201.40" width="2.3" height="8.36" fill="#bfbbdb"/>
<rect x="303.8" y="209.76" width="2.3" height="6.66" fill="#3f61b4"/>
<rect x="303.8" y="216.12" width="2.3" height="6.66" fill="#7987c5"/>
<rect x="303.8" y="222.49" width="2.3" height="6.66" fill="#234395"/>
<rect x="303.8" y="228.85" width="2.3" height="6.66" fill="#c7c1dc"/>
<rect x="303.8" y="235.21" width="2.3" height="6.66" fill="#b0afd6"/>
<rect x="303.8" y="241.58" width="2.3" height="6.66" fill="#7c89c6"/>
<rect x="303.8" y="247.94" width="2.3" height="6.66" fill="#949bcd"/>
<rect x="303.8" y="254.30" width="2.3" height="6.66" fill="#e49182"/>
<rect x="303.8" y="260.66" width="2.3" height="6.66" fill="#de7566"/>
<rect x="303.8" y="267.03" width="2.3" height="6.66" fill="#224087"/>
<rect x="303.8" y="273.39" width="2.3" height="6.66" fill="#7987c5"/>
<rect x="303.8" y="279.75" width="2.3" height="6.66" fill="#213e7f"/>
<rect x="303.8" y="286.11" width="2.3" height="6.66" fill="#1f3b71"/>
<rect x="303.8" y="292.48" width="2.3" height="6.66" fill="#224087"/>
<rect x="303.8" y="298.84" width="2.3" height="6.66" fill="#1f3b70"/>
<rect x="303.8" y="305.20" width="2.3" height="6.66" fill="#234293"/>
<rect x="303.8" y="311.56" width="2.3" height="6.66" fill="#203d7a"/>
<rect x="303.8" y="317.93" width="2.3" height="6.66" fill="#203b73"/>
<rect x="303.8" y="324.29" width="2.3" height="6.66" fill="#203c76"/>
<rect x="303.8" y="330.65" width="2.3" height="6.66" fill="#1f3a70"/>
<rect x="303.8" y="343.38" width="2.3" height="6.66" fill="#1e396c"/>
<rect x="303.8" y="349.74" width="2.3" height="8.36" fill="#203c76"/>
<rect x="305.8" y="201.40" width="2.3" height="8.36" fill="#8690c9"/>
<rect x="305.8" y="209.76" width="2.3" height="6.66" fill="#526db9"/>
<rect x="305.8" y="216.12" width="2.3" height="6.66" fill="#4665b6"/>
<rect x="305.8" y="222.49" width="2.3" height="6.66" fill="#536eba"/>
<rect x="305.8" y="228.85" width="2.3" height="6.66" fill="#8892c9"/>
<rect x="305.8" y="235.21" width="2.3" height="6.66" fill="#aeaed6"/>
<rect x="305.8" y="241.58" width="2.3" height="6.66" fill="#e7d2d9"/>
<rect x="305.8" y="247.94" width="2.3" height="6.66" fill="#2b4fa6"/>
<rect x="305.8" y="254.30" width="2.3" height="6.66" fill="#e1d4e1"/>
<rect x="305.8" y="260.66" width="2.3" height="6.66" fill="#df7d6d"/>
<rect x="305.8" y="267.03" width="2.3" height="6.66" fill="#203d7a"/>
<rect x="305.8" y="273.39" width="2.3" height="6.66" fill="#7181c2"/>
<rect x="305.8" y="279.75" width="2.3" height="6.66" fill="#213d7c"/>
<rect x="305.8" y="286.11" width="2.3" height="6.66" fill="#203b74"/>
<rect x="305.8" y="292.48" width="2.3" height="6.66" fill="#213f84"/>
<rect x="305.8" y="298.84" width="2.3" height="6.66" fill="#1e396d"/>
<rect x="305.8" y="305.20" width="2.3" height="6.66" fill="#203d7a"/>
<rect x="305.8" y="311.56" width="2.3" height="6.66" fill="#203c79"/>
<rect x="305.8" y="317.93" width="2.3" height="6.66" fill="#1f396d"/>
<rect x="305.8" y="324.29" width="2.3" height="6.66" fill="#1e386c"/>
<rect x="305.8" y="330.65" width="2.3" height="6.66" fill="#1d3769"/>
<rect x="305.8" y="337.01" width="2.3" height="6.66" fill="#1e396c"/>
<rect x="305.8" y="343.38" width="2.3" height="6.66" fill="#1d376a"/>
<rect x="305.8" y="349.74" width="2.3" height="8.36" fill="#203b74"/>
<rect x="307.8" y="201.40" width="2.3" height="8.36" fill="#3259b1"/>
<rect x="307.8" y="209.76" width="2.3" height="6.66" fill="#2a4ea5"/>
<rect x="307.8" y="216.12" width="2.3" height="6.66" fill="#8f97cc"/>
<rect x="307.8" y="222.49" width="2.3" height="6.66" fill="#2b50a7"/>
<rect x="307.8" y="228.85" width="2.3" height="6.66" fill="#e0d3e1"/>
<rect x="307.8" y="235.21" width="2.3" height="6.66" fill="#9a9fcf"/>
<rect x="307.8" y="241.58" width="2.3" height="6.66" fill="#a2a5d2"/>
<rect x="307.8" y="247.94" width="2.3" height="6.66" fill="#7484c3"/>
<rect x="307.8" y="254.30" width="2.3" height="6.66" fill="#e8c8ca"/>
<rect x="307.8" y="260.66" width="2.3" height="6.66" fill="#de7566"/>
<rect x="307.8" y="267.03" width="2.3" height="6.66" fill="#203d7a"/>
<rect x="307.8" y="273.39" width="2.3" height="6.66" fill="#7282c3"/>
<rect x="307.8" y="279.75" width="2.3" height="6.66" fill="#213e7f"/>
<rect x="307.8" y="286.11" width="2.3" height="6.66" fill="#1f3a6f"/>
<rect x="307.8" y="292.48" width="2.3" height="6.66" fill="#223f85"/>
<rect x="307.8" y="298.84" width="2.3" height="6.66" fill="#203d7a"/>
<rect x="307.8" y="305.20" width="2.3" height="6.66" fill="#234290"/>
<rect x="307.8" y="311.56" width="2.3" height="6.66" fill="#213e82"/>
<rect x="307.8" y="317.93" width="2.3" height="6.66" fill="#1f3a6f"/>
<rect x="307.8" y="324.29" width="2.3" height="6.66" fill="#203c77"/>
<rect x="307.8" y="330.65" width="2.3" height="6.66" fill="#203c76"/>
<rect x="307.8" y="343.38" width="2.3" height="6.66" fill="#1f3a6d"/>
<rect x="307.8" y="349.74" width="2.3" height="8.36" fill="#1e396d"/>
<rect x="309.8" y="201.40" width="2.3" height="8.36" fill="#294ca3"/>
<rect x="309.8" y="209.76" width="2.3" height="6.66" fill="#203c78"/>
<rect x="309.8" y="216.12" width="2.3" height="6.66" fill="#2f57af"/>
<rect x="309.8" y="222.49" width="2.3" height="6.66" fill="#244397"/>
<rect x="309.8" y="228.85" width="2.3" height="6.66" fill="#234292"/>
<rect x="309.8" y="235.21" width="2.3" height="6.66" fill="#375db2"/>
<rect x="309.8" y="241.58" width="2.3" height="6.66" fill="#7987c5"/>
<rect x="309.8" y="247.94" width="2.3" height="6.66" fill="#213e81"/>
<rect x="309.8" y="254.30" width="2.3" height="6.66" fill="#8a94ca"/>
<rect x="309.8" y="260.66" width="2.3" height="6.66" fill="#e9b8b1"/>
<rect x="309.8" y="267.03" width="2.3" height="6.66" fill="#1f3b72"/>
<rect x="309.8" y="273.39" width="2.3" height="6.66" fill="#4d6ab8"/>
<rect x="309.8" y="279.75" width="2.3" height="6.66" fill="#1f3a70"/>
<rect x="309.8" y="286.11" width="2.3" height="6.66" fill="#1e396c"/>
<rect x="309.8" y="292.48" width="2.3" height="6.66" fill="#1c3567"/>
<rect x="309.8" y="298.84" width="2.3" height="6.66" fill="#1e386b"/>
<rect x="309.8" y="305.20" width="2.3" height="6.66" fill="#1c3566"/>
<rect x="309.8" y="317.93" width="2.3" height="6.66" fill="#1d376a"/>
<rect x="309.8" y="324.29" width="2.3" height="6.66" fill="#1e396c"/>
<rect x="309.8" y="330.65" width="2.3" height="6.66" fill="#1d3667"/>
<rect x="309.8" y="337.01" width="2.3" height="6.66" fill="#1d3769"/>
<rect x="309.8" y="343.38" width="2.3" height="6.66" fill="#1e386a"/>
<rect x="309.8" y="349.74" width="2.3" height="8.36" fill="#1d3668"/>
<rect x="311.8" y="201.40" width="2.3" height="8.36" fill="#6f80c2"/>
<rect x="311.8" y="209.76" width="2.3" height="6.66" fill="#3057af"/>
<rect x="311.8" y="216.12" width="2.3" height="6.66" fill="#335ab1"/>
<rect x="311.8" y="222.49" width="2.3" height="6.66" fill="#22418c"/>
<rect x="311.8" y="228.85" width="2.3" height="6.66" fill="#8c95cb"/>
<rect x="311.8" y="235.21" width="2.3" height="6.66" fill="#5971bb"/>
<rect x="311.8" y="241.58" width="2.3" height="6.66" fill="#e6d3db"/>
<rect x="311.8" y="247.94" width="2.3" height="6.66" fill="#4263b5"/>
<rect x="311.8" y="254.30" width="2.3" height="6.66" fill="#dbd0e0"/>
<rect x="311.8" y="260.66" width="2.3" height="6.66" fill="#e8bfbb"/>
<rect x="311.8" y="267.03" width="2.3" height="6.66" fill="#203d79"/>
<rect x="311.8" y="273.39" width="2.3" height="6.66" fill="#9da2d0"/>
<rect x="311.8" y="279.75" width="2.3" height="6.66" fill="#1f3b72"/>
<rect x="311.8" y="286.11" width="2.3" height="6.66" fill="#203d79"/>
<rect x="311.8" y="292.48" width="2.3" height="6.66" fill="#203d7a"/>
<rect x="311.8" y="305.20" width="2.3" height="6.66" fill="#213e7e"/>
<rect x="311.8" y="311.56" width="2.3" height="6.66" fill="#213d7d"/>
<rect x="311.8" y="317.93" width="2.3" height="6.66" fill="#1e396c"/>
<rect x="311.8" y="337.01" width="2.3" height="6.66" fill="#1f3a70"/>
<rect x="313.8" y="201.40" width="2.3" height="8.36" fill="#294ca3"/>
<rect x="313.8" y="209.76" width="2.3" height="6.66" fill="#284ba2"/>
<rect x="313.8" y="216.12" width="2.3" height="6.66" fill="#9da2d0"/>
<rect x="313.8" y="222.49" width="2.3" height="6.66" fill="#3f61b4"/>
<rect x="313.8" y="228.85" width="2.3" height="6.66" fill="#5871bb"/>
<rect x="313.8" y="235.21" width="2.3" height="6.66" fill="#7181c2"/>
<rect x="313.8" y="241.58" width="2.3" height="6.66" fill="#bdb9da"/>
<rect x="313.8" y="247.94" width="2.3" height="6.66" fill="#284ba2"/>
<rect x="313.8" y="254.30" width="2.3" height="6.66" fill="#e9ab9f"/>
<rect x="313.8" y="260.66" width="2.3" height="6.66" fill="#de7566"/>
<rect x="313.8" y="267.03" width="2.3" height="6.66" fill="#213e7f"/>
<rect x="313.8" y="273.39" width="2.3" height="6.66" fill="#8b94cb"/>
<rect x="313.8" y="279.75" width="2.3" height="6.66" fill="#224087"/>
<rect x="313.8" y="286.11" width="2.3" height="6.66" fill="#1f3a70"/>
<rect x="313.8" y="292.48" width="2.3" height="6.66" fill="#213e7d"/>
<rect x="313.8" y="298.84" width="2.3" height="6.66" fill="#1f3b72"/>
<rect x="313.8" y="305.20" width="2.3" height="6.66" fill="#224088"/>
<rect x="313.8" y="311.56" width="2.3" height="6.66" fill="#203c78"/>
<rect x="313.8" y="317.93" width="2.3" height="6.66" fill="#1e386b"/>
<rect x="313.8" y="324.29" width="2.3" height="6.66" fill="#1f3b72"/>
<rect x="313.8" y="330.65" width="2.3" height="6.66" fill="#1f396d"/>
<rect x="313.8" y="337.01" width="2.3" height="6.66" fill="#1f3b71"/>
<rect x="313.8" y="343.38" width="2.3" height="6.66" fill="#203b73"/>
<rect x="313.8" y="349.74" width="2.3" height="8.36" fill="#1f3b72"/>
<rect x="315.8" y="201.40" width="2.3" height="8.36" fill="#3b5fb3"/>
<rect x="315.8" y="209.76" width="2.3" height="6.66" fill="#22418c"/>
<rect x="315.8" y="216.12" width="2.3" height="6.66" fill="#2d53aa"/>
<rect x="315.8" y="222.49" width="2.3" height="6.66" fill="#1c3566"/>
<rect x="315.8" y="228.85" width="2.3" height="6.66" fill="#4f6bb9"/>
<rect x="315.8" y="235.21" width="2.3" height="6.66" fill="#27489f"/>
<rect x="315.8" y="241.58" width="2.3" height="6.66" fill="#7584c3"/>
<rect x="315.8" y="247.94" width="2.3" height="6.66" fill="#2e55ac"/>
<rect x="315.8" y="254.30" width="2.3" height="6.66" fill="#4364b5"/>
<rect x="315.8" y="260.66" width="2.3" height="6.66" fill="#e8c2bf"/>
<rect x="315.8" y="267.03" width="2.3" height="6.66" fill="#1f3a70"/>
<rect x="315.8" y="273.39" width="2.3" height="6.66" fill="#546eba"/>
<rect x="315.8" y="279.75" width="2.3" height="6.66" fill="#1e396d"/>
<rect x="315.8" y="286.11" width="2.3" height="6.66" fill="#1d3668"/>
<rect x="315.8" y="292.48" width="2.3" height="6.66" fill="#1f396d"/>
<rect x="315.8" y="298.84" width="2.3" height="6.66" fill="#203b73"/>
<rect x="315.8" y="305.20" width="2.3" height="6.66" fill="#1f3a70"/>
<rect x="315.8" y="311.56" width="2.3" height="6.66" fill="#203b74"/>
<rect x="315.8" y="317.93" width="2.3" height="6.66" fill="#1e386a"/>
<rect x="315.8" y="337.01" width="2.3" height="6.66" fill="#1d3769"/>
<rect x="315.8" y="343.38" width="2.3" height="6.66" fill="#1d3668"/>
<rect x="317.8" y="201.40" width="2.3" height="8.36" fill="#4162b5"/>
<rect x="317.8" y="209.76" width="2.3" height="6.66" fill="#2f56ad"/>
<rect x="317.8" y="216.12" width="2.3" height="6.66" fill="#a5a7d3"/>
<rect x="317.8" y="222.49" width="2.3" height="6.66" fill="#244396"/>
<rect x="317.8" y="228.85" width="2.3" height="6.66" fill="#4d6ab8"/>
<rect x="317.8" y="235.21" width="2.3" height="6.66" fill="#365cb2"/>
<rect x="317.8" y="241.58" width="2.3" height="6.66" fill="#e9bab3"/>
<rect x="317.8" y="247.94" width="2.3" height="6.66" fill="#2e54ab"/>
<rect x="317.8" y="254.30" width="2.3" height="6.66" fill="#eab4aa"/>
<rect x="317.8" y="260.66" width="2.3" height="6.66" fill="#e6d8e2"/>
<rect x="317.8" y="267.03" width="2.3" height="6.66" fill="#213e7f"/>
<rect x="317.8" y="273.39" width="2.3" height="6.66" fill="#5f75bd"/>
<rect x="317.8" y="279.75" width="2.3" height="6.66" fill="#203d7a"/>
<rect x="317.8" y="286.11" width="2.3" height="6.66" fill="#1f396d"/>
<rect x="317.8" y="292.48" width="2.3" height="6.66" fill="#203b74"/>
<rect x="317.8" y="298.84" width="2.3" height="6.66" fill="#203b73"/>
<rect x="317.8" y="305.20" width="2.3" height="6.66" fill="#203b73"/>
<rect x="317.8" y="311.56" width="2.3" height="6.66" fill="#203d7a"/>
<rect x="317.8" y="317.93" width="2.3" height="6.66" fill="#1f3a6f"/>
<rect x="317.8" y="324.29" width="2.3" height="6.66" fill="#1e396c"/>
<rect x="317.8" y="330.65" width="2.3" height="6.66" fill="#1f3a6f"/>
<rect x="317.8" y="337.01" width="2.3" height="6.66" fill="#1f3a6d"/>
<rect x="317.8" y="343.38" width="2.3" height="6.66" fill="#1f3b71"/>
<rect x="317.8" y="349.74" width="2.3" height="8.36" fill="#1e396c"/>
<rect x="319.8" y="201.40" width="2.3" height="8.36" fill="#506cb9"/>
<rect x="319.8" y="209.76" width="2.3" height="6.66" fill="#294da4"/>
<rect x="319.8" y="216.12" width="2.3" height="6.66" fill="#afafd6"/>
<rect x="319.8" y="222.49" width="2.3" height="6.66" fill="#2b50a7"/>
<rect x="319.8" y="228.85" width="2.3" height="6.66" fill="#3058b0"/>
<rect x="319.8" y="235.21" width="2.3" height="6.66" fill="#395eb3"/>
<rect x="319.8" y="241.58" width="2.3" height="6.66" fill="#cec5dd"/>
<rect x="319.8" y="247.94" width="2.3" height="6.66" fill="#2a4fa6"/>
<rect x="319.8" y="254.30" width="2.3" height="6.66" fill="#bcb8da"/>
<rect x="319.8" y="260.66" width="2.3" height="6.66" fill="#e8c1bf"/>
<rect x="319.8" y="267.03" width="2.3" height="6.66" fill="#213e7f"/>
<rect x="319.8" y="273.39" width="2.3" height="6.66" fill="#4d6ab8"/>
<rect x="319.8" y="279.75" width="2.3" height="6.66" fill="#213d7c"/>
<rect x="319.8" y="286.11" width="2.3" height="6.66" fill="#1f3a70"/>
<rect x="319.8" y="292.48" width="2.3" height="6.66" fill="#223f85"/>
<rect x="319.8" y="298.84" width="2.3" height="6.66" fill="#1e386a"/>
<rect x="319.8" y="305.20" width="2.3" height="6.66" fill="#203d7a"/>
<rect x="319.8" y="311.56" width="2.3" height="6.66" fill="#203d7a"/>
<rect x="319.8" y="317.93" width="2.3" height="6.66" fill="#1f396d"/>
<rect x="319.8" y="330.65" width="2.3" height="6.66" fill="#203c76"/>
<rect x="319.8" y="349.74" width="2.3" height="8.36" fill="#1d376a"/>
<rect x="321.8" y="201.40" width="2.3" height="8.36" fill="#536eba"/>
<rect x="321.8" y="209.76" width="2.3" height="6.66" fill="#203c79"/>
<rect x="321.8" y="216.12" width="2.3" height="6.66" fill="#3d60b4"/>
<rect x="321.8" y="222.49" width="2.3" height="6.66" fill="#284ba2"/>
<rect x="321.8" y="228.85" width="2.3" height="6.66" fill="#9a9fcf"/>
<rect x="321.8" y="235.21" width="2.3" height="6.66" fill="#959cce"/>
<rect x="321.8" y="241.58" width="2.3" height="6.66" fill="#c7c0dc"/>
<rect x="321.8" y="247.94" width="2.3" height="6.66" fill="#355bb1"/>
<rect x="321.8" y="254.30" width="2.3" height="6.66" fill="#c8c1dc"/>
<rect x="321.8" y="260.66" width="2.3" height="6.66" fill="#e9bab4"/>
<rect x="321.8" y="267.03" width="2.3" height="6.66" fill="#203c78"/>
<rect x="321.8" y="273.39" width="2.3" height="6.66" fill="#7785c4"/>
<rect x="321.8" y="279.75" width="2.3" height="6.66" fill="#203c77"/>
<rect x="321.8" y="286.11" width="2.3" height="6.66" fill="#1e396c"/>
<rect x="321.8" y="292.48" width="2.3" height="6.66" fill="#1d376a"/>
<rect x="321.8" y="298.84" width="2.3" height="6.66" fill="#203c79"/>
<rect x="321.8" y="305.20" width="2.3" height="6.66" fill="#1c3566"/>
<rect x="321.8" y="311.56" width="2.3" height="6.66" fill="#203c78"/>
<rect x="321.8" y="317.93" width="2.3" height="6.66" fill="#1e386b"/>
<rect x="321.8" y="324.29" width="2.3" height="6.66" fill="#1e386b"/>
<rect x="321.8" y="330.65" width="2.3" height="6.66" fill="#1d376a"/>
<rect x="321.8" y="337.01" width="2.3" height="6.66" fill="#1f396d"/>
<rect x="321.8" y="343.38" width="2.3" height="6.66" fill="#1e396c"/>
<rect x="321.8" y="349.74" width="2.3" height="8.36" fill="#1d376a"/>
<rect x="323.8" y="201.40" width="2.3" height="8.36" fill="#26479d"/>
<rect x="323.8" y="209.76" width="2.3" height="6.66" fill="#1c3566"/>
<rect x="323.8" y="216.12" width="2.3" height="6.66" fill="#2e54ac"/>
<rect x="323.8" y="222.49" width="2.3" height="6.66" fill="#2c51a8"/>
<rect x="323.8" y="228.85" width="2.3" height="6.66" fill="#5f75bd"/>
<rect x="323.8" y="235.21" width="2.3" height="6.66" fill="#566fba"/>
<rect x="323.8" y="241.58" width="2.3" height="6.66" fill="#6b7dc0"/>
<rect x="323.8" y="247.94" width="2.3" height="6.66" fill="#234291"/>
<rect x="323.8" y="254.30" width="2.3" height="6.66" fill="#afaed6"/>
<rect x="323.8" y="260.66" width="2.3" height="6.66" fill="#e9aa9d"/>
<rect x="323.8" y="267.03" width="2.3" height="6.66" fill="#203b73"/>
<rect x="323.8" y="273.39" width="2.3" height="6.66" fill="#506cb9"/>
<rect x="323.8" y="279.75" width="2.3" height="6.66" fill="#1f396d"/>
<rect x="323.8" y="286.11" width="2.3" height="6.66" fill="#1e396c"/>
<rect x="323.8" y="292.48" width="2.3" height="6.66" fill="#1e386b"/>
<rect x="323.8" y="298.84" width="2.3" height="6.66" fill="#1d3769"/>
<rect x="323.8" y="305.20" width="2.3" height="6.66" fill="#1c3566"/>
<rect x="323.8" y="311.56" width="2.3" height="6.66" fill="#203b73"/>
<rect x="323.8" y="317.93" width="2.3" height="6.66" fill="#1e386a"/>
<rect x="323.8" y="324.29" width="2.3" height="6.66" fill="#1d3668"/>
<rect x="323.8" y="330.65" width="2.3" height="6.66" fill="#1e386b"/>
<rect x="323.8" y="337.01" width="2.3" height="6.66" fill="#1d3768"/>
<rect x="323.8" y="343.38" width="2.3" height="6.66" fill="#1d376a"/>
<rect x="323.8" y="349.74" width="2.3" height="8.36" fill="#1f396d"/>
<rect x="325.8" y="201.40" width="2.3" height="8.36" fill="#294ca3"/>
<rect x="325.8" y="209.76" width="2.3" height="6.66" fill="#22418c"/>
<rect x="325.8" y="216.12" width="2.3" height="6.66" fill="#2d52aa"/>
<rect x="325.8" y="222.49" width="2.3" height="6.66" fill="#213f84"/>
<rect x="325.8" y="228.85" width="2.3" height="6.66" fill="#4364b5"/>
<rect x="325.8" y="235.21" width="2.3" height="6.66" fill="#27499f"/>
<rect x="325.8" y="241.58" width="2.3" height="6.66" fill="#a8a9d4"/>
<rect x="325.8" y="247.94" width="2.3" height="6.66" fill="#203c79"/>
<rect x="325.8" y="254.30" width="2.3" height="6.66" fill="#838ec8"/>
<rect x="325.8" y="260.66" width="2.3" height="6.66" fill="#eab5ac"/>
<rect x="325.8" y="267.03" width="2.3" height="6.66" fill="#1f396d"/>
<rect x="325.8" y="273.39" width="2.3" height="6.66" fill="#7484c3"/>
<rect x="325.8" y="279.75" width="2.3" height="6.66" fill="#213e7f"/>
<rect x="325.8" y="286.11" width="2.3" height="6.66" fill="#1f3b72"/>
<rect x="325.8" y="292.48" width="2.3" height="6.66" fill="#1f3b71"/>
<rect x="325.8" y="298.84" width="2.3" height="6.66" fill="#1e396c"/>
<rect x="325.8" y="305.20" width="2.3" height="6.66" fill="#1e386b"/>
<rect x="325.8" y="311.56" width="2.3" height="6.66" fill="#213e81"/>
<rect x="325.8" y="317.93" width="2.3" height="6.66" fill="#1d3668"/>
<rect x="325.8" y="324.29" width="2.3" height="6.66" fill="#1e386a"/>
<rect x="325.8" y="330.65" width="2.3" height="6.66" fill="#1e396c"/>
<rect x="325.8" y="337.01" width="2.3" height="6.66" fill="#1d3769"/>
<rect x="325.8" y="343.38" width="2.3" height="6.66" fill="#1d3668"/>
<rect x="325.8" y="349.74" width="2.3" height="8.36" fill="#1e386b"/>
<rect x="327.8" y="201.40" width="2.3" height="8.36" fill="#6679bf"/>
<rect x="327.8" y="209.76" width="2.3" height="6.66" fill="#224088"/>
<rect x="327.8" y="216.12" width="2.3" height="6.66" fill="#566fba"/>
<rect x="327.8" y="222.49" width="2.3" height="6.66" fill="#24449a"/>
<rect x="327.8" y="228.85" width="2.3" height="6.66" fill="#8a93ca"/>
<rect x="327.8" y="235.21" width="2.3" height="6.66" fill="#e6d8e2"/>
<rect x="327.8" y="241.58" width="2.3" height="6.66" fill="#5d74bc"/>
<rect x="327.8" y="247.94" width="2.3" height="6.66" fill="#213d7d"/>
<rect x="327.8" y="254.30" width="2.3" height="6.66" fill="#9ea2d0"/>
<rect x="327.8" y="260.66" width="2.3" height="6.66" fill="#e2d5e1"/>
<rect x="327.8" y="267.03" width="2.3" height="6.66" fill="#1f3b71"/>
<rect x="327.8" y="273.39" width="2.3" height="6.66" fill="#7e8ac6"/>
<rect x="327.8" y="279.75" width="2.3" height="6.66" fill="#213e7f"/>
<rect x="327.8" y="286.11" width="2.3" height="6.66" fill="#203d7a"/>
<rect x="327.8" y="292.48" width="2.3" height="6.66" fill="#1f3a6f"/>
<rect x="327.8" y="298.84" width="2.3" height="6.66" fill="#213e7f"/>
<rect x="327.8" y="305.20" width="2.3" height="6.66" fill="#213f84"/>
<rect x="327.8" y="311.56" width="2.3" height="6.66" fill="#213e80"/>
<rect x="327.8" y="317.93" width="2.3" height="6.66" fill="#1f396d"/>
<rect x="327.8" y="324.29" width="2.3" height="6.66" fill="#203c79"/>
<rect x="327.8" y="330.65" width="2.3" height="6.66" fill="#1f3b71"/>
<rect x="327.8" y="337.01" width="2.3" height="6.66" fill="#1f396d"/>
<rect x="327.8" y="343.38" width="2.3" height="6.66" fill="#1f3b72"/>
<rect x="327.8" y="349.74" width="2.3" height="8.36" fill="#203b73"/>
<rect x="329.8" y="201.40" width="2.3" height="8.36" fill="#6378be"/>
<rect x="329.8" y="209.76" width="2.3" height="6.66" fill="#8993ca"/>
<rect x="329.8" y="216.12" width="2.3" height="6.66" fill="#cbc3dd"/>
<rect x="329.8" y="222.49" width="2.3" height="6.66" fill="#5971bb"/>
<rect x="329.8" y="228.85" width="2.3" height="6.66" fill="#e8c0bc"/>
<rect x="329.8" y="235.21" width="2.3" height="6.66" fill="#da5a4f"/>
<rect x="329.8" y="241.58" width="2.3" height="6.66" fill="#4c69b8"/>
<rect x="329.8" y="247.94" width="2.3" height="6.66" fill="#284ba2"/>
<rect x="329.8" y="254.30" width="2.3" height="6.66" fill="#e6d7e1"/>
<rect x="329.8" y="260.66" width="2.3" height="6.66" fill="#eaaea2"/>
<rect x="329.8" y="267.03" width="2.3" height="6.66" fill="#1f3b71"/>
<rect x="329.8" y="273.39" width="2.3" height="6.66" fill="#bcb8da"/>
<rect x="329.8" y="279.75" width="2.3" height="6.66" fill="#224089"/>
<rect x="329.8" y="286.11" width="2.3" height="6.66" fill="#203c75"/>
<rect x="329.8" y="292.48" width="2.3" height="6.66" fill="#224089"/>
<rect x="329.8" y="298.84" width="2.3" height="6.66" fill="#213e81"/>
<rect x="329.8" y="305.20" width="2.3" height="6.66" fill="#223f86"/>
<rect x="329.8" y="311.56" width="2.3" height="6.66" fill="#213d7d"/>
<rect x="329.8" y="317.93" width="2.3" height="6.66" fill="#203b74"/>
<rect x="329.8" y="324.29" width="2.3" height="6.66" fill="#203c79"/>
<rect x="329.8" y="330.65" width="2.3" height="6.66" fill="#203d79"/>
<rect x="329.8" y="337.01" width="2.3" height="6.66" fill="#203b74"/>
<rect x="329.8" y="343.38" width="2.3" height="6.66" fill="#203c75"/>
<rect x="329.8" y="349.74" width="2.3" height="8.36" fill="#1e396c"/>
<rect x="331.8" y="201.40" width="2.3" height="8.36" fill="#2b4fa6"/>
<rect x="331.8" y="209.76" width="2.3" height="6.66" fill="#2d53ab"/>
<rect x="331.8" y="216.12" width="2.3" height="6.66" fill="#4f6bb8"/>
<rect x="331.8" y="222.49" width="2.3" height="6.66" fill="#2b4fa6"/>
<rect x="331.8" y="228.85" width="2.3" height="6.66" fill="#5972bb"/>
<rect x="331.8" y="235.21" width="2.3" height="6.66" fill="#8791c9"/>
<rect x="331.8" y="241.58" width="2.3" height="6.66" fill="#2e54ac"/>
<rect x="331.8" y="247.94" width="2.3" height="6.66" fill="#1c3566"/>
<rect x="331.8" y="254.30" width="2.3" height="6.66" fill="#4666b6"/>
<rect x="331.8" y="260.66" width="2.3" height="6.66" fill="#eab1a5"/>
<rect x="331.8" y="267.03" width="2.3" height="6.66" fill="#203d7b"/>
<rect x="331.8" y="273.39" width="2.3" height="6.66" fill="#506cb9"/>
<rect x="331.8" y="279.75" width="2.3" height="6.66" fill="#213f82"/>
<rect x="331.8" y="286.11" width="2.3" height="6.66" fill="#223f85"/>
<rect x="331.8" y="292.48" width="2.3" height="6.66" fill="#244398"/>
<rect x="331.8" y="298.84" width="2.3" height="6.66" fill="#203b73"/>
<rect x="331.8" y="305.20" width="2.3" height="6.66" fill="#203c79"/>
<rect x="331.8" y="317.93" width="2.3" height="6.66" fill="#1e396c"/>
<rect x="331.8" y="324.29" width="2.3" height="6.66" fill="#1e386a"/>
<rect x="331.8" y="330.65" width="2.3" height="6.66" fill="#1e396c"/>
<rect x="331.8" y="337.01" width="2.3" height="6.66" fill="#1f3a70"/>
<rect x="331.8" y="343.38" width="2.3" height="6.66" fill="#1f396d"/>
<rect x="331.8" y="349.74" width="2.3" height="8.36" fill="#1f396d"/>
<rect x="333.8" y="201.40" width="2.3" height="8.36" fill="#4b69b7"/>
<rect x="333.8" y="209.76" width="2.3" height="6.66" fill="#9fa3d1"/>
<rect x="333.8" y="216.12" width="2.3" height="6.66" fill="#b5b3d8"/>
<rect x="333.8" y="222.49" width="2.3" height="6.66" fill="#284aa1"/>
<rect x="333.8" y="228.85" width="2.3" height="6.66" fill="#e6d6df"/>
<rect x="333.8" y="235.21" width="2.3" height="6.66" fill="#e39082"/>
<rect x="333.8" y="241.58" width="2.3" height="6.66" fill="#2e54ac"/>
<rect x="333.8" y="247.94" width="2.3" height="6.66" fill="#4b69b8"/>
<rect x="333.8" y="254.30" width="2.3" height="6.66" fill="#8d96cb"/>
<rect x="333.8" y="260.66" width="2.3" height="6.66" fill="#de7566"/>
<rect x="333.8" y="267.03" width="2.3" height="6.66" fill="#224086"/>
<rect x="333.8" y="273.39" width="2.3" height="6.66" fill="#828dc8"/>
<rect x="333.8" y="279.75" width="2.3" height="6.66" fill="#213f82"/>
<rect x="333.8" y="286.11" width="2.3" height="6.66" fill="#203d79"/>
<rect x="333.8" y="292.48" width="2.3" height="6.66" fill="#22418b"/>
<rect x="333.8" y="298.84" width="2.3" height="6.66" fill="#224087"/>
<rect x="333.8" y="305.20" width="2.3" height="6.66" fill="#234394"/>
<rect x="333.8" y="311.56" width="2.3" height="6.66" fill="#213f82"/>
<rect x="333.8" y="317.93" width="2.3" height="6.66" fill="#1f3b72"/>
<rect x="333.8" y="324.29" width="2.3" height="6.66" fill="#203c75"/>
<rect x="333.8" y="330.65" width="2.3" height="6.66" fill="#203d79"/>
<rect x="333.8" y="337.01" width="2.3" height="6.66" fill="#1e386b"/>
<rect x="333.8" y="343.38" width="2.3" height="6.66" fill="#203b73"/>
<rect x="333.8" y="349.74" width="2.3" height="8.36" fill="#203c76"/>
<rect x="335.8" y="201.40" width="2.3" height="8.36" fill="#284aa1"/>
<rect x="335.8" y="209.76" width="2.3" height="6.66" fill="#234293"/>
<rect x="335.8" y="216.12" width="2.3" height="6.66" fill="#4062b4"/>
<rect x="335.8" y="222.49" width="2.3" height="6.66" fill="#203b73"/>
<rect x="335.8" y="228.85" width="2.3" height="6.66" fill="#2e55ad"/>
<rect x="335.8" y="235.21" width="2.3" height="6.66" fill="#335ab1"/>
<rect x="335.8" y="241.58" width="2.3" height="6.66" fill="#22408b"/>
<rect x="335.8" y="247.94" width="2.3" height="6.66" fill="#224088"/>
<rect x="335.8" y="254.30" width="2.3" height="6.66" fill="#989ecf"/>
<rect x="335.8" y="260.66" width="2.3" height="6.66" fill="#cbc3dd"/>
<rect x="335.8" y="267.03" width="2.3" height="6.66" fill="#203b74"/>
<rect x="335.8" y="273.39" width="2.3" height="6.66" fill="#4766b6"/>
<rect x="335.8" y="279.75" width="2.3" height="6.66" fill="#213d7d"/>
<rect x="335.8" y="286.11" width="2.3" height="6.66" fill="#203b73"/>
<rect x="335.8" y="292.48" width="2.3" height="6.66" fill="#22418c"/>
<rect x="335.8" y="298.84" width="2.3" height="6.66" fill="#203c76"/>
<rect x="335.8" y="305.20" width="2.3" height="6.66" fill="#213f83"/>
<rect x="335.8" y="311.56" width="2.3" height="6.66" fill="#203c79"/>
<rect x="335.8" y="317.93" width="2.3" height="6.66" fill="#1e396c"/>
<rect x="335.8" y="324.29" width="2.3" height="6.66" fill="#1e396d"/>
<rect x="335.8" y="330.65" width="2.3" height="6.66" fill="#1d376a"/>
<rect x="335.8" y="343.38" width="2.3" height="6.66" fill="#1e386c"/>
<rect x="335.8" y="349.74" width="2.3" height="8.36" fill="#1d376a"/>
<rect x="337.8" y="201.40" width="2.3" height="8.36" fill="#b1b0d6"/>
<rect x="337.8" y="209.76" width="2.3" height="6.66" fill="#9199cc"/>
<rect x="337.8" y="216.12" width="2.3" height="6.66" fill="#c2bddb"/>
<rect x="337.8" y="222.49" width="2.3" height="6.66" fill="#223f86"/>
<rect x="337.8" y="228.85" width="2.3" height="6.66" fill="#bcb8da"/>
<rect x="337.8" y="235.21" width="2.3" height="6.66" fill="#e8c8c9"/>
<rect x="337.8" y="241.58" width="2.3" height="6.66" fill="#808cc7"/>
<rect x="337.8" y="247.94" width="2.3" height="6.66" fill="#284ba1"/>
<rect x="337.8" y="254.30" width="2.3" height="6.66" fill="#e7d1d8"/>
<rect x="337.8" y="260.66" width="2.3" height="6.66" fill="#df7768"/>
<rect x="337.8" y="267.03" width="2.3" height="6.66" fill="#223f84"/>
<rect x="337.8" y="273.39" width="2.3" height="6.66" fill="#5971bb"/>
<rect x="337.8" y="279.75" width="2.3" height="6.66" fill="#213f84"/>
<rect x="337.8" y="286.11" width="2.3" height="6.66" fill="#213d7d"/>
<rect x="337.8" y="292.48" width="2.3" height="6.66" fill="#23418e"/>
<rect x="337.8" y="298.84" width="2.3" height="6.66" fill="#213e81"/>
<rect x="337.8" y="305.20" width="2.3" height="6.66" fill="#25459b"/>
<rect x="337.8" y="311.56" width="2.3" height="6.66" fill="#213e81"/>
<rect x="337.8" y="324.29" width="2.3" height="6.66" fill="#1f3a6d"/>
<rect x="337.8" y="330.65" width="2.3" height="6.66" fill="#203c79"/>
<rect x="337.8" y="337.01" width="2.3" height="6.66" fill="#1f3a6f"/>
<rect x="337.8" y="343.38" width="2.3" height="6.66" fill="#203b73"/>
<rect x="337.8" y="349.74" width="2.3" height="8.36" fill="#213e7e"/>
<rect x="339.8" y="201.40" width="2.3" height="8.36" fill="#536eba"/>
<rect x="339.8" y="209.76" width="2.3" height="6.66" fill="#2c51a8"/>
<rect x="339.8" y="216.12" width="2.3" height="6.66" fill="#23428f"/>
<rect x="339.8" y="222.49" width="2.3" height="6.66" fill="#2a4ea5"/>
<rect x="339.8" y="228.85" width="2.3" height="6.66" fill="#3058b0"/>
<rect x="339.8" y="235.21" width="2.3" height="6.66" fill="#8d96cb"/>
<rect x="339.8" y="241.58" width="2.3" height="6.66" fill="#23418d"/>
<rect x="339.8" y="247.94" width="2.3" height="6.66" fill="#234291"/>
<rect x="339.8" y="254.30" width="2.3" height="6.66" fill="#375cb2"/>
<rect x="339.8" y="260.66" width="2.3" height="6.66" fill="#9a9fcf"/>
<rect x="339.8" y="267.03" width="2.3" height="6.66" fill="#1f3a70"/>
<rect x="339.8" y="273.39" width="2.3" height="6.66" fill="#365cb2"/>
<rect x="339.8" y="279.75" width="2.3" height="6.66" fill="#203c77"/>
<rect x="339.8" y="286.11" width="2.3" height="6.66" fill="#203c76"/>
<rect x="339.8" y="292.48" width="2.3" height="6.66" fill="#1e386a"/>
<rect x="339.8" y="298.84" width="2.3" height="6.66" fill="#1f3b72"/>
<rect x="339.8" y="305.20" width="2.3" height="6.66" fill="#1d3668"/>
<rect x="339.8" y="311.56" width="2.3" height="6.66" fill="#1e396c"/>
<rect x="339.8" y="317.93" width="2.3" height="6.66" fill="#1c3566"/>
<rect x="339.8" y="324.29" width="2.3" height="6.66" fill="#1f3a70"/>
<rect x="339.8" y="330.65" width="2.3" height="6.66" fill="#1e386a"/>
<rect x="339.8" y="337.01" width="2.3" height="6.66" fill="#1d3769"/>
<rect x="339.8" y="343.38" width="2.3" height="6.66" fill="#1e396d"/>
<rect x="339.8" y="349.74" width="2.3" height="8.36" fill="#1c3566"/>
<rect x="341.8" y="201.40" width="2.3" height="8.36" fill="#6277be"/>
<rect x="341.8" y="209.76" width="2.3" height="6.66" fill="#284ba1"/>
<rect x="341.8" y="216.12" width="2.3" height="6.66" fill="#a6a8d3"/>
<rect x="341.8" y="222.49" width="2.3" height="6.66" fill="#223f84"/>
<rect x="341.8" y="228.85" width="2.3" height="6.66" fill="#a0a4d1"/>
<rect x="341.8" y="235.21" width="2.3" height="6.66" fill="#bdb9da"/>
<rect x="341.8" y="241.58" width="2.3" height="6.66" fill="#7886c4"/>
<rect x="341.8" y="247.94" width="2.3" height="6.66" fill="#234292"/>
<rect x="341.8" y="254.30" width="2.3" height="6.66" fill="#939acd"/>
<rect x="341.8" y="260.66" width="2.3" height="6.66" fill="#eab4ab"/>
<rect x="341.8" y="267.03" width="2.3" height="6.66" fill="#213e7e"/>
<rect x="341.8" y="273.39" width="2.3" height="6.66" fill="#7684c4"/>
<rect x="341.8" y="279.75" width="2.3" height="6.66" fill="#213f82"/>
<rect x="341.8" y="286.11" width="2.3" height="6.66" fill="#203b75"/>
<rect x="341.8" y="292.48" width="2.3" height="6.66" fill="#244398"/>
<rect x="341.8" y="298.84" width="2.3" height="6.66" fill="#224086"/>
<rect x="341.8" y="305.20" width="2.3" height="6.66" fill="#213f83"/>
<rect x="341.8" y="311.56" width="2.3" height="6.66" fill="#203c77"/>
<rect x="341.8" y="317.93" width="2.3" height="6.66" fill="#203c75"/>
<rect x="341.8" y="324.29" width="2.3" height="6.66" fill="#1e386c"/>
<rect x="341.8" y="330.65" width="2.3" height="6.66" fill="#1f3a70"/>
<rect x="341.8" y="337.01" width="2.3" height="6.66" fill="#1d376a"/>
<rect x="341.8" y="343.38" width="2.3" height="6.66" fill="#203c77"/>
<rect x="341.8" y="349.74" width="2.3" height="8.36" fill="#1e386b"/>
<rect x="343.8" y="201.40" width="2.3" height="8.36" fill="#8d96cb"/>
<rect x="343.8" y="209.76" width="2.3" height="6.66" fill="#2b50a7"/>
<rect x="343.8" y="216.12" width="2.3" height="6.66" fill="#6579bf"/>
<rect x="343.8" y="222.49" width="2.3" height="6.66" fill="#234292"/>
<rect x="343.8" y="228.85" width="2.3" height="6.66" fill="#acacd5"/>
<rect x="343.8" y="235.21" width="2.3" height="6.66" fill="#7d8ac6"/>
<rect x="343.8" y="241.58" width="2.3" height="6.66" fill="#6e7fc1"/>
<rect x="343.8" y="247.94" width="2.3" height="6.66" fill="#23428f"/>
<rect x="343.8" y="254.30" width="2.3" height="6.66" fill="#ababd5"/>
<rect x="343.8" y="260.66" width="2.3" height="6.66" fill="#e59789"/>
<rect x="343.8" y="267.03" width="2.3" height="6.66" fill="#213e82"/>
<rect x="343.8" y="273.39" width="2.3" height="6.66" fill="#8c95cb"/>
<rect x="343.8" y="279.75" width="2.3" height="6.66" fill="#22408a"/>
<rect x="343.8" y="286.11" width="2.3" height="6.66" fill="#213e7f"/>
<rect x="343.8" y="292.48" width="2.3" height="6.66" fill="#234395"/>
<rect x="343.8" y="298.84" width="2.3" height="6.66" fill="#213f83"/>
<rect x="343.8" y="305.20" width="2.3" height="6.66" fill="#203c75"/>
<rect x="343.8" y="311.56" width="2.3" height="6.66" fill="#213d7d"/>
<rect x="343.8" y="317.93" width="2.3" height="6.66" fill="#1f3b71"/>
<rect x="343.8" y="324.29" width="2.3" height="6.66" fill="#1f3a70"/>
<rect x="343.8" y="330.65" width="2.3" height="6.66" fill="#203b74"/>
<rect x="343.8" y="337.01" width="2.3" height="6.66" fill="#1e396c"/>
<rect x="343.8" y="343.38" width="2.3" height="6.66" fill="#1e386b"/>
<rect x="343.8" y="349.74" width="2.3" height="8.36" fill="#1f3a6d"/>
<rect x="345.8" y="201.40" width="2.3" height="8.36" fill="#a9aad4"/>
<rect x="345.8" y="209.76" width="2.3" height="6.66" fill="#2a4ea5"/>
<rect x="345.8" y="216.12" width="2.3" height="6.66" fill="#2a4fa6"/>
<rect x="345.8" y="222.49" width="2.3" height="6.66" fill="#667abf"/>
<rect x="345.8" y="228.85" width="2.3" height="6.66" fill="#e9beba"/>
<rect x="345.8" y="235.21" width="2.3" height="6.66" fill="#e8c4c3"/>
<rect x="345.8" y="241.58" width="2.3" height="6.66" fill="#3c5fb3"/>
<rect x="345.8" y="247.94" width="2.3" height="6.66" fill="#294ca3"/>
<rect x="345.8" y="254.30" width="2.3" height="6.66" fill="#6076bd"/>
<rect x="345.8" y="260.66" width="2.3" height="6.66" fill="#e0d4e1"/>
<rect x="345.8" y="267.03" width="2.3" height="6.66" fill="#213f83"/>
<rect x="345.8" y="273.39" width="2.3" height="6.66" fill="#687abf"/>
<rect x="345.8" y="279.75" width="2.3" height="6.66" fill="#22418c"/>
<rect x="345.8" y="286.11" width="2.3" height="6.66" fill="#213d7d"/>
<rect x="345.8" y="292.48" width="2.3" height="6.66" fill="#1f3b72"/>
<rect x="345.8" y="298.84" width="2.3" height="6.66" fill="#213e7f"/>
<rect x="345.8" y="305.20" width="2.3" height="6.66" fill="#25459b"/>
<rect x="345.8" y="311.56" width="2.3" height="6.66" fill="#213e80"/>
<rect x="345.8" y="330.65" width="2.3" height="6.66" fill="#203c75"/>
<rect x="345.8" y="337.01" width="2.3" height="6.66" fill="#1f3a6d"/>
<rect x="345.8" y="343.38" width="2.3" height="6.66" fill="#1e396c"/>
<rect x="345.8" y="349.74" width="2.3" height="8.36" fill="#203b73"/>
<rect x="347.8" y="201.40" width="2.3" height="8.36" fill="#979dce"/>
<rect x="347.8" y="209.76" width="2.3" height="6.66" fill="#2e54ac"/>
<rect x="347.8" y="216.12" width="2.3" height="6.66" fill="#5e74bd"/>
<rect x="347.8" y="222.49" width="2.3" height="6.66" fill="#4867b7"/>
<rect x="347.8" y="228.85" width="2.3" height="6.66" fill="#4d6ab8"/>
<rect x="347.8" y="235.21" width="2.3" height="6.66" fill="#c2bcdb"/>
<rect x="347.8" y="241.58" width="2.3" height="6.66" fill="#365cb2"/>
<rect x="347.8" y="247.94" width="2.3" height="6.66" fill="#8791c9"/>
<rect x="347.8" y="254.30" width="2.3" height="6.66" fill="#7d8ac6"/>
<rect x="347.8" y="260.66" width="2.3" height="6.66" fill="#e18777"/>
<rect x="347.8" y="267.03" width="2.3" height="6.66" fill="#213e7e"/>
<rect x="347.8" y="273.39" width="2.3" height="6.66" fill="#a3a6d2"/>
<rect x="347.8" y="279.75" width="2.3" height="6.66" fill="#23428f"/>
<rect x="347.8" y="286.11" width="2.3" height="6.66" fill="#213e7e"/>
<rect x="347.8" y="292.48" width="2.3" height="6.66" fill="#234394"/>
<rect x="347.8" y="298.84" width="2.3" height="6.66" fill="#203d7a"/>
<rect x="347.8" y="305.20" width="2.3" height="6.66" fill="#223f86"/>
<rect x="347.8" y="311.56" width="2.3" height="6.66" fill="#223f84"/>
<rect x="347.8" y="317.93" width="2.3" height="6.66" fill="#1e396d"/>
<rect x="347.8" y="330.65" width="2.3" height="6.66" fill="#203b73"/>
<rect x="347.8" y="337.01" width="2.3" height="6.66" fill="#1f3b71"/>
<rect x="347.8" y="343.38" width="2.3" height="6.66" fill="#1f3b70"/>
<rect x="347.8" y="349.74" width="2.3" height="8.36" fill="#1e386a"/>
<rect x="349.8" y="201.40" width="2.3" height="8.36" fill="#2f56ad"/>
<rect x="349.8" y="209.76" width="2.3" height="6.66" fill="#26479d"/>
<rect x="349.8" y="216.12" width="2.3" height="6.66" fill="#4465b6"/>
<rect x="349.8" y="222.49" width="2.3" height="6.66" fill="#244499"/>
<rect x="349.8" y="228.85" width="2.3" height="6.66" fill="#9ea2d0"/>
<rect x="349.8" y="235.21" width="2.3" height="6.66" fill="#e9bab3"/>
<rect x="349.8" y="241.58" width="2.3" height="6.66" fill="#213f83"/>
<rect x="349.8" y="247.94" width="2.3" height="6.66" fill="#1e396d"/>
<rect x="349.8" y="254.30" width="2.3" height="6.66" fill="#848fc8"/>
<rect x="349.8" y="260.66" width="2.3" height="6.66" fill="#4062b4"/>
<rect x="349.8" y="267.03" width="2.3" height="6.66" fill="#1f3a6f"/>
<rect x="349.8" y="273.39" width="2.3" height="6.66" fill="#4565b6"/>
<rect x="349.8" y="279.75" width="2.3" height="6.66" fill="#203c75"/>
<rect x="349.8" y="286.11" width="2.3" height="6.66" fill="#1f3a6f"/>
<rect x="349.8" y="298.84" width="2.3" height="6.66" fill="#1f3b70"/>
<rect x="349.8" y="305.20" width="2.3" height="6.66" fill="#213d7c"/>
<rect x="349.8" y="311.56" width="2.3" height="6.66" fill="#213e7f"/>
<rect x="349.8" y="317.93" width="2.3" height="6.66" fill="#1d3667"/>
<rect x="349.8" y="324.29" width="2.3" height="6.66" fill="#1f3a6d"/>
<rect x="349.8" y="330.65" width="2.3" height="6.66" fill="#1f3a6d"/>
<rect x="349.8" y="337.01" width="2.3" height="6.66" fill="#1f396d"/>
<rect x="349.8" y="343.38" width="2.3" height="6.66" fill="#203b74"/>
<rect x="349.8" y="349.74" width="2.3" height="8.36" fill="#1f396d"/>
<rect x="351.8" y="201.40" width="2.3" height="8.36" fill="#c7c1dc"/>
<rect x="351.8" y="209.76" width="2.3" height="6.66" fill="#26479d"/>
<rect x="351.8" y="216.12" width="2.3" height="6.66" fill="#24459b"/>
<rect x="351.8" y="222.49" width="2.3" height="6.66" fill="#2b50a8"/>
<rect x="351.8" y="228.85" width="2.3" height="6.66" fill="#697bc0"/>
<rect x="351.8" y="235.21" width="2.3" height="6.66" fill="#b9b6d9"/>
<rect x="351.8" y="241.58" width="2.3" height="6.66" fill="#203c78"/>
<rect x="351.8" y="247.94" width="2.3" height="6.66" fill="#213f83"/>
<rect x="351.8" y="254.30" width="2.3" height="6.66" fill="#26479d"/>
<rect x="351.8" y="260.66" width="2.3" height="6.66" fill="#838ec8"/>
<rect x="351.8" y="273.39" width="2.3" height="6.66" fill="#7282c3"/>
<rect x="351.8" y="279.75" width="2.3" height="6.66" fill="#22418c"/>
<rect x="351.8" y="286.11" width="2.3" height="6.66" fill="#234395"/>
<rect x="351.8" y="292.48" width="2.3" height="6.66" fill="#2a4ea5"/>
<rect x="351.8" y="298.84" width="2.3" height="6.66" fill="#23428f"/>
<rect x="351.8" y="305.20" width="2.3" height="6.66" fill="#3a5eb3"/>
<rect x="351.8" y="311.56" width="2.3" height="6.66" fill="#223f85"/>
<rect x="351.8" y="317.93" width="2.3" height="6.66" fill="#1d3668"/>
<rect x="351.8" y="324.29" width="2.3" height="6.66" fill="#1e386b"/>
<rect x="351.8" y="330.65" width="2.3" height="6.66" fill="#1f3a6d"/>
<rect x="351.8" y="343.38" width="2.3" height="6.66" fill="#1d3769"/>
<rect x="351.8" y="349.74" width="2.3" height="8.36" fill="#1f3a70"/>
<rect x="353.8" y="201.40" width="2.3" height="8.36" fill="#de7566"/>
<rect x="353.8" y="209.76" width="2.3" height="6.66" fill="#3058b0"/>
<rect x="353.8" y="216.12" width="2.3" height="6.66" fill="#4565b6"/>
<rect x="353.8" y="222.49" width="2.3" height="6.66" fill="#2d53ab"/>
<rect x="353.8" y="228.85" width="2.3" height="6.66" fill="#e8bfbc"/>
<rect x="353.8" y="235.21" width="2.3" height="6.66" fill="#d94f44"/>
<rect x="353.8" y="241.58" width="2.3" height="6.66" fill="#294ca3"/>
<rect x="353.8" y="247.94" width="2.3" height="6.66" fill="#284aa1"/>
<rect x="353.8" y="254.30" width="2.3" height="6.66" fill="#6b7dc0"/>
<rect x="353.8" y="260.66" width="2.3" height="6.66" fill="#cfc7de"/>
<rect x="353.8" y="267.03" width="2.3" height="6.66" fill="#213e7e"/>
<rect x="353.8" y="273.39" width="2.3" height="6.66" fill="#7d8ac6"/>
<rect x="353.8" y="279.75" width="2.3" height="6.66" fill="#234395"/>
<rect x="353.8" y="286.11" width="2.3" height="6.66" fill="#25469c"/>
<rect x="353.8" y="292.48" width="2.3" height="6.66" fill="#385db2"/>
<rect x="353.8" y="298.84" width="2.3" height="6.66" fill="#244396"/>
<rect x="353.8" y="305.20" width="2.3" height="6.66" fill="#5b73bc"/>
<rect x="353.8" y="311.56" width="2.3" height="6.66" fill="#224087"/>
<rect x="353.8" y="317.93" width="2.3" height="6.66" fill="#203c77"/>
<rect x="353.8" y="324.29" width="2.3" height="6.66" fill="#213e81"/>
<rect x="353.8" y="330.65" width="2.3" height="6.66" fill="#203c77"/>
<rect x="353.8" y="337.01" width="2.3" height="6.66" fill="#203c78"/>
<rect x="353.8" y="343.38" width="2.3" height="6.66" fill="#203c75"/>
<rect x="353.8" y="349.74" width="2.3" height="8.36" fill="#1e396c"/>
<rect x="355.8" y="201.40" width="2.3" height="8.36" fill="#d9cedf"/>
<rect x="355.8" y="209.76" width="2.3" height="6.66" fill="#26479d"/>
<rect x="355.8" y="216.12" width="2.3" height="6.66" fill="#a4a7d2"/>
<rect x="355.8" y="222.49" width="2.3" height="6.66" fill="#2a4ea6"/>
<rect x="355.8" y="228.85" width="2.3" height="6.66" fill="#677abf"/>
<rect x="355.8" y="235.21" width="2.3" height="6.66" fill="#e6d8e2"/>
<rect x="355.8" y="241.58" width="2.3" height="6.66" fill="#26489f"/>
<rect x="355.8" y="254.30" width="2.3" height="6.66" fill="#a0a4d1"/>
<rect x="355.8" y="260.66" width="2.3" height="6.66" fill="#6f80c2"/>
<rect x="355.8" y="267.03" width="2.3" height="6.66" fill="#213d7b"/>
<rect x="355.8" y="273.39" width="2.3" height="6.66" fill="#7081c2"/>
<rect x="355.8" y="279.75" width="2.3" height="6.66" fill="#223f86"/>
<rect x="355.8" y="286.11" width="2.3" height="6.66" fill="#234290"/>
<rect x="355.8" y="292.48" width="2.3" height="6.66" fill="#3058b0"/>
<rect x="355.8" y="298.84" width="2.3" height="6.66" fill="#244396"/>
<rect x="355.8" y="305.20" width="2.3" height="6.66" fill="#2f56ad"/>
<rect x="355.8" y="311.56" width="2.3" height="6.66" fill="#213d7c"/>
<rect x="355.8" y="317.93" width="2.3" height="6.66" fill="#203c76"/>
<rect x="355.8" y="324.29" width="2.3" height="6.66" fill="#1f396d"/>
<rect x="355.8" y="330.65" width="2.3" height="6.66" fill="#203c77"/>
<rect x="355.8" y="337.01" width="2.3" height="6.66" fill="#203b73"/>
<rect x="355.8" y="343.38" width="2.3" height="6.66" fill="#1e386b"/>
<rect x="355.8" y="349.74" width="2.3" height="8.36" fill="#1e396c"/>
<rect x="357.8" y="201.40" width="2.3" height="8.36" fill="#cfc6de"/>
<rect x="357.8" y="209.76" width="2.3" height="6.66" fill="#5972bb"/>
<rect x="357.8" y="216.12" width="2.3" height="6.66" fill="#b1b0d7"/>
<rect x="357.8" y="222.49" width="2.3" height="6.66" fill="#25469c"/>
<rect x="357.8" y="228.85" width="2.3" height="6.66" fill="#9098cc"/>
<rect x="357.8" y="235.21" width="2.3" height="6.66" fill="#e9ab9e"/>
<rect x="357.8" y="241.58" width="2.3" height="6.66" fill="#234293"/>
<rect x="357.8" y="247.94" width="2.3" height="6.66" fill="#294da4"/>
<rect x="357.8" y="254.30" width="2.3" height="6.66" fill="#a7a9d3"/>
<rect x="357.8" y="260.66" width="2.3" height="6.66" fill="#3f61b4"/>
<rect x="357.8" y="267.03" width="2.3" height="6.66" fill="#213f83"/>
<rect x="357.8" y="273.39" width="2.3" height="6.66" fill="#6a7cc0"/>
<rect x="357.8" y="279.75" width="2.3" height="6.66" fill="#234394"/>
<rect x="357.8" y="286.11" width="2.3" height="6.66" fill="#27489f"/>
<rect x="357.8" y="292.48" width="2.3" height="6.66" fill="#566fba"/>
<rect x="357.8" y="298.84" width="2.3" height="6.66" fill="#244499"/>
<rect x="357.8" y="305.20" width="2.3" height="6.66" fill="#4967b7"/>
<rect x="357.8" y="311.56" width="2.3" height="6.66" fill="#213f82"/>
<rect x="357.8" y="317.93" width="2.3" height="6.66" fill="#1e396c"/>
<rect x="357.8" y="324.29" width="2.3" height="6.66" fill="#1f3a6d"/>
<rect x="357.8" y="330.65" width="2.3" height="6.66" fill="#213d7c"/>
<rect x="357.8" y="337.01" width="2.3" height="6.66" fill="#1f3a70"/>
<rect x="357.8" y="343.38" width="2.3" height="6.66" fill="#1f3b72"/>
<rect x="357.8" y="349.74" width="2.3" height="8.36" fill="#213d7b"/>
<rect x="359.8" y="201.40" width="2.3" height="8.36" fill="#d7cddf"/>
<rect x="359.8" y="209.76" width="2.3" height="6.66" fill="#2e55ad"/>
<rect x="359.8" y="216.12" width="2.3" height="6.66" fill="#3f61b4"/>
<rect x="359.8" y="222.49" width="2.3" height="6.66" fill="#203c76"/>
<rect x="359.8" y="228.85" width="2.3" height="6.66" fill="#e7ccd0"/>
<rect x="359.8" y="235.21" width="2.3" height="6.66" fill="#e7cfd5"/>
<rect x="359.8" y="241.58" width="2.3" height="6.66" fill="#234293"/>
<rect x="359.8" y="247.94" width="2.3" height="6.66" fill="#213f82"/>
<rect x="359.8" y="254.30" width="2.3" height="6.66" fill="#4364b5"/>
<rect x="359.8" y="260.66" width="2.3" height="6.66" fill="#e6d5de"/>
<rect x="359.8" y="267.03" width="2.3" height="6.66" fill="#1f3b71"/>
<rect x="359.8" y="273.39" width="2.3" height="6.66" fill="#5f75bd"/>
<rect x="359.8" y="279.75" width="2.3" height="6.66" fill="#234290"/>
<rect x="359.8" y="286.11" width="2.3" height="6.66" fill="#24449a"/>
<rect x="359.8" y="292.48" width="2.3" height="6.66" fill="#375db2"/>
<rect x="359.8" y="298.84" width="2.3" height="6.66" fill="#22408a"/>
<rect x="359.8" y="305.20" width="2.3" height="6.66" fill="#4062b4"/>
<rect x="359.8" y="311.56" width="2.3" height="6.66" fill="#213d7c"/>
<rect x="359.8" y="317.93" width="2.3" height="6.66" fill="#1f3b70"/>
<rect x="359.8" y="324.29" width="2.3" height="6.66" fill="#213e7f"/>
<rect x="359.8" y="330.65" width="2.3" height="6.66" fill="#203c76"/>
<rect x="359.8" y="337.01" width="2.3" height="6.66" fill="#1e396c"/>
<rect x="359.8" y="343.38" width="2.3" height="6.66" fill="#203b74"/>
<rect x="359.8" y="349.74" width="2.3" height="8.36" fill="#1f396d"/>
<rect x="361.8" y="201.40" width="2.3" height="8.36" fill="#e9bab4"/>
<rect x="361.8" y="209.76" width="2.3" height="6.66" fill="#999fcf"/>
<rect x="361.8" y="216.12" width="2.3" height="6.66" fill="#939acd"/>
<rect x="361.8" y="222.49" width="2.3" height="6.66" fill="#25469c"/>
<rect x="361.8" y="228.85" width="2.3" height="6.66" fill="#c2bddb"/>
<rect x="361.8" y="235.21" width="2.3" height="6.66" fill="#ccc4dd"/>
<rect x="361.8" y="241.58" width="2.3" height="6.66" fill="#294ca3"/>
<rect x="361.8" y="247.94" width="2.3" height="6.66" fill="#2f57af"/>
<rect x="361.8" y="254.30" width="2.3" height="6.66" fill="#4c69b8"/>
<rect x="361.8" y="260.66" width="2.3" height="6.66" fill="#7e8bc6"/>
<rect x="361.8" y="267.03" width="2.3" height="6.66" fill="#213e81"/>
<rect x="361.8" y="273.39" width="2.3" height="6.66" fill="#a6a8d3"/>
<rect x="361.8" y="279.75" width="2.3" height="6.66" fill="#234293"/>
<rect x="361.8" y="286.11" width="2.3" height="6.66" fill="#234293"/>
<rect x="361.8" y="292.48" width="2.3" height="6.66" fill="#2f56ad"/>
<rect x="361.8" y="298.84" width="2.3" height="6.66" fill="#244499"/>
<rect x="361.8" y="305.20" width="2.3" height="6.66" fill="#4766b6"/>
<rect x="361.8" y="311.56" width="2.3" height="6.66" fill="#213d7b"/>
<rect x="361.8" y="317.93" width="2.3" height="6.66" fill="#203c77"/>
<rect x="361.8" y="324.29" width="2.3" height="6.66" fill="#213e7f"/>
<rect x="361.8" y="330.65" width="2.3" height="6.66" fill="#213e81"/>
<rect x="361.8" y="343.38" width="2.3" height="6.66" fill="#1f396d"/>
<rect x="361.8" y="349.74" width="2.3" height="8.36" fill="#1f3b72"/>
<rect x="363.8" y="201.40" width="2.3" height="8.36" fill="#b0afd6"/>
<rect x="363.8" y="209.76" width="2.3" height="6.66" fill="#5a72bc"/>
<rect x="363.8" y="216.12" width="2.3" height="6.66" fill="#a1a4d1"/>
<rect x="363.8" y="222.49" width="2.3" height="6.66" fill="#3c60b3"/>
<rect x="363.8" y="228.85" width="2.3" height="6.66" fill="#b6b4d8"/>
<rect x="363.8" y="235.21" width="2.3" height="6.66" fill="#e8a79b"/>
<rect x="363.8" y="241.58" width="2.3" height="6.66" fill="#22418c"/>
<rect x="363.8" y="247.94" width="2.3" height="6.66" fill="#22418b"/>
<rect x="363.8" y="254.30" width="2.3" height="6.66" fill="#4f6bb9"/>
<rect x="363.8" y="260.66" width="2.3" height="6.66" fill="#d2c9de"/>
<rect x="363.8" y="267.03" width="2.3" height="6.66" fill="#244396"/>
<rect x="363.8" y="273.39" width="2.3" height="6.66" fill="#b1b0d7"/>
<rect x="363.8" y="279.75" width="2.3" height="6.66" fill="#234291"/>
<rect x="363.8" y="286.11" width="2.3" height="6.66" fill="#26489e"/>
<rect x="363.8" y="292.48" width="2.3" height="6.66" fill="#2c51a9"/>
<rect x="363.8" y="298.84" width="2.3" height="6.66" fill="#234291"/>
<rect x="363.8" y="305.20" width="2.3" height="6.66" fill="#4c6ab8"/>
<rect x="363.8" y="311.56" width="2.3" height="6.66" fill="#23418e"/>
<rect x="363.8" y="317.93" width="2.3" height="6.66" fill="#203b73"/>
<rect x="363.8" y="324.29" width="2.3" height="6.66" fill="#213e7e"/>
<rect x="363.8" y="330.65" width="2.3" height="6.66" fill="#203c79"/>
<rect x="363.8" y="337.01" width="2.3" height="6.66" fill="#203c77"/>
<rect x="363.8" y="343.38" width="2.3" height="6.66" fill="#213e81"/>
<rect x="363.8" y="349.74" width="2.3" height="8.36" fill="#203b73"/>
<rect x="365.8" y="201.40" width="2.3" height="8.36" fill="#7f8bc7"/>
<rect x="365.8" y="209.76" width="2.3" height="6.66" fill="#8590c8"/>
<rect x="365.8" y="216.12" width="2.3" height="6.66" fill="#9199cc"/>
<rect x="365.8" y="222.49" width="2.3" height="6.66" fill="#8d96cb"/>
<rect x="365.8" y="228.85" width="2.3" height="6.66" fill="#4062b5"/>
<rect x="365.8" y="235.21" width="2.3" height="6.66" fill="#c63737"/>
<rect x="365.8" y="241.58" width="2.3" height="6.66" fill="#2c52aa"/>
<rect x="365.8" y="247.94" width="2.3" height="6.66" fill="#1d3768"/>
<rect x="365.8" y="254.30" width="2.3" height="6.66" fill="#bbb8da"/>
<rect x="365.8" y="260.66" width="2.3" height="6.66" fill="#d6ccdf"/>
<rect x="365.8" y="267.03" width="2.3" height="6.66" fill="#223f86"/>
<rect x="365.8" y="273.39" width="2.3" height="6.66" fill="#9ca1d0"/>
<rect x="365.8" y="279.75" width="2.3" height="6.66" fill="#234396"/>
<rect x="365.8" y="286.11" width="2.3" height="6.66" fill="#27499f"/>
<rect x="365.8" y="292.48" width="2.3" height="6.66" fill="#506cb9"/>
<rect x="365.8" y="298.84" width="2.3" height="6.66" fill="#25469c"/>
<rect x="365.8" y="305.20" width="2.3" height="6.66" fill="#506cb9"/>
<rect x="365.8" y="311.56" width="2.3" height="6.66" fill="#213f83"/>
<rect x="365.8" y="317.93" width="2.3" height="6.66" fill="#223f86"/>
<rect x="365.8" y="324.29" width="2.3" height="6.66" fill="#203b73"/>
<rect x="365.8" y="330.65" width="2.3" height="6.66" fill="#213e80"/>
<rect x="365.8" y="337.01" width="2.3" height="6.66" fill="#213d7c"/>
<rect x="365.8" y="343.38" width="2.3" height="6.66" fill="#1f3b72"/>
<rect x="365.8" y="349.74" width="2.3" height="8.36" fill="#203c77"/>
<rect x="367.8" y="201.40" width="2.3" height="8.36" fill="#e6d6df"/>
<rect x="367.8" y="209.76" width="2.3" height="6.66" fill="#4b69b7"/>
<rect x="367.8" y="216.12" width="2.3" height="6.66" fill="#2e55ac"/>
<rect x="367.8" y="222.49" width="2.3" height="6.66" fill="#244396"/>
<rect x="367.8" y="228.85" width="2.3" height="6.66" fill="#e8c1bf"/>
<rect x="367.8" y="235.21" width="2.3" height="6.66" fill="#e8a497"/>
<rect x="367.8" y="241.58" width="2.3" height="6.66" fill="#213e80"/>
<rect x="367.8" y="247.94" width="2.3" height="6.66" fill="#26479d"/>
<rect x="367.8" y="254.30" width="2.3" height="6.66" fill="#beb9da"/>
<rect x="367.8" y="260.66" width="2.3" height="6.66" fill="#e49587"/>
<rect x="367.8" y="267.03" width="2.3" height="6.66" fill="#213f82"/>
<rect x="367.8" y="273.39" width="2.3" height="6.66" fill="#808cc7"/>
<rect x="367.8" y="279.75" width="2.3" height="6.66" fill="#234395"/>
<rect x="367.8" y="286.11" width="2.3" height="6.66" fill="#25469c"/>
<rect x="367.8" y="292.48" width="2.3" height="6.66" fill="#2a4ea5"/>
<rect x="367.8" y="298.84" width="2.3" height="6.66" fill="#26489e"/>
<rect x="367.8" y="305.20" width="2.3" height="6.66" fill="#546eba"/>
<rect x="367.8" y="311.56" width="2.3" height="6.66" fill="#213d7d"/>
<rect x="367.8" y="317.93" width="2.3" height="6.66" fill="#213e7f"/>
<rect x="367.8" y="324.29" width="2.3" height="6.66" fill="#203c77"/>
<rect x="367.8" y="330.65" width="2.3" height="6.66" fill="#1f3b72"/>
<rect x="367.8" y="337.01" width="2.3" height="6.66" fill="#1e396d"/>
<rect x="367.8" y="343.38" width="2.3" height="6.66" fill="#203b73"/>
<rect x="367.8" y="349.74" width="2.3" height="8.36" fill="#1f3b71"/>
<rect x="369.8" y="201.40" width="2.3" height="8.36" fill="#e28879"/>
<rect x="369.8" y="209.76" width="2.3" height="6.66" fill="#e9bbb4"/>
<rect x="369.8" y="216.12" width="2.3" height="6.66" fill="#e8a699"/>
<rect x="369.8" y="222.49" width="2.3" height="6.66" fill="#335ab1"/>
<rect x="369.8" y="228.85" width="2.3" height="6.66" fill="#e6d3da"/>
<rect x="369.8" y="235.21" width="2.3" height="6.66" fill="#b82830"/>
<rect x="369.8" y="241.58" width="2.3" height="6.66" fill="#3d60b4"/>
<rect x="369.8" y="247.94" width="2.3" height="6.66" fill="#284ba2"/>
<rect x="369.8" y="254.30" width="2.3" height="6.66" fill="#a2a5d2"/>
<rect x="369.8" y="260.66" width="2.3" height="6.66" fill="#e5998c"/>
<rect x="369.8" y="267.03" width="2.3" height="6.66" fill="#22418c"/>
<rect x="369.8" y="273.39" width="2.3" height="6.66" fill="#c9c2dc"/>
<rect x="369.8" y="279.75" width="2.3" height="6.66" fill="#25459b"/>
<rect x="369.8" y="286.11" width="2.3" height="6.66" fill="#294ca3"/>
<rect x="369.8" y="292.48" width="2.3" height="6.66" fill="#5a72bc"/>
<rect x="369.8" y="298.84" width="2.3" height="6.66" fill="#284ba1"/>
<rect x="369.8" y="305.20" width="2.3" height="6.66" fill="#7685c4"/>
<rect x="369.8" y="311.56" width="2.3" height="6.66" fill="#23418e"/>
<rect x="369.8" y="317.93" width="2.3" height="6.66" fill="#213e7e"/>
<rect x="369.8" y="324.29" width="2.3" height="6.66" fill="#213e7f"/>
<rect x="369.8" y="330.65" width="2.3" height="6.66" fill="#213e82"/>
<rect x="369.8" y="337.01" width="2.3" height="6.66" fill="#213d7b"/>
<rect x="369.8" y="343.38" width="2.3" height="6.66" fill="#224086"/>
<rect x="369.8" y="349.74" width="2.3" height="8.36" fill="#203c75"/>
<rect x="371.8" y="201.40" width="2.3" height="8.36" fill="#d5cbdf"/>
<rect x="371.8" y="209.76" width="2.3" height="6.66" fill="#4464b5"/>
<rect x="371.8" y="216.12" width="2.3" height="6.66" fill="#536eba"/>
<rect x="371.8" y="222.49" width="2.3" height="6.66" fill="#2a4ea5"/>
<rect x="371.8" y="228.85" width="2.3" height="6.66" fill="#eab4aa"/>
<rect x="371.8" y="235.21" width="2.3" height="6.66" fill="#e9b8b0"/>
<rect x="371.8" y="241.58" width="2.3" height="6.66" fill="#213f83"/>
<rect x="371.8" y="247.94" width="2.3" height="6.66" fill="#1f3a6f"/>
<rect x="371.8" y="254.30" width="2.3" height="6.66" fill="#2e54ac"/>
<rect x="371.8" y="260.66" width="2.3" height="6.66" fill="#eab3a8"/>
<rect x="371.8" y="267.03" width="2.3" height="6.66" fill="#203b74"/>
<rect x="371.8" y="273.39" width="2.3" height="6.66" fill="#8992ca"/>
<rect x="371.8" y="279.75" width="2.3" height="6.66" fill="#234293"/>
<rect x="371.8" y="286.11" width="2.3" height="6.66" fill="#26479e"/>
<rect x="371.8" y="292.48" width="2.3" height="6.66" fill="#4967b7"/>
<rect x="371.8" y="298.84" width="2.3" height="6.66" fill="#24449a"/>
<rect x="371.8" y="305.20" width="2.3" height="6.66" fill="#2f56ae"/>
<rect x="371.8" y="311.56" width="2.3" height="6.66" fill="#213f83"/>
<rect x="371.8" y="317.93" width="2.3" height="6.66" fill="#203c78"/>
<rect x="371.8" y="324.29" width="2.3" height="6.66" fill="#1f3b70"/>
<rect x="371.8" y="330.65" width="2.3" height="6.66" fill="#1f3b71"/>
<rect x="371.8" y="337.01" width="2.3" height="6.66" fill="#203c76"/>
<rect x="371.8" y="343.38" width="2.3" height="6.66" fill="#1f3a6f"/>
<rect x="371.8" y="349.74" width="2.3" height="8.36" fill="#213e7e"/>
<rect x="373.8" y="201.40" width="2.3" height="8.36" fill="#bfbadb"/>
<rect x="373.8" y="209.76" width="2.3" height="6.66" fill="#959bcd"/>
<rect x="373.8" y="216.12" width="2.3" height="6.66" fill="#506cb9"/>
<rect x="373.8" y="222.49" width="2.3" height="6.66" fill="#2d52aa"/>
<rect x="373.8" y="228.85" width="2.3" height="6.66" fill="#e0d3e1"/>
<rect x="373.8" y="235.21" width="2.3" height="6.66" fill="#e28b7c"/>
<rect x="373.8" y="241.58" width="2.3" height="6.66" fill="#2c51a8"/>
<rect x="373.8" y="247.94" width="2.3" height="6.66" fill="#234394"/>
<rect x="373.8" y="254.30" width="2.3" height="6.66" fill="#c8c1dc"/>
<rect x="373.8" y="260.66" width="2.3" height="6.66" fill="#8c95cb"/>
<rect x="373.8" y="267.03" width="2.3" height="6.66" fill="#213f82"/>
<rect x="373.8" y="273.39" width="2.3" height="6.66" fill="#b5b3d8"/>
<rect x="373.8" y="279.75" width="2.3" height="6.66" fill="#234292"/>
<rect x="373.8" y="286.11" width="2.3" height="6.66" fill="#2749a0"/>
<rect x="373.8" y="292.48" width="2.3" height="6.66" fill="#385db2"/>
<rect x="373.8" y="298.84" width="2.3" height="6.66" fill="#26479d"/>
<rect x="373.8" y="305.20" width="2.3" height="6.66" fill="#969cce"/>
<rect x="373.8" y="311.56" width="2.3" height="6.66" fill="#223f85"/>
<rect x="373.8" y="317.93" width="2.3" height="6.66" fill="#203d79"/>
<rect x="373.8" y="324.29" width="2.3" height="6.66" fill="#203c75"/>
<rect x="373.8" y="330.65" width="2.3" height="6.66" fill="#203b73"/>
<rect x="373.8" y="337.01" width="2.3" height="6.66" fill="#223f84"/>
<rect x="373.8" y="343.38" width="2.3" height="6.66" fill="#213e7d"/>
<rect x="373.8" y="349.74" width="2.3" height="8.36" fill="#203c77"/>
<rect x="375.8" y="201.40" width="2.3" height="8.36" fill="#c1bcdb"/>
<rect x="375.8" y="209.76" width="2.3" height="6.66" fill="#e49486"/>
<rect x="375.8" y="216.12" width="2.3" height="6.66" fill="#e9ada1"/>
<rect x="375.8" y="222.49" width="2.3" height="6.66" fill="#3d60b3"/>
<rect x="375.8" y="228.85" width="2.3" height="6.66" fill="#d2c8de"/>
<rect x="375.8" y="235.21" width="2.3" height="6.66" fill="#d6483f"/>
<rect x="375.8" y="241.58" width="2.3" height="6.66" fill="#8f97cc"/>
<rect x="375.8" y="247.94" width="2.3" height="6.66" fill="#284aa1"/>
<rect x="375.8" y="254.30" width="2.3" height="6.66" fill="#6176bd"/>
<rect x="375.8" y="260.66" width="2.3" height="6.66" fill="#e6d6de"/>
<rect x="375.8" y="267.03" width="2.3" height="6.66" fill="#203c76"/>
<rect x="375.8" y="273.39" width="2.3" height="6.66" fill="#bdb9da"/>
<rect x="375.8" y="279.75" width="2.3" height="6.66" fill="#244398"/>
<rect x="375.8" y="286.11" width="2.3" height="6.66" fill="#294ca3"/>
<rect x="375.8" y="292.48" width="2.3" height="6.66" fill="#4465b6"/>
<rect x="375.8" y="298.84" width="2.3" height="6.66" fill="#26479d"/>
<rect x="375.8" y="305.20" width="2.3" height="6.66" fill="#4a68b7"/>
<rect x="375.8" y="311.56" width="2.3" height="6.66" fill="#213e7f"/>
<rect x="375.8" y="317.93" width="2.3" height="6.66" fill="#203d7b"/>
<rect x="375.8" y="324.29" width="2.3" height="6.66" fill="#213d7c"/>
<rect x="375.8" y="330.65" width="2.3" height="6.66" fill="#213e81"/>
<rect x="375.8" y="337.01" width="2.3" height="6.66" fill="#213e7e"/>
<rect x="375.8" y="343.38" width="2.3" height="6.66" fill="#1f3b71"/>
<rect x="375.8" y="349.74" width="2.3" height="8.36" fill="#203c77"/>
<rect x="377.8" y="201.40" width="2.3" height="8.36" fill="#e7d1d7"/>
<rect x="377.8" y="209.76" width="2.3" height="6.66" fill="#d9cedf"/>
<rect x="377.8" y="216.12" width="2.3" height="6.66" fill="#697cc0"/>
<rect x="377.8" y="222.49" width="2.3" height="6.66" fill="#213e7f"/>
<rect x="377.8" y="228.85" width="2.3" height="6.66" fill="#a1a5d2"/>
<rect x="377.8" y="235.21" width="2.3" height="6.66" fill="#e28878"/>
<rect x="377.8" y="241.58" width="2.3" height="6.66" fill="#5972bb"/>
<rect x="377.8" y="247.94" width="2.3" height="6.66" fill="#2a4ea5"/>
<rect x="377.8" y="254.30" width="2.3" height="6.66" fill="#2f56ae"/>
<rect x="377.8" y="260.66" width="2.3" height="6.66" fill="#e9bcb6"/>
<rect x="377.8" y="267.03" width="2.3" height="6.66" fill="#22418c"/>
<rect x="377.8" y="273.39" width="2.3" height="6.66" fill="#a8a9d4"/>
<rect x="377.8" y="279.75" width="2.3" height="6.66" fill="#23418d"/>
<rect x="377.8" y="286.11" width="2.3" height="6.66" fill="#294ca3"/>
<rect x="377.8" y="292.48" width="2.3" height="6.66" fill="#4465b6"/>
<rect x="377.8" y="298.84" width="2.3" height="6.66" fill="#234394"/>
<rect x="377.8" y="305.20" width="2.3" height="6.66" fill="#6b7dc0"/>
<rect x="377.8" y="311.56" width="2.3" height="6.66" fill="#224088"/>
<rect x="377.8" y="317.93" width="2.3" height="6.66" fill="#1e396c"/>
<rect x="377.8" y="324.29" width="2.3" height="6.66" fill="#203d79"/>
<rect x="377.8" y="330.65" width="2.3" height="6.66" fill="#203c77"/>
<rect x="377.8" y="337.01" width="2.3" height="6.66" fill="#213d7c"/>
<rect x="377.8" y="343.38" width="2.3" height="6.66" fill="#203c77"/>
<rect x="377.8" y="349.74" width="2.3" height="8.36" fill="#1f3a6f"/>
<rect x="379.8" y="201.40" width="2.3" height="8.36" fill="#e69d90"/>
<rect x="379.8" y="209.76" width="2.3" height="6.66" fill="#e7cbcd"/>
<rect x="379.8" y="216.12" width="2.3" height="6.66" fill="#d9cee0"/>
<rect x="379.8" y="222.49" width="2.3" height="6.66" fill="#526db9"/>
<rect x="379.8" y="228.85" width="2.3" height="6.66" fill="#cac3dd"/>
<rect x="379.8" y="235.21" width="2.3" height="6.66" fill="#d3453e"/>
<rect x="379.8" y="241.58" width="2.3" height="6.66" fill="#2e55ad"/>
<rect x="379.8" y="247.94" width="2.3" height="6.66" fill="#2d54ab"/>
<rect x="379.8" y="254.30" width="2.3" height="6.66" fill="#a7a8d3"/>
<rect x="379.8" y="260.66" width="2.3" height="6.66" fill="#a2a5d2"/>
<rect x="379.8" y="267.03" width="2.3" height="6.66" fill="#22418b"/>
<rect x="379.8" y="273.39" width="2.3" height="6.66" fill="#9fa3d1"/>
<rect x="379.8" y="279.75" width="2.3" height="6.66" fill="#244499"/>
<rect x="379.8" y="286.11" width="2.3" height="6.66" fill="#26479e"/>
<rect x="379.8" y="292.48" width="2.3" height="6.66" fill="#4a68b7"/>
<rect x="379.8" y="298.84" width="2.3" height="6.66" fill="#25469c"/>
<rect x="379.8" y="305.20" width="2.3" height="6.66" fill="#7f8bc7"/>
<rect x="379.8" y="311.56" width="2.3" height="6.66" fill="#213f82"/>
<rect x="379.8" y="317.93" width="2.3" height="6.66" fill="#203c76"/>
<rect x="379.8" y="324.29" width="2.3" height="6.66" fill="#213e7e"/>
<rect x="379.8" y="330.65" width="2.3" height="6.66" fill="#203c76"/>
<rect x="379.8" y="337.01" width="2.3" height="6.66" fill="#213d7d"/>
<rect x="379.8" y="343.38" width="2.3" height="6.66" fill="#22418c"/>
<rect x="379.8" y="349.74" width="2.3" height="8.36" fill="#213d7d"/>
<rect x="381.8" y="201.40" width="2.3" height="8.36" fill="#dacfe0"/>
<rect x="381.8" y="209.76" width="2.3" height="6.66" fill="#9fa2d1"/>
<rect x="381.8" y="216.12" width="2.3" height="6.66" fill="#bdb9da"/>
<rect x="381.8" y="222.49" width="2.3" height="6.66" fill="#335ab1"/>
<rect x="381.8" y="228.85" width="2.3" height="6.66" fill="#cdc5dd"/>
<rect x="381.8" y="235.21" width="2.3" height="6.66" fill="#e28778"/>
<rect x="381.8" y="241.58" width="2.3" height="6.66" fill="#4968b7"/>
<rect x="381.8" y="247.94" width="2.3" height="6.66" fill="#2b50a8"/>
<rect x="381.8" y="254.30" width="2.3" height="6.66" fill="#6e7fc1"/>
<rect x="381.8" y="260.66" width="2.3" height="6.66" fill="#ded2e1"/>
<rect x="381.8" y="267.03" width="2.3" height="6.66" fill="#203d79"/>
<rect x="381.8" y="273.39" width="2.3" height="6.66" fill="#7584c3"/>
<rect x="381.8" y="279.75" width="2.3" height="6.66" fill="#224089"/>
<rect x="381.8" y="286.11" width="2.3" height="6.66" fill="#25469c"/>
<rect x="381.8" y="292.48" width="2.3" height="6.66" fill="#536eba"/>
<rect x="381.8" y="298.84" width="2.3" height="6.66" fill="#26489e"/>
<rect x="381.8" y="305.20" width="2.3" height="6.66" fill="#3b5fb3"/>
<rect x="381.8" y="311.56" width="2.3" height="6.66" fill="#223f84"/>
<rect x="381.8" y="317.93" width="2.3" height="6.66" fill="#213d7c"/>
<rect x="381.8" y="324.29" width="2.3" height="6.66" fill="#213d7c"/>
<rect x="381.8" y="330.65" width="2.3" height="6.66" fill="#1f3b71"/>
<rect x="381.8" y="337.01" width="2.3" height="6.66" fill="#203c77"/>
<rect x="381.8" y="343.38" width="2.3" height="6.66" fill="#203c78"/>
<rect x="381.8" y="349.74" width="2.3" height="8.36" fill="#203c78"/>
<rect x="383.8" y="201.40" width="2.3" height="8.36" fill="#e7c9cb"/>
<rect x="383.8" y="209.76" width="2.3" height="6.66" fill="#adadd5"/>
<rect x="383.8" y="216.12" width="2.3" height="6.66" fill="#969cce"/>
<rect x="383.8" y="222.49" width="2.3" height="6.66" fill="#26479d"/>
<rect x="383.8" y="228.85" width="2.3" height="6.66" fill="#4d6ab8"/>
<rect x="383.8" y="235.21" width="2.3" height="6.66" fill="#e9aca0"/>
<rect x="383.8" y="241.58" width="2.3" height="6.66" fill="#3057af"/>
<rect x="383.8" y="247.94" width="2.3" height="6.66" fill="#3259b1"/>
<rect x="383.8" y="254.30" width="2.3" height="6.66" fill="#a5a7d3"/>
<rect x="383.8" y="260.66" width="2.3" height="6.66" fill="#a8a9d4"/>
<rect x="383.8" y="267.03" width="2.3" height="6.66" fill="#203b74"/>
<rect x="383.8" y="273.39" width="2.3" height="6.66" fill="#a7a9d3"/>
<rect x="383.8" y="279.75" width="2.3" height="6.66" fill="#22418b"/>
<rect x="383.8" y="286.11" width="2.3" height="6.66" fill="#25459c"/>
<rect x="383.8" y="292.48" width="2.3" height="6.66" fill="#4f6bb9"/>
<rect x="383.8" y="298.84" width="2.3" height="6.66" fill="#234394"/>
<rect x="383.8" y="305.20" width="2.3" height="6.66" fill="#3058b0"/>
<rect x="383.8" y="311.56" width="2.3" height="6.66" fill="#224089"/>
<rect x="383.8" y="317.93" width="2.3" height="6.66" fill="#1f3b72"/>
<rect x="383.8" y="324.29" width="2.3" height="6.66" fill="#213d7b"/>
<rect x="383.8" y="330.65" width="2.3" height="6.66" fill="#213e81"/>
<rect x="383.8" y="337.01" width="2.3" height="6.66" fill="#203b74"/>
<rect x="383.8" y="343.38" width="2.3" height="6.66" fill="#213d7c"/>
<rect x="383.8" y="349.74" width="2.3" height="8.36" fill="#1f396d"/>
<rect x="385.8" y="201.40" width="2.3" height="8.36" fill="#e9b7af"/>
<rect x="385.8" y="209.76" width="2.3" height="6.66" fill="#9fa3d1"/>
<rect x="385.8" y="216.12" width="2.3" height="6.66" fill="#2f56ae"/>
<rect x="385.8" y="222.49" width="2.3" height="6.66" fill="#3c5fb3"/>
<rect x="385.8" y="228.85" width="2.3" height="6.66" fill="#e8a99c"/>
<rect x="385.8" y="235.21" width="2.3" height="6.66" fill="#da5a4e"/>
<rect x="385.8" y="241.58" width="2.3" height="6.66" fill="#25469c"/>
<rect x="385.8" y="247.94" width="2.3" height="6.66" fill="#3b5fb3"/>
<rect x="385.8" y="254.30" width="2.3" height="6.66" fill="#7081c2"/>
<rect x="385.8" y="260.66" width="2.3" height="6.66" fill="#e49385"/>
<rect x="385.8" y="267.03" width="2.3" height="6.66" fill="#22418c"/>
<rect x="385.8" y="273.39" width="2.3" height="6.66" fill="#bdb9da"/>
<rect x="385.8" y="279.75" width="2.3" height="6.66" fill="#244398"/>
<rect x="385.8" y="286.11" width="2.3" height="6.66" fill="#274aa0"/>
<rect x="385.8" y="292.48" width="2.3" height="6.66" fill="#677abf"/>
<rect x="385.8" y="298.84" width="2.3" height="6.66" fill="#294da4"/>
<rect x="385.8" y="305.20" width="2.3" height="6.66" fill="#5670bb"/>
<rect x="385.8" y="311.56" width="2.3" height="6.66" fill="#213d7d"/>
<rect x="385.8" y="317.93" width="2.3" height="6.66" fill="#203b75"/>
<rect x="385.8" y="324.29" width="2.3" height="6.66" fill="#203b74"/>
<rect x="385.8" y="330.65" width="2.3" height="6.66" fill="#224087"/>
<rect x="385.8" y="337.01" width="2.3" height="6.66" fill="#203b74"/>
<rect x="385.8" y="343.38" width="2.3" height="6.66" fill="#213f83"/>
<rect x="385.8" y="349.74" width="2.3" height="8.36" fill="#213d7c"/>
<rect x="387.8" y="201.40" width="2.3" height="8.36" fill="#e6d7e0"/>
<rect x="387.8" y="209.76" width="2.3" height="6.66" fill="#e7c9cb"/>
<rect x="387.8" y="216.12" width="2.3" height="6.66" fill="#a3a6d2"/>
<rect x="387.8" y="222.49" width="2.3" height="6.66" fill="#7a87c5"/>
<rect x="387.8" y="228.85" width="2.3" height="6.66" fill="#e7a295"/>
<rect x="387.8" y="235.21" width="2.3" height="6.66" fill="#e18474"/>
<rect x="387.8" y="241.58" width="2.3" height="6.66" fill="#2d53ab"/>
<rect x="387.8" y="247.94" width="2.3" height="6.66" fill="#4263b5"/>
<rect x="387.8" y="254.30" width="2.3" height="6.66" fill="#2a4ea5"/>
<rect x="387.8" y="260.66" width="2.3" height="6.66" fill="#e8a598"/>
<rect x="387.8" y="267.03" width="2.3" height="6.66" fill="#213f82"/>
<rect x="387.8" y="273.39" width="2.3" height="6.66" fill="#bcb8da"/>
<rect x="387.8" y="279.75" width="2.3" height="6.66" fill="#234394"/>
<rect x="387.8" y="286.11" width="2.3" height="6.66" fill="#26479d"/>
<rect x="387.8" y="292.48" width="2.3" height="6.66" fill="#2a4fa6"/>
<rect x="387.8" y="298.84" width="2.3" height="6.66" fill="#234293"/>
<rect x="387.8" y="305.20" width="2.3" height="6.66" fill="#365cb2"/>
<rect x="387.8" y="311.56" width="2.3" height="6.66" fill="#224089"/>
<rect x="387.8" y="317.93" width="2.3" height="6.66" fill="#1f3b72"/>
<rect x="387.8" y="324.29" width="2.3" height="6.66" fill="#213d7c"/>
<rect x="387.8" y="330.65" width="2.3" height="6.66" fill="#213d7c"/>
<rect x="387.8" y="337.01" width="2.3" height="6.66" fill="#213d7d"/>
<rect x="387.8" y="343.38" width="2.3" height="6.66" fill="#203d7a"/>
<rect x="387.8" y="349.74" width="2.3" height="8.36" fill="#203d7b"/>
<rect x="389.8" y="201.40" width="2.3" height="8.36" fill="#7584c3"/>
<rect x="389.8" y="209.76" width="2.3" height="6.66" fill="#677abf"/>
<rect x="389.8" y="216.12" width="2.3" height="6.66" fill="#6478be"/>
<rect x="389.8" y="222.49" width="2.3" height="6.66" fill="#2b50a8"/>
<rect x="389.8" y="228.85" width="2.3" height="6.66" fill="#2f57af"/>
<rect x="389.8" y="235.21" width="2.3" height="6.66" fill="#eab1a5"/>
<rect x="389.8" y="241.58" width="2.3" height="6.66" fill="#203c78"/>
<rect x="389.8" y="247.94" width="2.3" height="6.66" fill="#1e396c"/>
<rect x="389.8" y="254.30" width="2.3" height="6.66" fill="#3c5fb3"/>
<rect x="389.8" y="260.66" width="2.3" height="6.66" fill="#818dc7"/>
<rect x="389.8" y="267.03" width="2.3" height="6.66" fill="#203d7b"/>
<rect x="389.8" y="273.39" width="2.3" height="6.66" fill="#6076bd"/>
<rect x="389.8" y="279.75" width="2.3" height="6.66" fill="#224087"/>
<rect x="389.8" y="286.11" width="2.3" height="6.66" fill="#24449a"/>
<rect x="389.8" y="292.48" width="2.3" height="6.66" fill="#2b50a7"/>
<rect x="389.8" y="298.84" width="2.3" height="6.66" fill="#244397"/>
<rect x="389.8" y="305.20" width="2.3" height="6.66" fill="#335ab1"/>
<rect x="389.8" y="311.56" width="2.3" height="6.66" fill="#224088"/>
<rect x="389.8" y="324.29" width="2.3" height="6.66" fill="#203b73"/>
<rect x="389.8" y="330.65" width="2.3" height="6.66" fill="#203b72"/>
<rect x="389.8" y="337.01" width="2.3" height="6.66" fill="#203b73"/>
<rect x="389.8" y="343.38" width="2.3" height="6.66" fill="#1e386c"/>
<rect x="389.8" y="349.74" width="2.3" height="8.36" fill="#203d7b"/>
<rect x="391.8" y="201.40" width="2.3" height="8.36" fill="#7d8ac6"/>
<rect x="391.8" y="209.76" width="2.3" height="6.66" fill="#9098cc"/>
<rect x="391.8" y="216.12" width="2.3" height="6.66" fill="#4766b6"/>
<rect x="391.8" y="222.49" width="2.3" height="6.66" fill="#2a4ea5"/>
<rect x="391.8" y="228.85" width="2.3" height="6.66" fill="#dacfe0"/>
<rect x="391.8" y="235.21" width="2.3" height="6.66" fill="#e7cacc"/>
<rect x="391.8" y="241.58" width="2.3" height="6.66" fill="#3158b0"/>
<rect x="391.8" y="247.94" width="2.3" height="6.66" fill="#22418b"/>
<rect x="391.8" y="254.30" width="2.3" height="6.66" fill="#e8c1bf"/>
<rect x="391.8" y="260.66" width="2.3" height="6.66" fill="#eab4aa"/>
<rect x="391.8" y="267.03" width="2.3" height="6.66" fill="#213d7c"/>
<rect x="391.8" y="273.39" width="2.3" height="6.66" fill="#6b7cc0"/>
<rect x="391.8" y="279.75" width="2.3" height="6.66" fill="#213e7f"/>
<rect x="391.8" y="286.11" width="2.3" height="6.66" fill="#213f83"/>
<rect x="391.8" y="292.48" width="2.3" height="6.66" fill="#234395"/>
<rect x="391.8" y="298.84" width="2.3" height="6.66" fill="#213d7b"/>
<rect x="391.8" y="305.20" width="2.3" height="6.66" fill="#26479e"/>
<rect x="391.8" y="311.56" width="2.3" height="6.66" fill="#23428f"/>
<rect x="391.8" y="317.93" width="2.3" height="6.66" fill="#1f3a6f"/>
<rect x="391.8" y="324.29" width="2.3" height="6.66" fill="#1f396d"/>
<rect x="391.8" y="330.65" width="2.3" height="6.66" fill="#1f396d"/>
<rect x="391.8" y="337.01" width="2.3" height="6.66" fill="#203b74"/>
<rect x="391.8" y="343.38" width="2.3" height="6.66" fill="#1e396d"/>
<rect x="391.8" y="349.74" width="2.3" height="8.36" fill="#1e386b"/>
<rect x="393.8" y="201.40" width="2.3" height="8.36" fill="#e6d3db"/>
<rect x="393.8" y="209.76" width="2.3" height="6.66" fill="#294da4"/>
<rect x="393.8" y="216.12" width="2.3" height="6.66" fill="#385db2"/>
<rect x="393.8" y="222.49" width="2.3" height="6.66" fill="#2d53ab"/>
<rect x="393.8" y="228.85" width="2.3" height="6.66" fill="#c2bcdb"/>
<rect x="393.8" y="235.21" width="2.3" height="6.66" fill="#b4b2d7"/>
<rect x="393.8" y="241.58" width="2.3" height="6.66" fill="#244498"/>
<rect x="393.8" y="247.94" width="2.3" height="6.66" fill="#2d53aa"/>
<rect x="393.8" y="254.30" width="2.3" height="6.66" fill="#808cc7"/>
<rect x="393.8" y="260.66" width="2.3" height="6.66" fill="#6b7dc0"/>
<rect x="393.8" y="267.03" width="2.3" height="6.66" fill="#22418b"/>
<rect x="393.8" y="273.39" width="2.3" height="6.66" fill="#aaabd4"/>
<rect x="393.8" y="279.75" width="2.3" height="6.66" fill="#234393"/>
<rect x="393.8" y="286.11" width="2.3" height="6.66" fill="#213f82"/>
<rect x="393.8" y="292.48" width="2.3" height="6.66" fill="#23418f"/>
<rect x="393.8" y="298.84" width="2.3" height="6.66" fill="#213e7e"/>
<rect x="393.8" y="305.20" width="2.3" height="6.66" fill="#2b50a8"/>
<rect x="393.8" y="311.56" width="2.3" height="6.66" fill="#213e80"/>
<rect x="393.8" y="317.93" width="2.3" height="6.66" fill="#1e386c"/>
<rect x="393.8" y="324.29" width="2.3" height="6.66" fill="#203c78"/>
<rect x="393.8" y="330.65" width="2.3" height="6.66" fill="#203c78"/>
<rect x="393.8" y="337.01" width="2.3" height="6.66" fill="#1f396d"/>
<rect x="393.8" y="349.74" width="2.3" height="8.36" fill="#203c77"/>
<rect x="395.8" y="201.40" width="2.3" height="8.36" fill="#6478be"/>
<rect x="395.8" y="209.76" width="2.3" height="6.66" fill="#b7b5d9"/>
<rect x="395.8" y="216.12" width="2.3" height="6.66" fill="#c9c2dd"/>
<rect x="395.8" y="222.49" width="2.3" height="6.66" fill="#949bcd"/>
<rect x="395.8" y="228.85" width="2.3" height="6.66" fill="#beb9da"/>
<rect x="395.8" y="235.21" width="2.3" height="6.66" fill="#e59a8d"/>
<rect x="395.8" y="241.58" width="2.3" height="6.66" fill="#4867b7"/>
<rect x="395.8" y="247.94" width="2.3" height="6.66" fill="#a0a4d1"/>
<rect x="395.8" y="254.30" width="2.3" height="6.66" fill="#e9bbb5"/>
<rect x="395.8" y="260.66" width="2.3" height="6.66" fill="#e8c8c9"/>
<rect x="395.8" y="267.03" width="2.3" height="6.66" fill="#213f83"/>
<rect x="395.8" y="273.39" width="2.3" height="6.66" fill="#9ba0cf"/>
<rect x="395.8" y="279.75" width="2.3" height="6.66" fill="#22418c"/>
<rect x="395.8" y="286.11" width="2.3" height="6.66" fill="#22418b"/>
<rect x="395.8" y="292.48" width="2.3" height="6.66" fill="#244397"/>
<rect x="395.8" y="298.84" width="2.3" height="6.66" fill="#213f83"/>
<rect x="395.8" y="305.20" width="2.3" height="6.66" fill="#355bb1"/>
<rect x="395.8" y="311.56" width="2.3" height="6.66" fill="#23418f"/>
<rect x="395.8" y="317.93" width="2.3" height="6.66" fill="#1f3b72"/>
<rect x="395.8" y="324.29" width="2.3" height="6.66" fill="#213f83"/>
<rect x="395.8" y="330.65" width="2.3" height="6.66" fill="#213e80"/>
<rect x="395.8" y="337.01" width="2.3" height="6.66" fill="#1e396c"/>
<rect x="395.8" y="343.38" width="2.3" height="6.66" fill="#203d79"/>
<rect x="395.8" y="349.74" width="2.3" height="8.36" fill="#213e7e"/>
<rect x="397.8" y="201.40" width="2.3" height="8.36" fill="#ccc4dd"/>
<rect x="397.8" y="209.76" width="2.3" height="6.66" fill="#6e7fc1"/>
<rect x="397.8" y="216.12" width="2.3" height="6.66" fill="#e9bbb5"/>
<rect x="397.8" y="222.49" width="2.3" height="6.66" fill="#536eba"/>
<rect x="397.8" y="228.85" width="2.3" height="6.66" fill="#4766b6"/>
<rect x="397.8" y="235.21" width="2.3" height="6.66" fill="#e5998b"/>
<rect x="397.8" y="241.58" width="2.3" height="6.66" fill="#667abf"/>
<rect x="397.8" y="247.94" width="2.3" height="6.66" fill="#234395"/>
<rect x="397.8" y="254.30" width="2.3" height="6.66" fill="#eab4aa"/>
<rect x="397.8" y="260.66" width="2.3" height="6.66" fill="#eaafa3"/>
<rect x="397.8" y="267.03" width="2.3" height="6.66" fill="#203d7b"/>
<rect x="397.8" y="273.39" width="2.3" height="6.66" fill="#818dc7"/>
<rect x="397.8" y="279.75" width="2.3" height="6.66" fill="#224086"/>
<rect x="397.8" y="286.11" width="2.3" height="6.66" fill="#224089"/>
<rect x="397.8" y="292.48" width="2.3" height="6.66" fill="#244498"/>
<rect x="397.8" y="298.84" width="2.3" height="6.66" fill="#213e81"/>
<rect x="397.8" y="305.20" width="2.3" height="6.66" fill="#2e54ac"/>
<rect x="397.8" y="311.56" width="2.3" height="6.66" fill="#213e82"/>
<rect x="397.8" y="317.93" width="2.3" height="6.66" fill="#1f3b72"/>
<rect x="397.8" y="324.29" width="2.3" height="6.66" fill="#203c75"/>
<rect x="397.8" y="330.65" width="2.3" height="6.66" fill="#1f3b70"/>
<rect x="397.8" y="337.01" width="2.3" height="6.66" fill="#203d7a"/>
<rect x="397.8" y="349.74" width="2.3" height="8.36" fill="#1f3b72"/>
<rect x="399.8" y="201.40" width="4.0" height="8.36" fill="#e9b7af"/>
<rect x="399.8" y="209.76" width="4.0" height="6.66" fill="#26479d"/>
<rect x="399.8" y="216.12" width="4.0" height="6.66" fill="#4e6ab8"/>
<rect x="399.8" y="222.49" width="4.0" height="6.66" fill="#2e55ad"/>
<rect x="399.8" y="228.85" width="4.0" height="6.66" fill="#2e54ac"/>
<rect x="399.8" y="235.21" width="4.0" height="6.66" fill="#7080c2"/>
<rect x="399.8" y="241.58" width="4.0" height="6.66" fill="#2d52aa"/>
<rect x="399.8" y="247.94" width="4.0" height="6.66" fill="#3f62b4"/>
<rect x="399.8" y="254.30" width="4.0" height="6.66" fill="#bcb8da"/>
<rect x="399.8" y="260.66" width="4.0" height="6.66" fill="#ddd1e0"/>
<rect x="399.8" y="267.03" width="4.0" height="6.66" fill="#203d7a"/>
<rect x="399.8" y="273.39" width="4.0" height="6.66" fill="#c7c0dc"/>
<rect x="399.8" y="279.75" width="4.0" height="6.66" fill="#22418b"/>
<rect x="399.8" y="286.11" width="4.0" height="6.66" fill="#203d7a"/>
<rect x="399.8" y="292.48" width="4.0" height="6.66" fill="#2a4fa6"/>
<rect x="399.8" y="298.84" width="4.0" height="6.66" fill="#22408a"/>
<rect x="399.8" y="305.20" width="4.0" height="6.66" fill="#244398"/>
<rect x="399.8" y="311.56" width="4.0" height="6.66" fill="#203c76"/>
<rect x="399.8" y="317.93" width="4.0" height="6.66" fill="#213e7f"/>
<rect x="399.8" y="324.29" width="4.0" height="6.66" fill="#1f3b71"/>
<rect x="399.8" y="337.01" width="4.0" height="6.66" fill="#203b73"/>
<rect x="399.8" y="343.38" width="4.0" height="6.66" fill="#1f3a6f"/>
<rect x="399.8" y="349.74" width="4.0" height="8.36" fill="#203d79"/>
</g></g>
<line x1="327.30" y1="203.40" x2="327.30" y2="356.10" stroke="#6a84c0" stroke-width="0.6" opacity="0.7"/>
<rect x="277.80" y="203.40" width="124.00" height="152.70" fill="none" stroke="#101830" stroke-width="0.6" />
<path d="M404.2,205.3 H406.2 V240.0 H404.2" fill="none" stroke="#222" stroke-width="0.7"/>
<text stroke="#333" stroke-width="0.22" x="408.20" y="224.65" font-size="5.9" text-anchor="start" fill="#1e1e1e" font-weight="normal" >effector</text>
<path d="M404.2,243.2 H406.2 V267.5 H404.2" fill="none" stroke="#222" stroke-width="0.7"/>
<text stroke="#333" stroke-width="0.22" x="408.20" y="257.35" font-size="5.9" text-anchor="start" fill="#1e1e1e" font-weight="normal" >memory</text>
<path d="M404.2,269.9 H406.2 V284.8 H404.2" fill="none" stroke="#222" stroke-width="0.7"/>
<text stroke="#333" stroke-width="0.22" x="408.20" y="279.35" font-size="5.9" text-anchor="start" fill="#1e1e1e" font-weight="normal" >chemokines</text>
<path d="M404.2,287.7 H406.2 V316.0 H404.2" fill="none" stroke="#222" stroke-width="0.7"/>
<text stroke="#333" stroke-width="0.22" x="408.20" y="303.85" font-size="5.9" text-anchor="start" fill="#1e1e1e" font-weight="normal" >exhaustion</text>
<path d="M404.2,319.0 H406.2 V354.7 H404.2" fill="none" stroke="#222" stroke-width="0.7"/>
<text stroke="#333" stroke-width="0.22" x="408.20" y="338.85" font-size="5.9" text-anchor="start" fill="#1e1e1e" font-weight="normal" >proliferation</text>
<text stroke="#444" stroke-width="0.22" x="433.20" y="191.80" font-size="5.7" text-anchor="start" fill="#2a2a2a" font-weight="normal" >normalized</text>
<text stroke="#444" stroke-width="0.22" x="433.40" y="199.30" font-size="5.7" text-anchor="start" fill="#2a2a2a" font-weight="normal" >expression</text>
<rect x="444.70" y="206.80" width="5.00" height="75.00" fill="url(#cbE)" stroke="none" stroke-width="0.8" />
<line x1="449.70" y1="206.80" x2="451.20" y2="206.80" stroke="#333" stroke-width="0.5" />
<text stroke="#333" stroke-width="0.22" x="454.40" y="208.90" font-size="6.0" text-anchor="start" fill="#1e1e1e" font-weight="normal" >1</text>
<line x1="449.70" y1="244.30" x2="451.20" y2="244.30" stroke="#333" stroke-width="0.5" />
<text stroke="#333" stroke-width="0.22" x="452.40" y="246.40" font-size="6.0" text-anchor="start" fill="#1e1e1e" font-weight="normal" >0.5</text>
<line x1="449.70" y1="281.80" x2="451.20" y2="281.80" stroke="#333" stroke-width="0.5" />
<text stroke="#333" stroke-width="0.22" x="452.80" y="283.90" font-size="6.0" text-anchor="start" fill="#1e1e1e" font-weight="normal" >0</text>
<rect x="0.50" y="0.50" width="519.00" height="362.00" fill="none" stroke="#4a4a4a" stroke-width="1.0" /></svg></body></html>
